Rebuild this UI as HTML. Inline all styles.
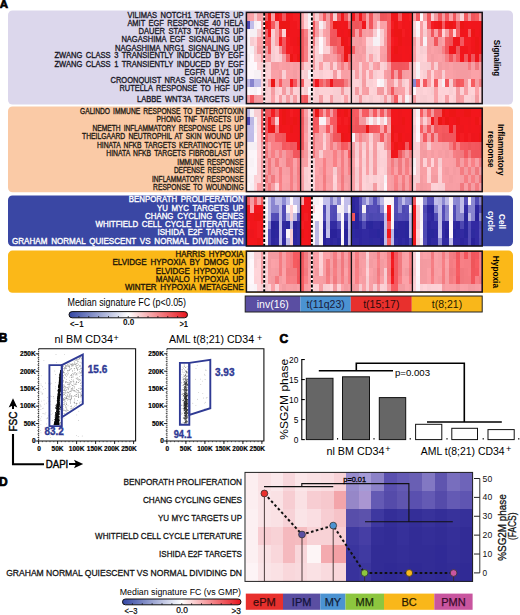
<!DOCTYPE html>
<html><head><meta charset="utf-8"><style>
html,body{margin:0;padding:0;background:#fff;width:520px;height:615px;overflow:hidden}
svg{display:block;font-family:"Liberation Sans", sans-serif}
</style></head><body>
<svg width="520" height="615" viewBox="0 0 520 615">
<text x="-0.3" y="7.6" font-size="11.5" font-weight="bold" fill="#000" text-anchor="start" stroke="#000" stroke-width="0.7">A</text>
<rect x="8" y="10.5" width="505" height="94.00" rx="4.5" fill="#dcd7ec"/>
<rect x="8" y="106.5" width="505" height="85.80" rx="4.5" fill="#facaa6"/>
<rect x="8" y="195.5" width="505" height="50.80" rx="4.5" fill="#3a47a4"/>
<rect x="8" y="250.6" width="505" height="42.10" rx="4.5" fill="#fbb818"/>
<text x="243.6" y="17.95" font-size="8.5" font-weight="normal" fill="#1b1a28" text-anchor="end" textLength="116.2" lengthAdjust="spacingAndGlyphs" stroke="#1b1a28" stroke-width="0.35" word-spacing="1.6">VILIMAS NOTCH1 TARGETS UP</text>
<text x="243.6" y="25.95" font-size="8.5" font-weight="normal" fill="#1b1a28" text-anchor="end" textLength="116.2" lengthAdjust="spacingAndGlyphs" stroke="#1b1a28" stroke-width="0.35" word-spacing="1.6">AMIT EGF RESPONSE 40 HELA</text>
<text x="243.6" y="33.95" font-size="8.5" font-weight="normal" fill="#1b1a28" text-anchor="end" textLength="105.1" lengthAdjust="spacingAndGlyphs" stroke="#1b1a28" stroke-width="0.35" word-spacing="1.6">DAUER STAT3 TARGETS UP</text>
<text x="243.6" y="42.2" font-size="8.5" font-weight="normal" fill="#1b1a28" text-anchor="end" textLength="122.2" lengthAdjust="spacingAndGlyphs" stroke="#1b1a28" stroke-width="0.35" word-spacing="1.6">NAGASHIMA EGF SIGNALING UP</text>
<text x="243.6" y="50.95" font-size="8.5" font-weight="normal" fill="#1b1a28" text-anchor="end" textLength="128.6" lengthAdjust="spacingAndGlyphs" stroke="#1b1a28" stroke-width="0.35" word-spacing="1.6">NAGASHIMA NRG1 SIGNALING UP</text>
<text x="243.6" y="58.45" font-size="8.5" font-weight="normal" fill="#1b1a28" text-anchor="end" textLength="189.1" lengthAdjust="spacingAndGlyphs" stroke="#1b1a28" stroke-width="0.35" word-spacing="1.6">ZWANG CLASS 3 TRANSIENTLY INDUCED BY EGF</text>
<text x="243.6" y="67.2" font-size="8.5" font-weight="normal" fill="#1b1a28" text-anchor="end" textLength="189.1" lengthAdjust="spacingAndGlyphs" stroke="#1b1a28" stroke-width="0.35" word-spacing="1.6">ZWANG CLASS 1 TRANSIENTLY INDUCED BY EGF</text>
<text x="243.6" y="75.15" font-size="8.5" font-weight="normal" fill="#1b1a28" text-anchor="end" textLength="59.0" lengthAdjust="spacingAndGlyphs" stroke="#1b1a28" stroke-width="0.35" word-spacing="1.6">EGFR UP.V1 UP</text>
<text x="243.6" y="83.45" font-size="8.5" font-weight="normal" fill="#1b1a28" text-anchor="end" textLength="133.1" lengthAdjust="spacingAndGlyphs" stroke="#1b1a28" stroke-width="0.35" word-spacing="1.6">CROONQUIST NRAS SIGNALING UP</text>
<text x="243.6" y="91.35" font-size="8.5" font-weight="normal" fill="#1b1a28" text-anchor="end" textLength="124.1" lengthAdjust="spacingAndGlyphs" stroke="#1b1a28" stroke-width="0.35" word-spacing="1.6">RUTELLA RESPONSE TO HGF UP</text>
<text x="243.6" y="101.55" font-size="8.5" font-weight="normal" fill="#1b1a28" text-anchor="end" textLength="106.6" lengthAdjust="spacingAndGlyphs" stroke="#1b1a28" stroke-width="0.35" word-spacing="1.6">LABBE WNT3A TARGETS UP</text>
<text x="243.6" y="113.85" font-size="8.5" font-weight="normal" fill="#231a14" text-anchor="end" textLength="163.6" lengthAdjust="spacingAndGlyphs" stroke="#231a14" stroke-width="0.35" word-spacing="1.6">GALINDO IMMUNE RESPONSE TO ENTEROTOXIN</text>
<text x="243.6" y="122.45" font-size="8.5" font-weight="normal" fill="#231a14" text-anchor="end" textLength="87.0" lengthAdjust="spacingAndGlyphs" stroke="#231a14" stroke-width="0.35" word-spacing="1.6">PHONG TNF TARGETS UP</text>
<text x="243.6" y="130.85" font-size="8.5" font-weight="normal" fill="#231a14" text-anchor="end" textLength="151.1" lengthAdjust="spacingAndGlyphs" stroke="#231a14" stroke-width="0.35" word-spacing="1.6">NEMETH INFLAMMATORY RESPONSE LPS UP</text>
<text x="243.6" y="139.25" font-size="8.5" font-weight="normal" fill="#231a14" text-anchor="end" textLength="161.6" lengthAdjust="spacingAndGlyphs" stroke="#231a14" stroke-width="0.35" word-spacing="1.6">THEILGAARD NEUTROPHIL AT SKIN WOUND UP</text>
<text x="243.6" y="147.55" font-size="8.5" font-weight="normal" fill="#231a14" text-anchor="end" textLength="146.6" lengthAdjust="spacingAndGlyphs" stroke="#231a14" stroke-width="0.35" word-spacing="1.6">HINATA NFKB TARGETS KERATINOCYTE UP</text>
<text x="243.6" y="156.05" font-size="8.5" font-weight="normal" fill="#231a14" text-anchor="end" textLength="137.3" lengthAdjust="spacingAndGlyphs" stroke="#231a14" stroke-width="0.35" word-spacing="1.6">HINATA NFKB TARGETS FIBROBLAST UP</text>
<text x="243.6" y="164.65" font-size="8.5" font-weight="normal" fill="#231a14" text-anchor="end" textLength="66.3" lengthAdjust="spacingAndGlyphs" stroke="#231a14" stroke-width="0.35" word-spacing="1.6">IMMUNE RESPONSE</text>
<text x="243.6" y="172.95" font-size="8.5" font-weight="normal" fill="#231a14" text-anchor="end" textLength="69.7" lengthAdjust="spacingAndGlyphs" stroke="#231a14" stroke-width="0.35" word-spacing="1.6">DEFENSE RESPONSE</text>
<text x="243.6" y="181.65" font-size="8.5" font-weight="normal" fill="#231a14" text-anchor="end" textLength="91.6" lengthAdjust="spacingAndGlyphs" stroke="#231a14" stroke-width="0.35" word-spacing="1.6">INFLAMMATORY RESPONSE</text>
<text x="243.6" y="190.25" font-size="8.5" font-weight="normal" fill="#231a14" text-anchor="end" textLength="90.5" lengthAdjust="spacingAndGlyphs" stroke="#231a14" stroke-width="0.35" word-spacing="1.6">RESPONSE TO WOUNDING</text>
<text x="243.6" y="202.45" font-size="8.5" font-weight="normal" fill="#ffffff" text-anchor="end" textLength="114.8" lengthAdjust="spacingAndGlyphs" stroke="#ffffff" stroke-width="0.35" word-spacing="1.6">BENPORATH PROLIFERATION</text>
<text x="243.6" y="210.55" font-size="8.5" font-weight="normal" fill="#ffffff" text-anchor="end" textLength="86.6" lengthAdjust="spacingAndGlyphs" stroke="#ffffff" stroke-width="0.35" word-spacing="1.6">YU MYC TARGETS UP</text>
<text x="243.6" y="218.55" font-size="8.5" font-weight="normal" fill="#ffffff" text-anchor="end" textLength="98.6" lengthAdjust="spacingAndGlyphs" stroke="#ffffff" stroke-width="0.35" word-spacing="1.6">CHANG CYCLING GENES</text>
<text x="243.6" y="226.75" font-size="8.5" font-weight="normal" fill="#ffffff" text-anchor="end" textLength="148.1" lengthAdjust="spacingAndGlyphs" stroke="#ffffff" stroke-width="0.35" word-spacing="1.6">WHITFIELD CELL CYCLE LITERATURE</text>
<text x="243.6" y="235.35" font-size="8.5" font-weight="normal" fill="#ffffff" text-anchor="end" textLength="86.1" lengthAdjust="spacingAndGlyphs" stroke="#ffffff" stroke-width="0.35" word-spacing="1.6">ISHIDA E2F TARGETS</text>
<text x="243.6" y="244.05" font-size="8.5" font-weight="normal" fill="#ffffff" text-anchor="end" textLength="231.6" lengthAdjust="spacingAndGlyphs" stroke="#ffffff" stroke-width="0.35" word-spacing="1.6">GRAHAM NORMAL QUIESCENT VS NORMAL DIVIDING DN</text>
<text x="243.6" y="257.05" font-size="8.5" font-weight="normal" fill="#1e1608" text-anchor="end" textLength="68.1" lengthAdjust="spacingAndGlyphs" stroke="#1e1608" stroke-width="0.35" word-spacing="1.6">HARRIS HYPOXIA</text>
<text x="243.6" y="265.45" font-size="8.5" font-weight="normal" fill="#1e1608" text-anchor="end" textLength="131.1" lengthAdjust="spacingAndGlyphs" stroke="#1e1608" stroke-width="0.35" word-spacing="1.6">ELVIDGE HYPOXIA BY DMOG UP</text>
<text x="243.6" y="273.75" font-size="8.5" font-weight="normal" fill="#1e1608" text-anchor="end" textLength="87.8" lengthAdjust="spacingAndGlyphs" stroke="#1e1608" stroke-width="0.35" word-spacing="1.6">ELVIDGE HYPOXIA UP</text>
<text x="243.6" y="281.85" font-size="8.5" font-weight="normal" fill="#1e1608" text-anchor="end" textLength="87.8" lengthAdjust="spacingAndGlyphs" stroke="#1e1608" stroke-width="0.35" word-spacing="1.6">MANALO HYPOXIA UP</text>
<text x="243.6" y="290.15" font-size="8.5" font-weight="normal" fill="#1e1608" text-anchor="end" textLength="118.6" lengthAdjust="spacingAndGlyphs" stroke="#1e1608" stroke-width="0.35" word-spacing="1.6">WINTER HYPOXIA METAGENE</text>
<text transform="translate(494.3,57.9) rotate(90)" x="0" y="0" font-size="9.6" font-weight="bold" fill="#000" text-anchor="middle" textLength="36.3" lengthAdjust="spacingAndGlyphs">Signaling</text>
<text transform="translate(498.2,149.8) rotate(90)" x="0" y="0" font-size="9.6" font-weight="bold" fill="#000" text-anchor="middle" textLength="51.6" lengthAdjust="spacingAndGlyphs">Inflammatory</text>
<text transform="translate(488.4,149.3) rotate(90)" x="0" y="0" font-size="9.6" font-weight="bold" fill="#000" text-anchor="middle" textLength="36.5" lengthAdjust="spacingAndGlyphs">response</text>
<text transform="translate(499.4,221.5) rotate(90)" x="0" y="0" font-size="9.6" font-weight="bold" fill="#fff" text-anchor="middle" textLength="15.2" lengthAdjust="spacingAndGlyphs">Cell</text>
<text transform="translate(487.6,221.3) rotate(90)" x="0" y="0" font-size="9.6" font-weight="bold" fill="#fff" text-anchor="middle" textLength="20.5" lengthAdjust="spacingAndGlyphs">cycle</text>
<text transform="translate(493.4,271.9) rotate(90)" x="0" y="0" font-size="9.6" font-weight="bold" fill="#000" text-anchor="middle" textLength="32.2" lengthAdjust="spacingAndGlyphs">Hypoxia</text>
<defs><filter id="soft" x="-2%" y="-2%" width="104%" height="104%"><feGaussianBlur stdDeviation="0.6"/></filter></defs>
<g shape-rendering="crispEdges" filter="url(#soft)"><rect x="246.40" y="12.40" width="3.86" height="8.59" fill="#f69da3"/>
<rect x="249.96" y="12.40" width="3.86" height="8.59" fill="#fba2a8"/>
<rect x="253.52" y="12.40" width="3.86" height="8.59" fill="#f9ced3"/>
<rect x="257.08" y="12.40" width="3.86" height="8.59" fill="#f89fa5"/>
<rect x="260.64" y="12.40" width="3.86" height="8.59" fill="#faa1a7"/>
<rect x="264.20" y="12.40" width="3.94" height="8.59" fill="#f0555b"/>
<rect x="267.84" y="12.40" width="3.94" height="8.59" fill="#ec1218"/>
<rect x="271.48" y="12.40" width="3.94" height="8.59" fill="#faa1a7"/>
<rect x="275.12" y="12.40" width="3.94" height="8.59" fill="#f0161c"/>
<rect x="278.76" y="12.40" width="3.94" height="8.59" fill="#f41a20"/>
<rect x="282.40" y="12.40" width="3.94" height="8.59" fill="#f2575d"/>
<rect x="286.04" y="12.40" width="3.94" height="8.59" fill="#ef151b"/>
<rect x="289.68" y="12.40" width="3.94" height="8.59" fill="#f3191f"/>
<rect x="293.32" y="12.40" width="3.94" height="8.59" fill="#f41a20"/>
<rect x="296.96" y="12.40" width="3.94" height="8.59" fill="#f41a20"/>
<rect x="300.60" y="12.40" width="4.07" height="8.59" fill="#faa1a7"/>
<rect x="304.37" y="12.40" width="4.07" height="8.59" fill="#fdd2d7"/>
<rect x="308.13" y="12.40" width="4.07" height="8.59" fill="#f8f2f6"/>
<rect x="311.90" y="12.40" width="3.89" height="8.59" fill="#f69da3"/>
<rect x="315.49" y="12.40" width="3.89" height="8.59" fill="#f9ced3"/>
<rect x="319.08" y="12.40" width="3.89" height="8.59" fill="#fba2a8"/>
<rect x="322.67" y="12.40" width="3.89" height="8.59" fill="#f55a60"/>
<rect x="326.26" y="12.40" width="3.89" height="8.59" fill="#f39aa0"/>
<rect x="329.85" y="12.40" width="3.89" height="8.59" fill="#f0555b"/>
<rect x="333.45" y="12.40" width="3.89" height="8.59" fill="#f9ced3"/>
<rect x="337.04" y="12.40" width="3.89" height="8.59" fill="#ef545a"/>
<rect x="340.63" y="12.40" width="3.89" height="8.59" fill="#f0161c"/>
<rect x="344.22" y="12.40" width="3.89" height="8.59" fill="#ef545a"/>
<rect x="347.81" y="12.40" width="3.89" height="8.59" fill="#f79ea4"/>
<rect x="351.40" y="12.40" width="3.89" height="8.59" fill="#f3191f"/>
<rect x="354.99" y="12.40" width="3.89" height="8.59" fill="#f55a60"/>
<rect x="358.58" y="12.40" width="3.89" height="8.59" fill="#f2181e"/>
<rect x="362.16" y="12.40" width="3.89" height="8.59" fill="#f55a60"/>
<rect x="365.75" y="12.40" width="3.89" height="8.59" fill="#faa1a7"/>
<rect x="369.34" y="12.40" width="3.89" height="8.59" fill="#f1565c"/>
<rect x="372.93" y="12.40" width="3.89" height="8.59" fill="#f89fa5"/>
<rect x="376.52" y="12.40" width="3.89" height="8.59" fill="#f49ba1"/>
<rect x="380.11" y="12.40" width="3.89" height="8.59" fill="#ef545a"/>
<rect x="383.69" y="12.40" width="3.89" height="8.59" fill="#f1565c"/>
<rect x="387.28" y="12.40" width="3.89" height="8.59" fill="#f65b61"/>
<rect x="390.87" y="12.40" width="3.89" height="8.59" fill="#ef151b"/>
<rect x="394.46" y="12.40" width="3.89" height="8.59" fill="#f0161c"/>
<rect x="398.05" y="12.40" width="3.89" height="8.59" fill="#f55a60"/>
<rect x="401.64" y="12.40" width="3.89" height="8.59" fill="#f0161c"/>
<rect x="405.22" y="12.40" width="3.89" height="8.59" fill="#f2181e"/>
<rect x="408.81" y="12.40" width="3.89" height="8.59" fill="#f41a20"/>
<rect x="412.40" y="12.40" width="3.97" height="8.59" fill="#f9a0a6"/>
<rect x="416.07" y="12.40" width="3.97" height="8.59" fill="#f4595f"/>
<rect x="419.75" y="12.40" width="3.97" height="8.59" fill="#fef8fc"/>
<rect x="423.42" y="12.40" width="3.97" height="8.59" fill="#f9a0a6"/>
<rect x="427.09" y="12.40" width="3.97" height="8.59" fill="#f2575d"/>
<rect x="430.77" y="12.40" width="3.97" height="8.59" fill="#fcd1d6"/>
<rect x="434.44" y="12.40" width="3.97" height="8.59" fill="#f39aa0"/>
<rect x="438.12" y="12.40" width="3.97" height="8.59" fill="#f3585e"/>
<rect x="441.79" y="12.40" width="3.97" height="8.59" fill="#f59ca2"/>
<rect x="445.46" y="12.40" width="3.97" height="8.59" fill="#f4595f"/>
<rect x="449.14" y="12.40" width="3.97" height="8.59" fill="#fba2a8"/>
<rect x="452.81" y="12.40" width="3.97" height="8.59" fill="#f0555b"/>
<rect x="456.48" y="12.40" width="3.97" height="8.59" fill="#f69da3"/>
<rect x="460.16" y="12.40" width="3.97" height="8.59" fill="#fbd0d5"/>
<rect x="463.83" y="12.40" width="3.97" height="8.59" fill="#f3585e"/>
<rect x="467.51" y="12.40" width="3.97" height="8.59" fill="#f49ba1"/>
<rect x="471.18" y="12.40" width="3.97" height="8.59" fill="#f0555b"/>
<rect x="474.85" y="12.40" width="3.97" height="8.59" fill="#f65b61"/>
<rect x="478.53" y="12.40" width="3.97" height="8.59" fill="#faa1a7"/>
<rect x="246.40" y="20.69" width="3.86" height="8.59" fill="#4d47b1"/>
<rect x="249.96" y="20.69" width="3.86" height="8.59" fill="#c1bde9"/>
<rect x="253.52" y="20.69" width="3.86" height="8.59" fill="#f7f1f5"/>
<rect x="257.08" y="20.69" width="3.86" height="8.59" fill="#fcf6fa"/>
<rect x="260.64" y="20.69" width="3.86" height="8.59" fill="#f59ca2"/>
<rect x="264.20" y="20.69" width="3.94" height="8.59" fill="#ec1218"/>
<rect x="267.84" y="20.69" width="3.94" height="8.59" fill="#f0161c"/>
<rect x="271.48" y="20.69" width="3.94" height="8.59" fill="#f55a60"/>
<rect x="275.12" y="20.69" width="3.94" height="8.59" fill="#f9a0a6"/>
<rect x="278.76" y="20.69" width="3.94" height="8.59" fill="#ed1319"/>
<rect x="282.40" y="20.69" width="3.94" height="8.59" fill="#ec1218"/>
<rect x="286.04" y="20.69" width="3.94" height="8.59" fill="#ec1218"/>
<rect x="289.68" y="20.69" width="3.94" height="8.59" fill="#f2181e"/>
<rect x="293.32" y="20.69" width="3.94" height="8.59" fill="#f1171d"/>
<rect x="296.96" y="20.69" width="3.94" height="8.59" fill="#f41a20"/>
<rect x="300.60" y="20.69" width="4.07" height="8.59" fill="#f79ea4"/>
<rect x="304.37" y="20.69" width="4.07" height="8.59" fill="#ffd4d9"/>
<rect x="308.13" y="20.69" width="4.07" height="8.59" fill="#f9f3f7"/>
<rect x="311.90" y="20.69" width="3.89" height="8.59" fill="#ef545a"/>
<rect x="315.49" y="20.69" width="3.89" height="8.59" fill="#f79ea4"/>
<rect x="319.08" y="20.69" width="3.89" height="8.59" fill="#f6f0f4"/>
<rect x="322.67" y="20.69" width="3.89" height="8.59" fill="#f8cdd2"/>
<rect x="326.26" y="20.69" width="3.89" height="8.59" fill="#f49ba1"/>
<rect x="329.85" y="20.69" width="3.89" height="8.59" fill="#f75c62"/>
<rect x="333.45" y="20.69" width="3.89" height="8.59" fill="#ec1218"/>
<rect x="337.04" y="20.69" width="3.89" height="8.59" fill="#ef151b"/>
<rect x="340.63" y="20.69" width="3.89" height="8.59" fill="#f2181e"/>
<rect x="344.22" y="20.69" width="3.89" height="8.59" fill="#f0161c"/>
<rect x="347.81" y="20.69" width="3.89" height="8.59" fill="#f3585e"/>
<rect x="351.40" y="20.69" width="3.89" height="8.59" fill="#f1565c"/>
<rect x="354.99" y="20.69" width="3.89" height="8.59" fill="#ef545a"/>
<rect x="358.58" y="20.69" width="3.89" height="8.59" fill="#f4595f"/>
<rect x="362.16" y="20.69" width="3.89" height="8.59" fill="#f1171d"/>
<rect x="365.75" y="20.69" width="3.89" height="8.59" fill="#f89fa5"/>
<rect x="369.34" y="20.69" width="3.89" height="8.59" fill="#f1565c"/>
<rect x="372.93" y="20.69" width="3.89" height="8.59" fill="#f9a0a6"/>
<rect x="376.52" y="20.69" width="3.89" height="8.59" fill="#fdd2d7"/>
<rect x="380.11" y="20.69" width="3.89" height="8.59" fill="#faa1a7"/>
<rect x="383.69" y="20.69" width="3.89" height="8.59" fill="#fba2a8"/>
<rect x="387.28" y="20.69" width="3.89" height="8.59" fill="#f55a60"/>
<rect x="390.87" y="20.69" width="3.89" height="8.59" fill="#f41a20"/>
<rect x="394.46" y="20.69" width="3.89" height="8.59" fill="#ed1319"/>
<rect x="398.05" y="20.69" width="3.89" height="8.59" fill="#f41a20"/>
<rect x="401.64" y="20.69" width="3.89" height="8.59" fill="#f0161c"/>
<rect x="405.22" y="20.69" width="3.89" height="8.59" fill="#f2181e"/>
<rect x="408.81" y="20.69" width="3.89" height="8.59" fill="#ef151b"/>
<rect x="412.40" y="20.69" width="3.97" height="8.59" fill="#fbd0d5"/>
<rect x="416.07" y="20.69" width="3.97" height="8.59" fill="#fcf6fa"/>
<rect x="419.75" y="20.69" width="3.97" height="8.59" fill="#f79ea4"/>
<rect x="423.42" y="20.69" width="3.97" height="8.59" fill="#ffd4d9"/>
<rect x="427.09" y="20.69" width="3.97" height="8.59" fill="#f3585e"/>
<rect x="430.77" y="20.69" width="3.97" height="8.59" fill="#f41a20"/>
<rect x="434.44" y="20.69" width="3.97" height="8.59" fill="#f1171d"/>
<rect x="438.12" y="20.69" width="3.97" height="8.59" fill="#ec1218"/>
<rect x="441.79" y="20.69" width="3.97" height="8.59" fill="#f55a60"/>
<rect x="445.46" y="20.69" width="3.97" height="8.59" fill="#f1171d"/>
<rect x="449.14" y="20.69" width="3.97" height="8.59" fill="#ec1218"/>
<rect x="452.81" y="20.69" width="3.97" height="8.59" fill="#f2181e"/>
<rect x="456.48" y="20.69" width="3.97" height="8.59" fill="#f1565c"/>
<rect x="460.16" y="20.69" width="3.97" height="8.59" fill="#ec1218"/>
<rect x="463.83" y="20.69" width="3.97" height="8.59" fill="#f1171d"/>
<rect x="467.51" y="20.69" width="3.97" height="8.59" fill="#f3191f"/>
<rect x="471.18" y="20.69" width="3.97" height="8.59" fill="#f1171d"/>
<rect x="474.85" y="20.69" width="3.97" height="8.59" fill="#f1171d"/>
<rect x="478.53" y="20.69" width="3.97" height="8.59" fill="#f0161c"/>
<rect x="246.40" y="28.98" width="3.86" height="8.59" fill="#fdf7fb"/>
<rect x="249.96" y="28.98" width="3.86" height="8.59" fill="#f6f0f4"/>
<rect x="253.52" y="28.98" width="3.86" height="8.59" fill="#f6f0f4"/>
<rect x="257.08" y="28.98" width="3.86" height="8.59" fill="#f7ccd1"/>
<rect x="260.64" y="28.98" width="3.86" height="8.59" fill="#f89fa5"/>
<rect x="264.20" y="28.98" width="3.94" height="8.59" fill="#f3585e"/>
<rect x="267.84" y="28.98" width="3.94" height="8.59" fill="#f3191f"/>
<rect x="271.48" y="28.98" width="3.94" height="8.59" fill="#fbd0d5"/>
<rect x="275.12" y="28.98" width="3.94" height="8.59" fill="#f89fa5"/>
<rect x="278.76" y="28.98" width="3.94" height="8.59" fill="#f1565c"/>
<rect x="282.40" y="28.98" width="3.94" height="8.59" fill="#fcd1d6"/>
<rect x="286.04" y="28.98" width="3.94" height="8.59" fill="#ee141a"/>
<rect x="289.68" y="28.98" width="3.94" height="8.59" fill="#f1171d"/>
<rect x="293.32" y="28.98" width="3.94" height="8.59" fill="#f1171d"/>
<rect x="296.96" y="28.98" width="3.94" height="8.59" fill="#f0161c"/>
<rect x="300.60" y="28.98" width="4.07" height="8.59" fill="#f3585e"/>
<rect x="304.37" y="28.98" width="4.07" height="8.59" fill="#f77f85"/>
<rect x="308.13" y="28.98" width="4.07" height="8.59" fill="#f8cdd2"/>
<rect x="311.90" y="28.98" width="3.89" height="8.59" fill="#ef545a"/>
<rect x="315.49" y="28.98" width="3.89" height="8.59" fill="#f59ca2"/>
<rect x="319.08" y="28.98" width="3.89" height="8.59" fill="#fbd0d5"/>
<rect x="322.67" y="28.98" width="3.89" height="8.59" fill="#fba2a8"/>
<rect x="326.26" y="28.98" width="3.89" height="8.59" fill="#f69da3"/>
<rect x="329.85" y="28.98" width="3.89" height="8.59" fill="#f3585e"/>
<rect x="333.45" y="28.98" width="3.89" height="8.59" fill="#f2575d"/>
<rect x="337.04" y="28.98" width="3.89" height="8.59" fill="#f1171d"/>
<rect x="340.63" y="28.98" width="3.89" height="8.59" fill="#ee141a"/>
<rect x="344.22" y="28.98" width="3.89" height="8.59" fill="#f2181e"/>
<rect x="347.81" y="28.98" width="3.89" height="8.59" fill="#ed1319"/>
<rect x="351.40" y="28.98" width="3.89" height="8.59" fill="#f0555b"/>
<rect x="354.99" y="28.98" width="3.89" height="8.59" fill="#f89fa5"/>
<rect x="358.58" y="28.98" width="3.89" height="8.59" fill="#f4595f"/>
<rect x="362.16" y="28.98" width="3.89" height="8.59" fill="#f69da3"/>
<rect x="365.75" y="28.98" width="3.89" height="8.59" fill="#faa1a7"/>
<rect x="369.34" y="28.98" width="3.89" height="8.59" fill="#f59ca2"/>
<rect x="372.93" y="28.98" width="3.89" height="8.59" fill="#f8cdd2"/>
<rect x="376.52" y="28.98" width="3.89" height="8.59" fill="#fbf5f9"/>
<rect x="380.11" y="28.98" width="3.89" height="8.59" fill="#facfd4"/>
<rect x="383.69" y="28.98" width="3.89" height="8.59" fill="#faa1a7"/>
<rect x="387.28" y="28.98" width="3.89" height="8.59" fill="#f3585e"/>
<rect x="390.87" y="28.98" width="3.89" height="8.59" fill="#ef151b"/>
<rect x="394.46" y="28.98" width="3.89" height="8.59" fill="#ed1319"/>
<rect x="398.05" y="28.98" width="3.89" height="8.59" fill="#ec1218"/>
<rect x="401.64" y="28.98" width="3.89" height="8.59" fill="#f41a20"/>
<rect x="405.22" y="28.98" width="3.89" height="8.59" fill="#ef151b"/>
<rect x="408.81" y="28.98" width="3.89" height="8.59" fill="#f1171d"/>
<rect x="412.40" y="28.98" width="3.97" height="8.59" fill="#f9ced3"/>
<rect x="416.07" y="28.98" width="3.97" height="8.59" fill="#faf4f8"/>
<rect x="419.75" y="28.98" width="3.97" height="8.59" fill="#f89fa5"/>
<rect x="423.42" y="28.98" width="3.97" height="8.59" fill="#f8cdd2"/>
<rect x="427.09" y="28.98" width="3.97" height="8.59" fill="#f89fa5"/>
<rect x="430.77" y="28.98" width="3.97" height="8.59" fill="#f1565c"/>
<rect x="434.44" y="28.98" width="3.97" height="8.59" fill="#f9a0a6"/>
<rect x="438.12" y="28.98" width="3.97" height="8.59" fill="#f3585e"/>
<rect x="441.79" y="28.98" width="3.97" height="8.59" fill="#ffd4d9"/>
<rect x="445.46" y="28.98" width="3.97" height="8.59" fill="#f79ea4"/>
<rect x="449.14" y="28.98" width="3.97" height="8.59" fill="#f65b61"/>
<rect x="452.81" y="28.98" width="3.97" height="8.59" fill="#fcd1d6"/>
<rect x="456.48" y="28.98" width="3.97" height="8.59" fill="#f55a60"/>
<rect x="460.16" y="28.98" width="3.97" height="8.59" fill="#f0161c"/>
<rect x="463.83" y="28.98" width="3.97" height="8.59" fill="#f2181e"/>
<rect x="467.51" y="28.98" width="3.97" height="8.59" fill="#f55a60"/>
<rect x="471.18" y="28.98" width="3.97" height="8.59" fill="#ec1218"/>
<rect x="474.85" y="28.98" width="3.97" height="8.59" fill="#f2181e"/>
<rect x="478.53" y="28.98" width="3.97" height="8.59" fill="#ee141a"/>
<rect x="246.40" y="37.27" width="3.86" height="8.59" fill="#f9f3f7"/>
<rect x="249.96" y="37.27" width="3.86" height="8.59" fill="#f7ccd1"/>
<rect x="253.52" y="37.27" width="3.86" height="8.59" fill="#fed3d8"/>
<rect x="257.08" y="37.27" width="3.86" height="8.59" fill="#fba2a8"/>
<rect x="260.64" y="37.27" width="3.86" height="8.59" fill="#f9a0a6"/>
<rect x="264.20" y="37.27" width="3.94" height="8.59" fill="#f75c62"/>
<rect x="267.84" y="37.27" width="3.94" height="8.59" fill="#f2575d"/>
<rect x="271.48" y="37.27" width="3.94" height="8.59" fill="#f7ccd1"/>
<rect x="275.12" y="37.27" width="3.94" height="8.59" fill="#faa1a7"/>
<rect x="278.76" y="37.27" width="3.94" height="8.59" fill="#f41a20"/>
<rect x="282.40" y="37.27" width="3.94" height="8.59" fill="#f3585e"/>
<rect x="286.04" y="37.27" width="3.94" height="8.59" fill="#f41a20"/>
<rect x="289.68" y="37.27" width="3.94" height="8.59" fill="#f1171d"/>
<rect x="293.32" y="37.27" width="3.94" height="8.59" fill="#ef151b"/>
<rect x="296.96" y="37.27" width="3.94" height="8.59" fill="#ed1319"/>
<rect x="300.60" y="37.27" width="4.07" height="8.59" fill="#f3585e"/>
<rect x="304.37" y="37.27" width="4.07" height="8.59" fill="#f27a80"/>
<rect x="308.13" y="37.27" width="4.07" height="8.59" fill="#facfd4"/>
<rect x="311.90" y="37.27" width="3.89" height="8.59" fill="#f1797f"/>
<rect x="315.49" y="37.27" width="3.89" height="8.59" fill="#f7ccd1"/>
<rect x="319.08" y="37.27" width="3.89" height="8.59" fill="#fef8fc"/>
<rect x="322.67" y="37.27" width="3.89" height="8.59" fill="#facfd4"/>
<rect x="326.26" y="37.27" width="3.89" height="8.59" fill="#f9a0a6"/>
<rect x="329.85" y="37.27" width="3.89" height="8.59" fill="#ef545a"/>
<rect x="333.45" y="37.27" width="3.89" height="8.59" fill="#ef545a"/>
<rect x="337.04" y="37.27" width="3.89" height="8.59" fill="#f65b61"/>
<rect x="340.63" y="37.27" width="3.89" height="8.59" fill="#ed1319"/>
<rect x="344.22" y="37.27" width="3.89" height="8.59" fill="#ee141a"/>
<rect x="347.81" y="37.27" width="3.89" height="8.59" fill="#f41a20"/>
<rect x="351.40" y="37.27" width="3.89" height="8.59" fill="#f79ea4"/>
<rect x="354.99" y="37.27" width="3.89" height="8.59" fill="#f69da3"/>
<rect x="358.58" y="37.27" width="3.89" height="8.59" fill="#f39aa0"/>
<rect x="362.16" y="37.27" width="3.89" height="8.59" fill="#fba2a8"/>
<rect x="365.75" y="37.27" width="3.89" height="8.59" fill="#ffd4d9"/>
<rect x="369.34" y="37.27" width="3.89" height="8.59" fill="#fdd2d7"/>
<rect x="372.93" y="37.27" width="3.89" height="8.59" fill="#f6f0f4"/>
<rect x="376.52" y="37.27" width="3.89" height="8.59" fill="#f7f1f5"/>
<rect x="380.11" y="37.27" width="3.89" height="8.59" fill="#fcd1d6"/>
<rect x="383.69" y="37.27" width="3.89" height="8.59" fill="#f59ca2"/>
<rect x="387.28" y="37.27" width="3.89" height="8.59" fill="#f3585e"/>
<rect x="390.87" y="37.27" width="3.89" height="8.59" fill="#f41a20"/>
<rect x="394.46" y="37.27" width="3.89" height="8.59" fill="#f3191f"/>
<rect x="398.05" y="37.27" width="3.89" height="8.59" fill="#ec1218"/>
<rect x="401.64" y="37.27" width="3.89" height="8.59" fill="#f1171d"/>
<rect x="405.22" y="37.27" width="3.89" height="8.59" fill="#ef151b"/>
<rect x="408.81" y="37.27" width="3.89" height="8.59" fill="#ef151b"/>
<rect x="412.40" y="37.27" width="3.97" height="8.59" fill="#f49ba1"/>
<rect x="416.07" y="37.27" width="3.97" height="8.59" fill="#ffd4d9"/>
<rect x="419.75" y="37.27" width="3.97" height="8.59" fill="#f49ba1"/>
<rect x="423.42" y="37.27" width="3.97" height="8.59" fill="#f8f2f6"/>
<rect x="427.09" y="37.27" width="3.97" height="8.59" fill="#f69da3"/>
<rect x="430.77" y="37.27" width="3.97" height="8.59" fill="#f79ea4"/>
<rect x="434.44" y="37.27" width="3.97" height="8.59" fill="#f1565c"/>
<rect x="438.12" y="37.27" width="3.97" height="8.59" fill="#f39aa0"/>
<rect x="441.79" y="37.27" width="3.97" height="8.59" fill="#faa1a7"/>
<rect x="445.46" y="37.27" width="3.97" height="8.59" fill="#f55a60"/>
<rect x="449.14" y="37.27" width="3.97" height="8.59" fill="#ef545a"/>
<rect x="452.81" y="37.27" width="3.97" height="8.59" fill="#f0161c"/>
<rect x="456.48" y="37.27" width="3.97" height="8.59" fill="#ef151b"/>
<rect x="460.16" y="37.27" width="3.97" height="8.59" fill="#f3585e"/>
<rect x="463.83" y="37.27" width="3.97" height="8.59" fill="#f41a20"/>
<rect x="467.51" y="37.27" width="3.97" height="8.59" fill="#f41a20"/>
<rect x="471.18" y="37.27" width="3.97" height="8.59" fill="#f2181e"/>
<rect x="474.85" y="37.27" width="3.97" height="8.59" fill="#ec1218"/>
<rect x="478.53" y="37.27" width="3.97" height="8.59" fill="#f3191f"/>
<rect x="246.40" y="45.56" width="3.86" height="8.59" fill="#fbf5f9"/>
<rect x="249.96" y="45.56" width="3.86" height="8.59" fill="#f6f0f4"/>
<rect x="253.52" y="45.56" width="3.86" height="8.59" fill="#f7ccd1"/>
<rect x="257.08" y="45.56" width="3.86" height="8.59" fill="#f59ca2"/>
<rect x="260.64" y="45.56" width="3.86" height="8.59" fill="#f39aa0"/>
<rect x="264.20" y="45.56" width="3.94" height="8.59" fill="#f49ba1"/>
<rect x="267.84" y="45.56" width="3.94" height="8.59" fill="#ef545a"/>
<rect x="271.48" y="45.56" width="3.94" height="8.59" fill="#f8cdd2"/>
<rect x="275.12" y="45.56" width="3.94" height="8.59" fill="#fed3d8"/>
<rect x="278.76" y="45.56" width="3.94" height="8.59" fill="#f39aa0"/>
<rect x="282.40" y="45.56" width="3.94" height="8.59" fill="#f0555b"/>
<rect x="286.04" y="45.56" width="3.94" height="8.59" fill="#f41a20"/>
<rect x="289.68" y="45.56" width="3.94" height="8.59" fill="#f41a20"/>
<rect x="293.32" y="45.56" width="3.94" height="8.59" fill="#f3191f"/>
<rect x="296.96" y="45.56" width="3.94" height="8.59" fill="#f1171d"/>
<rect x="300.60" y="45.56" width="4.07" height="8.59" fill="#f1565c"/>
<rect x="304.37" y="45.56" width="4.07" height="8.59" fill="#f67e84"/>
<rect x="308.13" y="45.56" width="4.07" height="8.59" fill="#f8cdd2"/>
<rect x="311.90" y="45.56" width="3.89" height="8.59" fill="#f89fa5"/>
<rect x="315.49" y="45.56" width="3.89" height="8.59" fill="#fdd2d7"/>
<rect x="319.08" y="45.56" width="3.89" height="8.59" fill="#fcf6fa"/>
<rect x="322.67" y="45.56" width="3.89" height="8.59" fill="#fbd0d5"/>
<rect x="326.26" y="45.56" width="3.89" height="8.59" fill="#fcd1d6"/>
<rect x="329.85" y="45.56" width="3.89" height="8.59" fill="#f79ea4"/>
<rect x="333.45" y="45.56" width="3.89" height="8.59" fill="#f47c82"/>
<rect x="337.04" y="45.56" width="3.89" height="8.59" fill="#f4595f"/>
<rect x="340.63" y="45.56" width="3.89" height="8.59" fill="#f55a60"/>
<rect x="344.22" y="45.56" width="3.89" height="8.59" fill="#ed1319"/>
<rect x="347.81" y="45.56" width="3.89" height="8.59" fill="#ee141a"/>
<rect x="351.40" y="45.56" width="3.89" height="8.59" fill="#f75c62"/>
<rect x="354.99" y="45.56" width="3.89" height="8.59" fill="#f39aa0"/>
<rect x="358.58" y="45.56" width="3.89" height="8.59" fill="#f9a0a6"/>
<rect x="362.16" y="45.56" width="3.89" height="8.59" fill="#f49ba1"/>
<rect x="365.75" y="45.56" width="3.89" height="8.59" fill="#f9ced3"/>
<rect x="369.34" y="45.56" width="3.89" height="8.59" fill="#f7ccd1"/>
<rect x="372.93" y="45.56" width="3.89" height="8.59" fill="#fcd1d6"/>
<rect x="376.52" y="45.56" width="3.89" height="8.59" fill="#fed3d8"/>
<rect x="380.11" y="45.56" width="3.89" height="8.59" fill="#fba2a8"/>
<rect x="383.69" y="45.56" width="3.89" height="8.59" fill="#f9a0a6"/>
<rect x="387.28" y="45.56" width="3.89" height="8.59" fill="#ef545a"/>
<rect x="390.87" y="45.56" width="3.89" height="8.59" fill="#f2181e"/>
<rect x="394.46" y="45.56" width="3.89" height="8.59" fill="#ec1218"/>
<rect x="398.05" y="45.56" width="3.89" height="8.59" fill="#f1171d"/>
<rect x="401.64" y="45.56" width="3.89" height="8.59" fill="#f3191f"/>
<rect x="405.22" y="45.56" width="3.89" height="8.59" fill="#f1171d"/>
<rect x="408.81" y="45.56" width="3.89" height="8.59" fill="#f2181e"/>
<rect x="412.40" y="45.56" width="3.97" height="8.59" fill="#f9a0a6"/>
<rect x="416.07" y="45.56" width="3.97" height="8.59" fill="#fed3d8"/>
<rect x="419.75" y="45.56" width="3.97" height="8.59" fill="#f7ccd1"/>
<rect x="423.42" y="45.56" width="3.97" height="8.59" fill="#facfd4"/>
<rect x="427.09" y="45.56" width="3.97" height="8.59" fill="#f69da3"/>
<rect x="430.77" y="45.56" width="3.97" height="8.59" fill="#fba2a8"/>
<rect x="434.44" y="45.56" width="3.97" height="8.59" fill="#f79ea4"/>
<rect x="438.12" y="45.56" width="3.97" height="8.59" fill="#f49ba1"/>
<rect x="441.79" y="45.56" width="3.97" height="8.59" fill="#f77f85"/>
<rect x="445.46" y="45.56" width="3.97" height="8.59" fill="#f2575d"/>
<rect x="449.14" y="45.56" width="3.97" height="8.59" fill="#f2181e"/>
<rect x="452.81" y="45.56" width="3.97" height="8.59" fill="#ee141a"/>
<rect x="456.48" y="45.56" width="3.97" height="8.59" fill="#ef545a"/>
<rect x="460.16" y="45.56" width="3.97" height="8.59" fill="#f1171d"/>
<rect x="463.83" y="45.56" width="3.97" height="8.59" fill="#f1171d"/>
<rect x="467.51" y="45.56" width="3.97" height="8.59" fill="#f41a20"/>
<rect x="471.18" y="45.56" width="3.97" height="8.59" fill="#f0161c"/>
<rect x="474.85" y="45.56" width="3.97" height="8.59" fill="#ed1319"/>
<rect x="478.53" y="45.56" width="3.97" height="8.59" fill="#f3191f"/>
<rect x="246.40" y="53.85" width="3.86" height="8.59" fill="#f7f1f5"/>
<rect x="249.96" y="53.85" width="3.86" height="8.59" fill="#fef8fc"/>
<rect x="253.52" y="53.85" width="3.86" height="8.59" fill="#fdd2d7"/>
<rect x="257.08" y="53.85" width="3.86" height="8.59" fill="#f8cdd2"/>
<rect x="260.64" y="53.85" width="3.86" height="8.59" fill="#f89fa5"/>
<rect x="264.20" y="53.85" width="3.94" height="8.59" fill="#fba2a8"/>
<rect x="267.84" y="53.85" width="3.94" height="8.59" fill="#f49ba1"/>
<rect x="271.48" y="53.85" width="3.94" height="8.59" fill="#f7ccd1"/>
<rect x="275.12" y="53.85" width="3.94" height="8.59" fill="#fed3d8"/>
<rect x="278.76" y="53.85" width="3.94" height="8.59" fill="#f9ced3"/>
<rect x="282.40" y="53.85" width="3.94" height="8.59" fill="#f69da3"/>
<rect x="286.04" y="53.85" width="3.94" height="8.59" fill="#f55a60"/>
<rect x="289.68" y="53.85" width="3.94" height="8.59" fill="#ec1218"/>
<rect x="293.32" y="53.85" width="3.94" height="8.59" fill="#f41a20"/>
<rect x="296.96" y="53.85" width="3.94" height="8.59" fill="#ed1319"/>
<rect x="300.60" y="53.85" width="4.07" height="8.59" fill="#f0555b"/>
<rect x="304.37" y="53.85" width="4.07" height="8.59" fill="#f77f85"/>
<rect x="308.13" y="53.85" width="4.07" height="8.59" fill="#f9ced3"/>
<rect x="311.90" y="53.85" width="3.89" height="8.59" fill="#f39aa0"/>
<rect x="315.49" y="53.85" width="3.89" height="8.59" fill="#fcd1d6"/>
<rect x="319.08" y="53.85" width="3.89" height="8.59" fill="#f8cdd2"/>
<rect x="322.67" y="53.85" width="3.89" height="8.59" fill="#f39aa0"/>
<rect x="326.26" y="53.85" width="3.89" height="8.59" fill="#f49ba1"/>
<rect x="329.85" y="53.85" width="3.89" height="8.59" fill="#faa1a7"/>
<rect x="333.45" y="53.85" width="3.89" height="8.59" fill="#f79ea4"/>
<rect x="337.04" y="53.85" width="3.89" height="8.59" fill="#f57d83"/>
<rect x="340.63" y="53.85" width="3.89" height="8.59" fill="#f0555b"/>
<rect x="344.22" y="53.85" width="3.89" height="8.59" fill="#ec1218"/>
<rect x="347.81" y="53.85" width="3.89" height="8.59" fill="#f75c62"/>
<rect x="351.40" y="53.85" width="3.89" height="8.59" fill="#fba2a8"/>
<rect x="354.99" y="53.85" width="3.89" height="8.59" fill="#f69da3"/>
<rect x="358.58" y="53.85" width="3.89" height="8.59" fill="#f49ba1"/>
<rect x="362.16" y="53.85" width="3.89" height="8.59" fill="#fba2a8"/>
<rect x="365.75" y="53.85" width="3.89" height="8.59" fill="#f8cdd2"/>
<rect x="369.34" y="53.85" width="3.89" height="8.59" fill="#fba2a8"/>
<rect x="372.93" y="53.85" width="3.89" height="8.59" fill="#f7ccd1"/>
<rect x="376.52" y="53.85" width="3.89" height="8.59" fill="#ffd4d9"/>
<rect x="380.11" y="53.85" width="3.89" height="8.59" fill="#f89fa5"/>
<rect x="383.69" y="53.85" width="3.89" height="8.59" fill="#f59ca2"/>
<rect x="387.28" y="53.85" width="3.89" height="8.59" fill="#f0555b"/>
<rect x="390.87" y="53.85" width="3.89" height="8.59" fill="#ef151b"/>
<rect x="394.46" y="53.85" width="3.89" height="8.59" fill="#ee141a"/>
<rect x="398.05" y="53.85" width="3.89" height="8.59" fill="#ef151b"/>
<rect x="401.64" y="53.85" width="3.89" height="8.59" fill="#f3191f"/>
<rect x="405.22" y="53.85" width="3.89" height="8.59" fill="#f2181e"/>
<rect x="408.81" y="53.85" width="3.89" height="8.59" fill="#f0161c"/>
<rect x="412.40" y="53.85" width="3.97" height="8.59" fill="#f89fa5"/>
<rect x="416.07" y="53.85" width="3.97" height="8.59" fill="#fdd2d7"/>
<rect x="419.75" y="53.85" width="3.97" height="8.59" fill="#fcd1d6"/>
<rect x="423.42" y="53.85" width="3.97" height="8.59" fill="#ffd4d9"/>
<rect x="427.09" y="53.85" width="3.97" height="8.59" fill="#f9a0a6"/>
<rect x="430.77" y="53.85" width="3.97" height="8.59" fill="#f49ba1"/>
<rect x="434.44" y="53.85" width="3.97" height="8.59" fill="#f9a0a6"/>
<rect x="438.12" y="53.85" width="3.97" height="8.59" fill="#fba2a8"/>
<rect x="441.79" y="53.85" width="3.97" height="8.59" fill="#f69da3"/>
<rect x="445.46" y="53.85" width="3.97" height="8.59" fill="#f77f85"/>
<rect x="449.14" y="53.85" width="3.97" height="8.59" fill="#f1565c"/>
<rect x="452.81" y="53.85" width="3.97" height="8.59" fill="#f77f85"/>
<rect x="456.48" y="53.85" width="3.97" height="8.59" fill="#f75c62"/>
<rect x="460.16" y="53.85" width="3.97" height="8.59" fill="#f3191f"/>
<rect x="463.83" y="53.85" width="3.97" height="8.59" fill="#f1565c"/>
<rect x="467.51" y="53.85" width="3.97" height="8.59" fill="#f2181e"/>
<rect x="471.18" y="53.85" width="3.97" height="8.59" fill="#f1565c"/>
<rect x="474.85" y="53.85" width="3.97" height="8.59" fill="#ee141a"/>
<rect x="478.53" y="53.85" width="3.97" height="8.59" fill="#f0555b"/>
<rect x="246.40" y="62.15" width="3.86" height="8.59" fill="#fdf7fb"/>
<rect x="249.96" y="62.15" width="3.86" height="8.59" fill="#fdf7fb"/>
<rect x="253.52" y="62.15" width="3.86" height="8.59" fill="#fef8fc"/>
<rect x="257.08" y="62.15" width="3.86" height="8.59" fill="#fed3d8"/>
<rect x="260.64" y="62.15" width="3.86" height="8.59" fill="#f9ced3"/>
<rect x="264.20" y="62.15" width="3.94" height="8.59" fill="#f9ced3"/>
<rect x="267.84" y="62.15" width="3.94" height="8.59" fill="#fbd0d5"/>
<rect x="271.48" y="62.15" width="3.94" height="8.59" fill="#f69da3"/>
<rect x="275.12" y="62.15" width="3.94" height="8.59" fill="#f59ca2"/>
<rect x="278.76" y="62.15" width="3.94" height="8.59" fill="#fba2a8"/>
<rect x="282.40" y="62.15" width="3.94" height="8.59" fill="#f89fa5"/>
<rect x="286.04" y="62.15" width="3.94" height="8.59" fill="#f69da3"/>
<rect x="289.68" y="62.15" width="3.94" height="8.59" fill="#fba2a8"/>
<rect x="293.32" y="62.15" width="3.94" height="8.59" fill="#f79ea4"/>
<rect x="296.96" y="62.15" width="3.94" height="8.59" fill="#f9a0a6"/>
<rect x="300.60" y="62.15" width="4.07" height="8.59" fill="#f79ea4"/>
<rect x="304.37" y="62.15" width="4.07" height="8.59" fill="#facfd4"/>
<rect x="308.13" y="62.15" width="4.07" height="8.59" fill="#fbd0d5"/>
<rect x="311.90" y="62.15" width="3.89" height="8.59" fill="#f39aa0"/>
<rect x="315.49" y="62.15" width="3.89" height="8.59" fill="#fbd0d5"/>
<rect x="319.08" y="62.15" width="3.89" height="8.59" fill="#faa1a7"/>
<rect x="322.67" y="62.15" width="3.89" height="8.59" fill="#fdd2d7"/>
<rect x="326.26" y="62.15" width="3.89" height="8.59" fill="#facfd4"/>
<rect x="329.85" y="62.15" width="3.89" height="8.59" fill="#f59ca2"/>
<rect x="333.45" y="62.15" width="3.89" height="8.59" fill="#fcd1d6"/>
<rect x="337.04" y="62.15" width="3.89" height="8.59" fill="#f69da3"/>
<rect x="340.63" y="62.15" width="3.89" height="8.59" fill="#f67e84"/>
<rect x="344.22" y="62.15" width="3.89" height="8.59" fill="#faa1a7"/>
<rect x="347.81" y="62.15" width="3.89" height="8.59" fill="#f37b81"/>
<rect x="351.40" y="62.15" width="3.89" height="8.59" fill="#f9a0a6"/>
<rect x="354.99" y="62.15" width="3.89" height="8.59" fill="#faa1a7"/>
<rect x="358.58" y="62.15" width="3.89" height="8.59" fill="#facfd4"/>
<rect x="362.16" y="62.15" width="3.89" height="8.59" fill="#faa1a7"/>
<rect x="365.75" y="62.15" width="3.89" height="8.59" fill="#fba2a8"/>
<rect x="369.34" y="62.15" width="3.89" height="8.59" fill="#f7ccd1"/>
<rect x="372.93" y="62.15" width="3.89" height="8.59" fill="#faa1a7"/>
<rect x="376.52" y="62.15" width="3.89" height="8.59" fill="#f49ba1"/>
<rect x="380.11" y="62.15" width="3.89" height="8.59" fill="#fdd2d7"/>
<rect x="383.69" y="62.15" width="3.89" height="8.59" fill="#f7ccd1"/>
<rect x="387.28" y="62.15" width="3.89" height="8.59" fill="#faa1a7"/>
<rect x="390.87" y="62.15" width="3.89" height="8.59" fill="#f2575d"/>
<rect x="394.46" y="62.15" width="3.89" height="8.59" fill="#f2575d"/>
<rect x="398.05" y="62.15" width="3.89" height="8.59" fill="#f0555b"/>
<rect x="401.64" y="62.15" width="3.89" height="8.59" fill="#f2575d"/>
<rect x="405.22" y="62.15" width="3.89" height="8.59" fill="#f3585e"/>
<rect x="408.81" y="62.15" width="3.89" height="8.59" fill="#f69da3"/>
<rect x="412.40" y="62.15" width="3.97" height="8.59" fill="#facfd4"/>
<rect x="416.07" y="62.15" width="3.97" height="8.59" fill="#faf4f8"/>
<rect x="419.75" y="62.15" width="3.97" height="8.59" fill="#f9ced3"/>
<rect x="423.42" y="62.15" width="3.97" height="8.59" fill="#f9ced3"/>
<rect x="427.09" y="62.15" width="3.97" height="8.59" fill="#f7ccd1"/>
<rect x="430.77" y="62.15" width="3.97" height="8.59" fill="#f79ea4"/>
<rect x="434.44" y="62.15" width="3.97" height="8.59" fill="#f9ced3"/>
<rect x="438.12" y="62.15" width="3.97" height="8.59" fill="#f39aa0"/>
<rect x="441.79" y="62.15" width="3.97" height="8.59" fill="#f89fa5"/>
<rect x="445.46" y="62.15" width="3.97" height="8.59" fill="#f59ca2"/>
<rect x="449.14" y="62.15" width="3.97" height="8.59" fill="#f9a0a6"/>
<rect x="452.81" y="62.15" width="3.97" height="8.59" fill="#f49ba1"/>
<rect x="456.48" y="62.15" width="3.97" height="8.59" fill="#f49ba1"/>
<rect x="460.16" y="62.15" width="3.97" height="8.59" fill="#f49ba1"/>
<rect x="463.83" y="62.15" width="3.97" height="8.59" fill="#f49ba1"/>
<rect x="467.51" y="62.15" width="3.97" height="8.59" fill="#f57d83"/>
<rect x="471.18" y="62.15" width="3.97" height="8.59" fill="#f79ea4"/>
<rect x="474.85" y="62.15" width="3.97" height="8.59" fill="#f1797f"/>
<rect x="478.53" y="62.15" width="3.97" height="8.59" fill="#f89fa5"/>
<rect x="246.40" y="70.44" width="3.86" height="8.59" fill="#fdf7fb"/>
<rect x="249.96" y="70.44" width="3.86" height="8.59" fill="#fbf5f9"/>
<rect x="253.52" y="70.44" width="3.86" height="8.59" fill="#f6f0f4"/>
<rect x="257.08" y="70.44" width="3.86" height="8.59" fill="#f6f0f4"/>
<rect x="260.64" y="70.44" width="3.86" height="8.59" fill="#fcd1d6"/>
<rect x="264.20" y="70.44" width="3.94" height="8.59" fill="#fcd1d6"/>
<rect x="267.84" y="70.44" width="3.94" height="8.59" fill="#fdd2d7"/>
<rect x="271.48" y="70.44" width="3.94" height="8.59" fill="#f9a0a6"/>
<rect x="275.12" y="70.44" width="3.94" height="8.59" fill="#faa1a7"/>
<rect x="278.76" y="70.44" width="3.94" height="8.59" fill="#f49ba1"/>
<rect x="282.40" y="70.44" width="3.94" height="8.59" fill="#facfd4"/>
<rect x="286.04" y="70.44" width="3.94" height="8.59" fill="#faa1a7"/>
<rect x="289.68" y="70.44" width="3.94" height="8.59" fill="#f9a0a6"/>
<rect x="293.32" y="70.44" width="3.94" height="8.59" fill="#f59ca2"/>
<rect x="296.96" y="70.44" width="3.94" height="8.59" fill="#fba2a8"/>
<rect x="300.60" y="70.44" width="4.07" height="8.59" fill="#fcd1d6"/>
<rect x="304.37" y="70.44" width="4.07" height="8.59" fill="#f8cdd2"/>
<rect x="308.13" y="70.44" width="4.07" height="8.59" fill="#faf4f8"/>
<rect x="311.90" y="70.44" width="3.89" height="8.59" fill="#f8cdd2"/>
<rect x="315.49" y="70.44" width="3.89" height="8.59" fill="#fdd2d7"/>
<rect x="319.08" y="70.44" width="3.89" height="8.59" fill="#f8cdd2"/>
<rect x="322.67" y="70.44" width="3.89" height="8.59" fill="#fed3d8"/>
<rect x="326.26" y="70.44" width="3.89" height="8.59" fill="#ffd4d9"/>
<rect x="329.85" y="70.44" width="3.89" height="8.59" fill="#fbd0d5"/>
<rect x="333.45" y="70.44" width="3.89" height="8.59" fill="#f49ba1"/>
<rect x="337.04" y="70.44" width="3.89" height="8.59" fill="#ffd4d9"/>
<rect x="340.63" y="70.44" width="3.89" height="8.59" fill="#f89fa5"/>
<rect x="344.22" y="70.44" width="3.89" height="8.59" fill="#f89fa5"/>
<rect x="347.81" y="70.44" width="3.89" height="8.59" fill="#faa1a7"/>
<rect x="351.40" y="70.44" width="3.89" height="8.59" fill="#fbd0d5"/>
<rect x="354.99" y="70.44" width="3.89" height="8.59" fill="#f79ea4"/>
<rect x="358.58" y="70.44" width="3.89" height="8.59" fill="#f8cdd2"/>
<rect x="362.16" y="70.44" width="3.89" height="8.59" fill="#f89fa5"/>
<rect x="365.75" y="70.44" width="3.89" height="8.59" fill="#ffd4d9"/>
<rect x="369.34" y="70.44" width="3.89" height="8.59" fill="#fba2a8"/>
<rect x="372.93" y="70.44" width="3.89" height="8.59" fill="#f8cdd2"/>
<rect x="376.52" y="70.44" width="3.89" height="8.59" fill="#fed3d8"/>
<rect x="380.11" y="70.44" width="3.89" height="8.59" fill="#ffd4d9"/>
<rect x="383.69" y="70.44" width="3.89" height="8.59" fill="#f89fa5"/>
<rect x="387.28" y="70.44" width="3.89" height="8.59" fill="#f39aa0"/>
<rect x="390.87" y="70.44" width="3.89" height="8.59" fill="#f3585e"/>
<rect x="394.46" y="70.44" width="3.89" height="8.59" fill="#f59ca2"/>
<rect x="398.05" y="70.44" width="3.89" height="8.59" fill="#f1565c"/>
<rect x="401.64" y="70.44" width="3.89" height="8.59" fill="#f59ca2"/>
<rect x="405.22" y="70.44" width="3.89" height="8.59" fill="#f89fa5"/>
<rect x="408.81" y="70.44" width="3.89" height="8.59" fill="#faa1a7"/>
<rect x="412.40" y="70.44" width="3.97" height="8.59" fill="#f8cdd2"/>
<rect x="416.07" y="70.44" width="3.97" height="8.59" fill="#f7f1f5"/>
<rect x="419.75" y="70.44" width="3.97" height="8.59" fill="#ffd4d9"/>
<rect x="423.42" y="70.44" width="3.97" height="8.59" fill="#f9ced3"/>
<rect x="427.09" y="70.44" width="3.97" height="8.59" fill="#f89fa5"/>
<rect x="430.77" y="70.44" width="3.97" height="8.59" fill="#fdd2d7"/>
<rect x="434.44" y="70.44" width="3.97" height="8.59" fill="#fba2a8"/>
<rect x="438.12" y="70.44" width="3.97" height="8.59" fill="#f79ea4"/>
<rect x="441.79" y="70.44" width="3.97" height="8.59" fill="#f9ced3"/>
<rect x="445.46" y="70.44" width="3.97" height="8.59" fill="#faa1a7"/>
<rect x="449.14" y="70.44" width="3.97" height="8.59" fill="#faa1a7"/>
<rect x="452.81" y="70.44" width="3.97" height="8.59" fill="#f79ea4"/>
<rect x="456.48" y="70.44" width="3.97" height="8.59" fill="#f59ca2"/>
<rect x="460.16" y="70.44" width="3.97" height="8.59" fill="#f49ba1"/>
<rect x="463.83" y="70.44" width="3.97" height="8.59" fill="#f49ba1"/>
<rect x="467.51" y="70.44" width="3.97" height="8.59" fill="#f59ca2"/>
<rect x="471.18" y="70.44" width="3.97" height="8.59" fill="#fba2a8"/>
<rect x="474.85" y="70.44" width="3.97" height="8.59" fill="#fba2a8"/>
<rect x="478.53" y="70.44" width="3.97" height="8.59" fill="#f9a0a6"/>
<rect x="246.40" y="78.73" width="3.86" height="8.59" fill="#c1bde9"/>
<rect x="249.96" y="78.73" width="3.86" height="8.59" fill="#8783cd"/>
<rect x="253.52" y="78.73" width="3.86" height="8.59" fill="#c0bce8"/>
<rect x="257.08" y="78.73" width="3.86" height="8.59" fill="#c0bce8"/>
<rect x="260.64" y="78.73" width="3.86" height="8.59" fill="#fdd2d7"/>
<rect x="264.20" y="78.73" width="3.94" height="8.59" fill="#f7ccd1"/>
<rect x="267.84" y="78.73" width="3.94" height="8.59" fill="#f59ca2"/>
<rect x="271.48" y="78.73" width="3.94" height="8.59" fill="#ec1218"/>
<rect x="275.12" y="78.73" width="3.94" height="8.59" fill="#faa1a7"/>
<rect x="278.76" y="78.73" width="3.94" height="8.59" fill="#f75c62"/>
<rect x="282.40" y="78.73" width="3.94" height="8.59" fill="#f79ea4"/>
<rect x="286.04" y="78.73" width="3.94" height="8.59" fill="#f69da3"/>
<rect x="289.68" y="78.73" width="3.94" height="8.59" fill="#f41a20"/>
<rect x="293.32" y="78.73" width="3.94" height="8.59" fill="#f4595f"/>
<rect x="296.96" y="78.73" width="3.94" height="8.59" fill="#f89fa5"/>
<rect x="300.60" y="78.73" width="4.07" height="8.59" fill="#f55a60"/>
<rect x="304.37" y="78.73" width="4.07" height="8.59" fill="#fed3d8"/>
<rect x="308.13" y="78.73" width="4.07" height="8.59" fill="#ffd4d9"/>
<rect x="311.90" y="78.73" width="3.89" height="8.59" fill="#f0555b"/>
<rect x="315.49" y="78.73" width="3.89" height="8.59" fill="#f1171d"/>
<rect x="319.08" y="78.73" width="3.89" height="8.59" fill="#f65b61"/>
<rect x="322.67" y="78.73" width="3.89" height="8.59" fill="#f27a80"/>
<rect x="326.26" y="78.73" width="3.89" height="8.59" fill="#f1565c"/>
<rect x="329.85" y="78.73" width="3.89" height="8.59" fill="#f0161c"/>
<rect x="333.45" y="78.73" width="3.89" height="8.59" fill="#f0555b"/>
<rect x="337.04" y="78.73" width="3.89" height="8.59" fill="#f0555b"/>
<rect x="340.63" y="78.73" width="3.89" height="8.59" fill="#f0555b"/>
<rect x="344.22" y="78.73" width="3.89" height="8.59" fill="#f37b81"/>
<rect x="347.81" y="78.73" width="3.89" height="8.59" fill="#f69da3"/>
<rect x="351.40" y="78.73" width="3.89" height="8.59" fill="#fdd2d7"/>
<rect x="354.99" y="78.73" width="3.89" height="8.59" fill="#fdd2d7"/>
<rect x="358.58" y="78.73" width="3.89" height="8.59" fill="#f9ced3"/>
<rect x="362.16" y="78.73" width="3.89" height="8.59" fill="#f59ca2"/>
<rect x="365.75" y="78.73" width="3.89" height="8.59" fill="#fdd2d7"/>
<rect x="369.34" y="78.73" width="3.89" height="8.59" fill="#facfd4"/>
<rect x="372.93" y="78.73" width="3.89" height="8.59" fill="#ffd4d9"/>
<rect x="376.52" y="78.73" width="3.89" height="8.59" fill="#fef8fc"/>
<rect x="380.11" y="78.73" width="3.89" height="8.59" fill="#f8f2f6"/>
<rect x="383.69" y="78.73" width="3.89" height="8.59" fill="#f9ced3"/>
<rect x="387.28" y="78.73" width="3.89" height="8.59" fill="#f69da3"/>
<rect x="390.87" y="78.73" width="3.89" height="8.59" fill="#f79ea4"/>
<rect x="394.46" y="78.73" width="3.89" height="8.59" fill="#fcd1d6"/>
<rect x="398.05" y="78.73" width="3.89" height="8.59" fill="#f79ea4"/>
<rect x="401.64" y="78.73" width="3.89" height="8.59" fill="#f7ccd1"/>
<rect x="405.22" y="78.73" width="3.89" height="8.59" fill="#fed3d8"/>
<rect x="408.81" y="78.73" width="3.89" height="8.59" fill="#f9a0a6"/>
<rect x="412.40" y="78.73" width="3.97" height="8.59" fill="#8c88d2"/>
<rect x="416.07" y="78.73" width="3.97" height="8.59" fill="#f4595f"/>
<rect x="419.75" y="78.73" width="3.97" height="8.59" fill="#ffd4d9"/>
<rect x="423.42" y="78.73" width="3.97" height="8.59" fill="#f3585e"/>
<rect x="427.09" y="78.73" width="3.97" height="8.59" fill="#faa1a7"/>
<rect x="430.77" y="78.73" width="3.97" height="8.59" fill="#ffd4d9"/>
<rect x="434.44" y="78.73" width="3.97" height="8.59" fill="#f3585e"/>
<rect x="438.12" y="78.73" width="3.97" height="8.59" fill="#fed3d8"/>
<rect x="441.79" y="78.73" width="3.97" height="8.59" fill="#f6f0f4"/>
<rect x="445.46" y="78.73" width="3.97" height="8.59" fill="#f2575d"/>
<rect x="449.14" y="78.73" width="3.97" height="8.59" fill="#f7ccd1"/>
<rect x="452.81" y="78.73" width="3.97" height="8.59" fill="#f27a80"/>
<rect x="456.48" y="78.73" width="3.97" height="8.59" fill="#f2575d"/>
<rect x="460.16" y="78.73" width="3.97" height="8.59" fill="#f65b61"/>
<rect x="463.83" y="78.73" width="3.97" height="8.59" fill="#f59ca2"/>
<rect x="467.51" y="78.73" width="3.97" height="8.59" fill="#ffd4d9"/>
<rect x="471.18" y="78.73" width="3.97" height="8.59" fill="#f65b61"/>
<rect x="474.85" y="78.73" width="3.97" height="8.59" fill="#f69da3"/>
<rect x="478.53" y="78.73" width="3.97" height="8.59" fill="#f47c82"/>
<rect x="246.40" y="87.02" width="3.86" height="8.59" fill="#fef8fc"/>
<rect x="249.96" y="87.02" width="3.86" height="8.59" fill="#f9f3f7"/>
<rect x="253.52" y="87.02" width="3.86" height="8.59" fill="#f6f0f4"/>
<rect x="257.08" y="87.02" width="3.86" height="8.59" fill="#fef8fc"/>
<rect x="260.64" y="87.02" width="3.86" height="8.59" fill="#fed3d8"/>
<rect x="264.20" y="87.02" width="3.94" height="8.59" fill="#f8cdd2"/>
<rect x="267.84" y="87.02" width="3.94" height="8.59" fill="#fbd0d5"/>
<rect x="271.48" y="87.02" width="3.94" height="8.59" fill="#f59ca2"/>
<rect x="275.12" y="87.02" width="3.94" height="8.59" fill="#f9ced3"/>
<rect x="278.76" y="87.02" width="3.94" height="8.59" fill="#fed3d8"/>
<rect x="282.40" y="87.02" width="3.94" height="8.59" fill="#f49ba1"/>
<rect x="286.04" y="87.02" width="3.94" height="8.59" fill="#f7ccd1"/>
<rect x="289.68" y="87.02" width="3.94" height="8.59" fill="#f39aa0"/>
<rect x="293.32" y="87.02" width="3.94" height="8.59" fill="#fcd1d6"/>
<rect x="296.96" y="87.02" width="3.94" height="8.59" fill="#facfd4"/>
<rect x="300.60" y="87.02" width="4.07" height="8.59" fill="#ffd4d9"/>
<rect x="304.37" y="87.02" width="4.07" height="8.59" fill="#f8cdd2"/>
<rect x="308.13" y="87.02" width="4.07" height="8.59" fill="#fdf7fb"/>
<rect x="311.90" y="87.02" width="3.89" height="8.59" fill="#ffd4d9"/>
<rect x="315.49" y="87.02" width="3.89" height="8.59" fill="#f7ccd1"/>
<rect x="319.08" y="87.02" width="3.89" height="8.59" fill="#fcd1d6"/>
<rect x="322.67" y="87.02" width="3.89" height="8.59" fill="#fcd1d6"/>
<rect x="326.26" y="87.02" width="3.89" height="8.59" fill="#fcd1d6"/>
<rect x="329.85" y="87.02" width="3.89" height="8.59" fill="#fcd1d6"/>
<rect x="333.45" y="87.02" width="3.89" height="8.59" fill="#f9ced3"/>
<rect x="337.04" y="87.02" width="3.89" height="8.59" fill="#f8cdd2"/>
<rect x="340.63" y="87.02" width="3.89" height="8.59" fill="#f39aa0"/>
<rect x="344.22" y="87.02" width="3.89" height="8.59" fill="#f8cdd2"/>
<rect x="347.81" y="87.02" width="3.89" height="8.59" fill="#fcd1d6"/>
<rect x="351.40" y="87.02" width="3.89" height="8.59" fill="#facfd4"/>
<rect x="354.99" y="87.02" width="3.89" height="8.59" fill="#f49ba1"/>
<rect x="358.58" y="87.02" width="3.89" height="8.59" fill="#facfd4"/>
<rect x="362.16" y="87.02" width="3.89" height="8.59" fill="#f9a0a6"/>
<rect x="365.75" y="87.02" width="3.89" height="8.59" fill="#f69da3"/>
<rect x="369.34" y="87.02" width="3.89" height="8.59" fill="#fed3d8"/>
<rect x="372.93" y="87.02" width="3.89" height="8.59" fill="#fcd1d6"/>
<rect x="376.52" y="87.02" width="3.89" height="8.59" fill="#f49ba1"/>
<rect x="380.11" y="87.02" width="3.89" height="8.59" fill="#f39aa0"/>
<rect x="383.69" y="87.02" width="3.89" height="8.59" fill="#fdd2d7"/>
<rect x="387.28" y="87.02" width="3.89" height="8.59" fill="#f49ba1"/>
<rect x="390.87" y="87.02" width="3.89" height="8.59" fill="#f2575d"/>
<rect x="394.46" y="87.02" width="3.89" height="8.59" fill="#f59ca2"/>
<rect x="398.05" y="87.02" width="3.89" height="8.59" fill="#f9a0a6"/>
<rect x="401.64" y="87.02" width="3.89" height="8.59" fill="#faa1a7"/>
<rect x="405.22" y="87.02" width="3.89" height="8.59" fill="#fed3d8"/>
<rect x="408.81" y="87.02" width="3.89" height="8.59" fill="#f49ba1"/>
<rect x="412.40" y="87.02" width="3.97" height="8.59" fill="#fef8fc"/>
<rect x="416.07" y="87.02" width="3.97" height="8.59" fill="#fdd2d7"/>
<rect x="419.75" y="87.02" width="3.97" height="8.59" fill="#facfd4"/>
<rect x="423.42" y="87.02" width="3.97" height="8.59" fill="#fed3d8"/>
<rect x="427.09" y="87.02" width="3.97" height="8.59" fill="#fbd0d5"/>
<rect x="430.77" y="87.02" width="3.97" height="8.59" fill="#f7ccd1"/>
<rect x="434.44" y="87.02" width="3.97" height="8.59" fill="#faa1a7"/>
<rect x="438.12" y="87.02" width="3.97" height="8.59" fill="#fed3d8"/>
<rect x="441.79" y="87.02" width="3.97" height="8.59" fill="#fdd2d7"/>
<rect x="445.46" y="87.02" width="3.97" height="8.59" fill="#fed3d8"/>
<rect x="449.14" y="87.02" width="3.97" height="8.59" fill="#f9ced3"/>
<rect x="452.81" y="87.02" width="3.97" height="8.59" fill="#fed3d8"/>
<rect x="456.48" y="87.02" width="3.97" height="8.59" fill="#f39aa0"/>
<rect x="460.16" y="87.02" width="3.97" height="8.59" fill="#fbd0d5"/>
<rect x="463.83" y="87.02" width="3.97" height="8.59" fill="#f89fa5"/>
<rect x="467.51" y="87.02" width="3.97" height="8.59" fill="#fcd1d6"/>
<rect x="471.18" y="87.02" width="3.97" height="8.59" fill="#fed3d8"/>
<rect x="474.85" y="87.02" width="3.97" height="8.59" fill="#fba2a8"/>
<rect x="478.53" y="87.02" width="3.97" height="8.59" fill="#fcd1d6"/>
<rect x="246.40" y="95.31" width="3.86" height="8.59" fill="#f9a0a6"/>
<rect x="249.96" y="95.31" width="3.86" height="8.59" fill="#f2575d"/>
<rect x="253.52" y="95.31" width="3.86" height="8.59" fill="#f39aa0"/>
<rect x="257.08" y="95.31" width="3.86" height="8.59" fill="#f69da3"/>
<rect x="260.64" y="95.31" width="3.86" height="8.59" fill="#f79ea4"/>
<rect x="264.20" y="95.31" width="3.94" height="8.59" fill="#fcd1d6"/>
<rect x="267.84" y="95.31" width="3.94" height="8.59" fill="#f9ced3"/>
<rect x="271.48" y="95.31" width="3.94" height="8.59" fill="#faa1a7"/>
<rect x="275.12" y="95.31" width="3.94" height="8.59" fill="#ffd4d9"/>
<rect x="278.76" y="95.31" width="3.94" height="8.59" fill="#f69da3"/>
<rect x="282.40" y="95.31" width="3.94" height="8.59" fill="#f9ced3"/>
<rect x="286.04" y="95.31" width="3.94" height="8.59" fill="#f69da3"/>
<rect x="289.68" y="95.31" width="3.94" height="8.59" fill="#f7ccd1"/>
<rect x="293.32" y="95.31" width="3.94" height="8.59" fill="#f59ca2"/>
<rect x="296.96" y="95.31" width="3.94" height="8.59" fill="#fdd2d7"/>
<rect x="300.60" y="95.31" width="4.07" height="8.59" fill="#f75c62"/>
<rect x="304.37" y="95.31" width="4.07" height="8.59" fill="#f1565c"/>
<rect x="308.13" y="95.31" width="4.07" height="8.59" fill="#f7ccd1"/>
<rect x="311.90" y="95.31" width="3.89" height="8.59" fill="#f9ced3"/>
<rect x="315.49" y="95.31" width="3.89" height="8.59" fill="#f8cdd2"/>
<rect x="319.08" y="95.31" width="3.89" height="8.59" fill="#f59ca2"/>
<rect x="322.67" y="95.31" width="3.89" height="8.59" fill="#fed3d8"/>
<rect x="326.26" y="95.31" width="3.89" height="8.59" fill="#fed3d8"/>
<rect x="329.85" y="95.31" width="3.89" height="8.59" fill="#f59ca2"/>
<rect x="333.45" y="95.31" width="3.89" height="8.59" fill="#f7ccd1"/>
<rect x="337.04" y="95.31" width="3.89" height="8.59" fill="#f7ccd1"/>
<rect x="340.63" y="95.31" width="3.89" height="8.59" fill="#fdd2d7"/>
<rect x="344.22" y="95.31" width="3.89" height="8.59" fill="#faa1a7"/>
<rect x="347.81" y="95.31" width="3.89" height="8.59" fill="#fcd1d6"/>
<rect x="351.40" y="95.31" width="3.89" height="8.59" fill="#fdd2d7"/>
<rect x="354.99" y="95.31" width="3.89" height="8.59" fill="#f7ccd1"/>
<rect x="358.58" y="95.31" width="3.89" height="8.59" fill="#f39aa0"/>
<rect x="362.16" y="95.31" width="3.89" height="8.59" fill="#facfd4"/>
<rect x="365.75" y="95.31" width="3.89" height="8.59" fill="#fdd2d7"/>
<rect x="369.34" y="95.31" width="3.89" height="8.59" fill="#f7ccd1"/>
<rect x="372.93" y="95.31" width="3.89" height="8.59" fill="#fdd2d7"/>
<rect x="376.52" y="95.31" width="3.89" height="8.59" fill="#fed3d8"/>
<rect x="380.11" y="95.31" width="3.89" height="8.59" fill="#f7ccd1"/>
<rect x="383.69" y="95.31" width="3.89" height="8.59" fill="#f69da3"/>
<rect x="387.28" y="95.31" width="3.89" height="8.59" fill="#facfd4"/>
<rect x="390.87" y="95.31" width="3.89" height="8.59" fill="#f49ba1"/>
<rect x="394.46" y="95.31" width="3.89" height="8.59" fill="#f55a60"/>
<rect x="398.05" y="95.31" width="3.89" height="8.59" fill="#fed3d8"/>
<rect x="401.64" y="95.31" width="3.89" height="8.59" fill="#f69da3"/>
<rect x="405.22" y="95.31" width="3.89" height="8.59" fill="#f8f2f6"/>
<rect x="408.81" y="95.31" width="3.89" height="8.59" fill="#fcd1d6"/>
<rect x="412.40" y="95.31" width="3.97" height="8.59" fill="#f49ba1"/>
<rect x="416.07" y="95.31" width="3.97" height="8.59" fill="#fcd1d6"/>
<rect x="419.75" y="95.31" width="3.97" height="8.59" fill="#f8cdd2"/>
<rect x="423.42" y="95.31" width="3.97" height="8.59" fill="#f7ccd1"/>
<rect x="427.09" y="95.31" width="3.97" height="8.59" fill="#fbd0d5"/>
<rect x="430.77" y="95.31" width="3.97" height="8.59" fill="#fbd0d5"/>
<rect x="434.44" y="95.31" width="3.97" height="8.59" fill="#faa1a7"/>
<rect x="438.12" y="95.31" width="3.97" height="8.59" fill="#fbd0d5"/>
<rect x="441.79" y="95.31" width="3.97" height="8.59" fill="#fed3d8"/>
<rect x="445.46" y="95.31" width="3.97" height="8.59" fill="#f69da3"/>
<rect x="449.14" y="95.31" width="3.97" height="8.59" fill="#ffd4d9"/>
<rect x="452.81" y="95.31" width="3.97" height="8.59" fill="#fbd0d5"/>
<rect x="456.48" y="95.31" width="3.97" height="8.59" fill="#f39aa0"/>
<rect x="460.16" y="95.31" width="3.97" height="8.59" fill="#f89fa5"/>
<rect x="463.83" y="95.31" width="3.97" height="8.59" fill="#fcd1d6"/>
<rect x="467.51" y="95.31" width="3.97" height="8.59" fill="#fcd1d6"/>
<rect x="471.18" y="95.31" width="3.97" height="8.59" fill="#f8cdd2"/>
<rect x="474.85" y="95.31" width="3.97" height="8.59" fill="#f39aa0"/>
<rect x="478.53" y="95.31" width="3.97" height="8.59" fill="#fdd2d7"/>
<rect x="246.40" y="108.20" width="3.86" height="8.64" fill="#bdb9e5"/>
<rect x="249.96" y="108.20" width="3.86" height="8.64" fill="#f6f0f4"/>
<rect x="253.52" y="108.20" width="3.86" height="8.64" fill="#f8cdd2"/>
<rect x="257.08" y="108.20" width="3.86" height="8.64" fill="#f7ccd1"/>
<rect x="260.64" y="108.20" width="3.86" height="8.64" fill="#f0555b"/>
<rect x="264.20" y="108.20" width="3.94" height="8.64" fill="#ef545a"/>
<rect x="267.84" y="108.20" width="3.94" height="8.64" fill="#f1565c"/>
<rect x="271.48" y="108.20" width="3.94" height="8.64" fill="#f41a20"/>
<rect x="275.12" y="108.20" width="3.94" height="8.64" fill="#ef545a"/>
<rect x="278.76" y="108.20" width="3.94" height="8.64" fill="#f3191f"/>
<rect x="282.40" y="108.20" width="3.94" height="8.64" fill="#ec1218"/>
<rect x="286.04" y="108.20" width="3.94" height="8.64" fill="#ef151b"/>
<rect x="289.68" y="108.20" width="3.94" height="8.64" fill="#f41a20"/>
<rect x="293.32" y="108.20" width="3.94" height="8.64" fill="#f1171d"/>
<rect x="296.96" y="108.20" width="3.94" height="8.64" fill="#ef151b"/>
<rect x="300.60" y="108.20" width="4.07" height="8.64" fill="#f65b61"/>
<rect x="304.37" y="108.20" width="4.07" height="8.64" fill="#f89fa5"/>
<rect x="308.13" y="108.20" width="4.07" height="8.64" fill="#fed3d8"/>
<rect x="311.90" y="108.20" width="3.89" height="8.64" fill="#f4595f"/>
<rect x="315.49" y="108.20" width="3.89" height="8.64" fill="#ec1218"/>
<rect x="319.08" y="108.20" width="3.89" height="8.64" fill="#f55a60"/>
<rect x="322.67" y="108.20" width="3.89" height="8.64" fill="#f79ea4"/>
<rect x="326.26" y="108.20" width="3.89" height="8.64" fill="#f55a60"/>
<rect x="329.85" y="108.20" width="3.89" height="8.64" fill="#f49ba1"/>
<rect x="333.45" y="108.20" width="3.89" height="8.64" fill="#f3585e"/>
<rect x="337.04" y="108.20" width="3.89" height="8.64" fill="#ee141a"/>
<rect x="340.63" y="108.20" width="3.89" height="8.64" fill="#f2181e"/>
<rect x="344.22" y="108.20" width="3.89" height="8.64" fill="#ed1319"/>
<rect x="347.81" y="108.20" width="3.89" height="8.64" fill="#f41a20"/>
<rect x="351.40" y="108.20" width="3.89" height="8.64" fill="#f55a60"/>
<rect x="354.99" y="108.20" width="3.89" height="8.64" fill="#f75c62"/>
<rect x="358.58" y="108.20" width="3.89" height="8.64" fill="#f89fa5"/>
<rect x="362.16" y="108.20" width="3.89" height="8.64" fill="#f75c62"/>
<rect x="365.75" y="108.20" width="3.89" height="8.64" fill="#f55a60"/>
<rect x="369.34" y="108.20" width="3.89" height="8.64" fill="#f59ca2"/>
<rect x="372.93" y="108.20" width="3.89" height="8.64" fill="#f55a60"/>
<rect x="376.52" y="108.20" width="3.89" height="8.64" fill="#fba2a8"/>
<rect x="380.11" y="108.20" width="3.89" height="8.64" fill="#f4595f"/>
<rect x="383.69" y="108.20" width="3.89" height="8.64" fill="#f59ca2"/>
<rect x="387.28" y="108.20" width="3.89" height="8.64" fill="#f4595f"/>
<rect x="390.87" y="108.20" width="3.89" height="8.64" fill="#f2181e"/>
<rect x="394.46" y="108.20" width="3.89" height="8.64" fill="#f3191f"/>
<rect x="398.05" y="108.20" width="3.89" height="8.64" fill="#ef151b"/>
<rect x="401.64" y="108.20" width="3.89" height="8.64" fill="#f3191f"/>
<rect x="405.22" y="108.20" width="3.89" height="8.64" fill="#f3191f"/>
<rect x="408.81" y="108.20" width="3.89" height="8.64" fill="#f1171d"/>
<rect x="412.40" y="108.20" width="3.97" height="8.64" fill="#fbd0d5"/>
<rect x="416.07" y="108.20" width="3.97" height="8.64" fill="#f8f2f6"/>
<rect x="419.75" y="108.20" width="3.97" height="8.64" fill="#f75c62"/>
<rect x="423.42" y="108.20" width="3.97" height="8.64" fill="#f9a0a6"/>
<rect x="427.09" y="108.20" width="3.97" height="8.64" fill="#f65b61"/>
<rect x="430.77" y="108.20" width="3.97" height="8.64" fill="#f39aa0"/>
<rect x="434.44" y="108.20" width="3.97" height="8.64" fill="#f1565c"/>
<rect x="438.12" y="108.20" width="3.97" height="8.64" fill="#f1565c"/>
<rect x="441.79" y="108.20" width="3.97" height="8.64" fill="#ec1218"/>
<rect x="445.46" y="108.20" width="3.97" height="8.64" fill="#f3191f"/>
<rect x="449.14" y="108.20" width="3.97" height="8.64" fill="#ed1319"/>
<rect x="452.81" y="108.20" width="3.97" height="8.64" fill="#ed1319"/>
<rect x="456.48" y="108.20" width="3.97" height="8.64" fill="#f1171d"/>
<rect x="460.16" y="108.20" width="3.97" height="8.64" fill="#ef151b"/>
<rect x="463.83" y="108.20" width="3.97" height="8.64" fill="#ec1218"/>
<rect x="467.51" y="108.20" width="3.97" height="8.64" fill="#ec1218"/>
<rect x="471.18" y="108.20" width="3.97" height="8.64" fill="#f3191f"/>
<rect x="474.85" y="108.20" width="3.97" height="8.64" fill="#f3191f"/>
<rect x="478.53" y="108.20" width="3.97" height="8.64" fill="#f1171d"/>
<rect x="246.40" y="116.54" width="3.86" height="8.64" fill="#514bb5"/>
<rect x="249.96" y="116.54" width="3.86" height="8.64" fill="#bcb8e4"/>
<rect x="253.52" y="116.54" width="3.86" height="8.64" fill="#f7f1f5"/>
<rect x="257.08" y="116.54" width="3.86" height="8.64" fill="#facfd4"/>
<rect x="260.64" y="116.54" width="3.86" height="8.64" fill="#f55a60"/>
<rect x="264.20" y="116.54" width="3.94" height="8.64" fill="#f0555b"/>
<rect x="267.84" y="116.54" width="3.94" height="8.64" fill="#f1171d"/>
<rect x="271.48" y="116.54" width="3.94" height="8.64" fill="#f3585e"/>
<rect x="275.12" y="116.54" width="3.94" height="8.64" fill="#f8cdd2"/>
<rect x="278.76" y="116.54" width="3.94" height="8.64" fill="#f3191f"/>
<rect x="282.40" y="116.54" width="3.94" height="8.64" fill="#ed1319"/>
<rect x="286.04" y="116.54" width="3.94" height="8.64" fill="#ef151b"/>
<rect x="289.68" y="116.54" width="3.94" height="8.64" fill="#ef151b"/>
<rect x="293.32" y="116.54" width="3.94" height="8.64" fill="#ec1218"/>
<rect x="296.96" y="116.54" width="3.94" height="8.64" fill="#ee141a"/>
<rect x="300.60" y="116.54" width="4.07" height="8.64" fill="#f1565c"/>
<rect x="304.37" y="116.54" width="4.07" height="8.64" fill="#f39aa0"/>
<rect x="308.13" y="116.54" width="4.07" height="8.64" fill="#f8cdd2"/>
<rect x="311.90" y="116.54" width="3.89" height="8.64" fill="#f2575d"/>
<rect x="315.49" y="116.54" width="3.89" height="8.64" fill="#f3585e"/>
<rect x="319.08" y="116.54" width="3.89" height="8.64" fill="#f9f3f7"/>
<rect x="322.67" y="116.54" width="3.89" height="8.64" fill="#f9f3f7"/>
<rect x="326.26" y="116.54" width="3.89" height="8.64" fill="#fba2a8"/>
<rect x="329.85" y="116.54" width="3.89" height="8.64" fill="#f75c62"/>
<rect x="333.45" y="116.54" width="3.89" height="8.64" fill="#f55a60"/>
<rect x="337.04" y="116.54" width="3.89" height="8.64" fill="#f41a20"/>
<rect x="340.63" y="116.54" width="3.89" height="8.64" fill="#f1171d"/>
<rect x="344.22" y="116.54" width="3.89" height="8.64" fill="#f41a20"/>
<rect x="347.81" y="116.54" width="3.89" height="8.64" fill="#ef151b"/>
<rect x="351.40" y="116.54" width="3.89" height="8.64" fill="#f65b61"/>
<rect x="354.99" y="116.54" width="3.89" height="8.64" fill="#f1565c"/>
<rect x="358.58" y="116.54" width="3.89" height="8.64" fill="#f49ba1"/>
<rect x="362.16" y="116.54" width="3.89" height="8.64" fill="#f39aa0"/>
<rect x="365.75" y="116.54" width="3.89" height="8.64" fill="#f8cdd2"/>
<rect x="369.34" y="116.54" width="3.89" height="8.64" fill="#f6f0f4"/>
<rect x="372.93" y="116.54" width="3.89" height="8.64" fill="#f8cdd2"/>
<rect x="376.52" y="116.54" width="3.89" height="8.64" fill="#f9f3f7"/>
<rect x="380.11" y="116.54" width="3.89" height="8.64" fill="#fbd0d5"/>
<rect x="383.69" y="116.54" width="3.89" height="8.64" fill="#f7f1f5"/>
<rect x="387.28" y="116.54" width="3.89" height="8.64" fill="#f49ba1"/>
<rect x="390.87" y="116.54" width="3.89" height="8.64" fill="#f3191f"/>
<rect x="394.46" y="116.54" width="3.89" height="8.64" fill="#f2181e"/>
<rect x="398.05" y="116.54" width="3.89" height="8.64" fill="#ef151b"/>
<rect x="401.64" y="116.54" width="3.89" height="8.64" fill="#ed1319"/>
<rect x="405.22" y="116.54" width="3.89" height="8.64" fill="#f3191f"/>
<rect x="408.81" y="116.54" width="3.89" height="8.64" fill="#f1171d"/>
<rect x="412.40" y="116.54" width="3.97" height="8.64" fill="#fdd2d7"/>
<rect x="416.07" y="116.54" width="3.97" height="8.64" fill="#fdf7fb"/>
<rect x="419.75" y="116.54" width="3.97" height="8.64" fill="#f49ba1"/>
<rect x="423.42" y="116.54" width="3.97" height="8.64" fill="#fbd0d5"/>
<rect x="427.09" y="116.54" width="3.97" height="8.64" fill="#faa1a7"/>
<rect x="430.77" y="116.54" width="3.97" height="8.64" fill="#f2181e"/>
<rect x="434.44" y="116.54" width="3.97" height="8.64" fill="#f2575d"/>
<rect x="438.12" y="116.54" width="3.97" height="8.64" fill="#ed1319"/>
<rect x="441.79" y="116.54" width="3.97" height="8.64" fill="#f41a20"/>
<rect x="445.46" y="116.54" width="3.97" height="8.64" fill="#ec1218"/>
<rect x="449.14" y="116.54" width="3.97" height="8.64" fill="#f3191f"/>
<rect x="452.81" y="116.54" width="3.97" height="8.64" fill="#f0161c"/>
<rect x="456.48" y="116.54" width="3.97" height="8.64" fill="#ed1319"/>
<rect x="460.16" y="116.54" width="3.97" height="8.64" fill="#f1171d"/>
<rect x="463.83" y="116.54" width="3.97" height="8.64" fill="#f1171d"/>
<rect x="467.51" y="116.54" width="3.97" height="8.64" fill="#ef151b"/>
<rect x="471.18" y="116.54" width="3.97" height="8.64" fill="#f3191f"/>
<rect x="474.85" y="116.54" width="3.97" height="8.64" fill="#ed1319"/>
<rect x="478.53" y="116.54" width="3.97" height="8.64" fill="#f41a20"/>
<rect x="246.40" y="124.88" width="3.86" height="8.64" fill="#c1bde9"/>
<rect x="249.96" y="124.88" width="3.86" height="8.64" fill="#c2beea"/>
<rect x="253.52" y="124.88" width="3.86" height="8.64" fill="#f7f1f5"/>
<rect x="257.08" y="124.88" width="3.86" height="8.64" fill="#ffd4d9"/>
<rect x="260.64" y="124.88" width="3.86" height="8.64" fill="#f2575d"/>
<rect x="264.20" y="124.88" width="3.94" height="8.64" fill="#f2575d"/>
<rect x="267.84" y="124.88" width="3.94" height="8.64" fill="#f1171d"/>
<rect x="271.48" y="124.88" width="3.94" height="8.64" fill="#ec1218"/>
<rect x="275.12" y="124.88" width="3.94" height="8.64" fill="#f67e84"/>
<rect x="278.76" y="124.88" width="3.94" height="8.64" fill="#ef151b"/>
<rect x="282.40" y="124.88" width="3.94" height="8.64" fill="#f2181e"/>
<rect x="286.04" y="124.88" width="3.94" height="8.64" fill="#f3191f"/>
<rect x="289.68" y="124.88" width="3.94" height="8.64" fill="#ed1319"/>
<rect x="293.32" y="124.88" width="3.94" height="8.64" fill="#f0161c"/>
<rect x="296.96" y="124.88" width="3.94" height="8.64" fill="#ef151b"/>
<rect x="300.60" y="124.88" width="4.07" height="8.64" fill="#f4595f"/>
<rect x="304.37" y="124.88" width="4.07" height="8.64" fill="#f59ca2"/>
<rect x="308.13" y="124.88" width="4.07" height="8.64" fill="#facfd4"/>
<rect x="311.90" y="124.88" width="3.89" height="8.64" fill="#f2575d"/>
<rect x="315.49" y="124.88" width="3.89" height="8.64" fill="#f65b61"/>
<rect x="319.08" y="124.88" width="3.89" height="8.64" fill="#fba2a8"/>
<rect x="322.67" y="124.88" width="3.89" height="8.64" fill="#f9a0a6"/>
<rect x="326.26" y="124.88" width="3.89" height="8.64" fill="#f4595f"/>
<rect x="329.85" y="124.88" width="3.89" height="8.64" fill="#f69da3"/>
<rect x="333.45" y="124.88" width="3.89" height="8.64" fill="#f55a60"/>
<rect x="337.04" y="124.88" width="3.89" height="8.64" fill="#f3191f"/>
<rect x="340.63" y="124.88" width="3.89" height="8.64" fill="#f2181e"/>
<rect x="344.22" y="124.88" width="3.89" height="8.64" fill="#f3191f"/>
<rect x="347.81" y="124.88" width="3.89" height="8.64" fill="#ec1218"/>
<rect x="351.40" y="124.88" width="3.89" height="8.64" fill="#f3585e"/>
<rect x="354.99" y="124.88" width="3.89" height="8.64" fill="#ef545a"/>
<rect x="358.58" y="124.88" width="3.89" height="8.64" fill="#f1565c"/>
<rect x="362.16" y="124.88" width="3.89" height="8.64" fill="#f0555b"/>
<rect x="365.75" y="124.88" width="3.89" height="8.64" fill="#ec1218"/>
<rect x="369.34" y="124.88" width="3.89" height="8.64" fill="#f1565c"/>
<rect x="372.93" y="124.88" width="3.89" height="8.64" fill="#f3585e"/>
<rect x="376.52" y="124.88" width="3.89" height="8.64" fill="#f75c62"/>
<rect x="380.11" y="124.88" width="3.89" height="8.64" fill="#fba2a8"/>
<rect x="383.69" y="124.88" width="3.89" height="8.64" fill="#ef545a"/>
<rect x="387.28" y="124.88" width="3.89" height="8.64" fill="#faa1a7"/>
<rect x="390.87" y="124.88" width="3.89" height="8.64" fill="#ec1218"/>
<rect x="394.46" y="124.88" width="3.89" height="8.64" fill="#ef151b"/>
<rect x="398.05" y="124.88" width="3.89" height="8.64" fill="#ef151b"/>
<rect x="401.64" y="124.88" width="3.89" height="8.64" fill="#f0161c"/>
<rect x="405.22" y="124.88" width="3.89" height="8.64" fill="#f3191f"/>
<rect x="408.81" y="124.88" width="3.89" height="8.64" fill="#f2181e"/>
<rect x="412.40" y="124.88" width="3.97" height="8.64" fill="#f7ccd1"/>
<rect x="416.07" y="124.88" width="3.97" height="8.64" fill="#fbf5f9"/>
<rect x="419.75" y="124.88" width="3.97" height="8.64" fill="#f65b61"/>
<rect x="423.42" y="124.88" width="3.97" height="8.64" fill="#f69da3"/>
<rect x="427.09" y="124.88" width="3.97" height="8.64" fill="#f3585e"/>
<rect x="430.77" y="124.88" width="3.97" height="8.64" fill="#f59ca2"/>
<rect x="434.44" y="124.88" width="3.97" height="8.64" fill="#f0555b"/>
<rect x="438.12" y="124.88" width="3.97" height="8.64" fill="#f65b61"/>
<rect x="441.79" y="124.88" width="3.97" height="8.64" fill="#f3585e"/>
<rect x="445.46" y="124.88" width="3.97" height="8.64" fill="#f55a60"/>
<rect x="449.14" y="124.88" width="3.97" height="8.64" fill="#f3191f"/>
<rect x="452.81" y="124.88" width="3.97" height="8.64" fill="#f0555b"/>
<rect x="456.48" y="124.88" width="3.97" height="8.64" fill="#ef151b"/>
<rect x="460.16" y="124.88" width="3.97" height="8.64" fill="#ee141a"/>
<rect x="463.83" y="124.88" width="3.97" height="8.64" fill="#f3191f"/>
<rect x="467.51" y="124.88" width="3.97" height="8.64" fill="#f0161c"/>
<rect x="471.18" y="124.88" width="3.97" height="8.64" fill="#f2181e"/>
<rect x="474.85" y="124.88" width="3.97" height="8.64" fill="#f1171d"/>
<rect x="478.53" y="124.88" width="3.97" height="8.64" fill="#ee141a"/>
<rect x="246.40" y="133.22" width="3.86" height="8.64" fill="#c2beea"/>
<rect x="249.96" y="133.22" width="3.86" height="8.64" fill="#c0bce8"/>
<rect x="253.52" y="133.22" width="3.86" height="8.64" fill="#fdf7fb"/>
<rect x="257.08" y="133.22" width="3.86" height="8.64" fill="#fed3d8"/>
<rect x="260.64" y="133.22" width="3.86" height="8.64" fill="#f98187"/>
<rect x="264.20" y="133.22" width="3.94" height="8.64" fill="#f75c62"/>
<rect x="267.84" y="133.22" width="3.94" height="8.64" fill="#f47c82"/>
<rect x="271.48" y="133.22" width="3.94" height="8.64" fill="#f67e84"/>
<rect x="275.12" y="133.22" width="3.94" height="8.64" fill="#f3585e"/>
<rect x="278.76" y="133.22" width="3.94" height="8.64" fill="#f3585e"/>
<rect x="282.40" y="133.22" width="3.94" height="8.64" fill="#ef545a"/>
<rect x="286.04" y="133.22" width="3.94" height="8.64" fill="#f3191f"/>
<rect x="289.68" y="133.22" width="3.94" height="8.64" fill="#f1171d"/>
<rect x="293.32" y="133.22" width="3.94" height="8.64" fill="#f1171d"/>
<rect x="296.96" y="133.22" width="3.94" height="8.64" fill="#f0161c"/>
<rect x="300.60" y="133.22" width="4.07" height="8.64" fill="#f2575d"/>
<rect x="304.37" y="133.22" width="4.07" height="8.64" fill="#fba2a8"/>
<rect x="308.13" y="133.22" width="4.07" height="8.64" fill="#f7ccd1"/>
<rect x="311.90" y="133.22" width="3.89" height="8.64" fill="#f1797f"/>
<rect x="315.49" y="133.22" width="3.89" height="8.64" fill="#f59ca2"/>
<rect x="319.08" y="133.22" width="3.89" height="8.64" fill="#fba2a8"/>
<rect x="322.67" y="133.22" width="3.89" height="8.64" fill="#f9ced3"/>
<rect x="326.26" y="133.22" width="3.89" height="8.64" fill="#fba2a8"/>
<rect x="329.85" y="133.22" width="3.89" height="8.64" fill="#f1797f"/>
<rect x="333.45" y="133.22" width="3.89" height="8.64" fill="#f1565c"/>
<rect x="337.04" y="133.22" width="3.89" height="8.64" fill="#ef545a"/>
<rect x="340.63" y="133.22" width="3.89" height="8.64" fill="#ec1218"/>
<rect x="344.22" y="133.22" width="3.89" height="8.64" fill="#ef151b"/>
<rect x="347.81" y="133.22" width="3.89" height="8.64" fill="#f3191f"/>
<rect x="351.40" y="133.22" width="3.89" height="8.64" fill="#fbf5f9"/>
<rect x="354.99" y="133.22" width="3.89" height="8.64" fill="#f89fa5"/>
<rect x="358.58" y="133.22" width="3.89" height="8.64" fill="#f98187"/>
<rect x="362.16" y="133.22" width="3.89" height="8.64" fill="#f39aa0"/>
<rect x="365.75" y="133.22" width="3.89" height="8.64" fill="#faa1a7"/>
<rect x="369.34" y="133.22" width="3.89" height="8.64" fill="#f9ced3"/>
<rect x="372.93" y="133.22" width="3.89" height="8.64" fill="#f69da3"/>
<rect x="376.52" y="133.22" width="3.89" height="8.64" fill="#f39aa0"/>
<rect x="380.11" y="133.22" width="3.89" height="8.64" fill="#f3585e"/>
<rect x="383.69" y="133.22" width="3.89" height="8.64" fill="#f9a0a6"/>
<rect x="387.28" y="133.22" width="3.89" height="8.64" fill="#f67e84"/>
<rect x="390.87" y="133.22" width="3.89" height="8.64" fill="#ec1218"/>
<rect x="394.46" y="133.22" width="3.89" height="8.64" fill="#f41a20"/>
<rect x="398.05" y="133.22" width="3.89" height="8.64" fill="#ed1319"/>
<rect x="401.64" y="133.22" width="3.89" height="8.64" fill="#f3191f"/>
<rect x="405.22" y="133.22" width="3.89" height="8.64" fill="#f0161c"/>
<rect x="408.81" y="133.22" width="3.89" height="8.64" fill="#f0161c"/>
<rect x="412.40" y="133.22" width="3.97" height="8.64" fill="#facfd4"/>
<rect x="416.07" y="133.22" width="3.97" height="8.64" fill="#fdf7fb"/>
<rect x="419.75" y="133.22" width="3.97" height="8.64" fill="#f9a0a6"/>
<rect x="423.42" y="133.22" width="3.97" height="8.64" fill="#f3585e"/>
<rect x="427.09" y="133.22" width="3.97" height="8.64" fill="#f89fa5"/>
<rect x="430.77" y="133.22" width="3.97" height="8.64" fill="#ef545a"/>
<rect x="434.44" y="133.22" width="3.97" height="8.64" fill="#f39aa0"/>
<rect x="438.12" y="133.22" width="3.97" height="8.64" fill="#f55a60"/>
<rect x="441.79" y="133.22" width="3.97" height="8.64" fill="#ef545a"/>
<rect x="445.46" y="133.22" width="3.97" height="8.64" fill="#f1565c"/>
<rect x="449.14" y="133.22" width="3.97" height="8.64" fill="#f2575d"/>
<rect x="452.81" y="133.22" width="3.97" height="8.64" fill="#f1565c"/>
<rect x="456.48" y="133.22" width="3.97" height="8.64" fill="#f2181e"/>
<rect x="460.16" y="133.22" width="3.97" height="8.64" fill="#f41a20"/>
<rect x="463.83" y="133.22" width="3.97" height="8.64" fill="#f1171d"/>
<rect x="467.51" y="133.22" width="3.97" height="8.64" fill="#f41a20"/>
<rect x="471.18" y="133.22" width="3.97" height="8.64" fill="#ee141a"/>
<rect x="474.85" y="133.22" width="3.97" height="8.64" fill="#f0161c"/>
<rect x="478.53" y="133.22" width="3.97" height="8.64" fill="#ec1218"/>
<rect x="246.40" y="141.56" width="3.86" height="8.64" fill="#f8f2f6"/>
<rect x="249.96" y="141.56" width="3.86" height="8.64" fill="#f6f0f4"/>
<rect x="253.52" y="141.56" width="3.86" height="8.64" fill="#f6f0f4"/>
<rect x="257.08" y="141.56" width="3.86" height="8.64" fill="#fed3d8"/>
<rect x="260.64" y="141.56" width="3.86" height="8.64" fill="#f39aa0"/>
<rect x="264.20" y="141.56" width="3.94" height="8.64" fill="#f88086"/>
<rect x="267.84" y="141.56" width="3.94" height="8.64" fill="#faa1a7"/>
<rect x="271.48" y="141.56" width="3.94" height="8.64" fill="#f98187"/>
<rect x="275.12" y="141.56" width="3.94" height="8.64" fill="#f98187"/>
<rect x="278.76" y="141.56" width="3.94" height="8.64" fill="#f77f85"/>
<rect x="282.40" y="141.56" width="3.94" height="8.64" fill="#f4595f"/>
<rect x="286.04" y="141.56" width="3.94" height="8.64" fill="#f75c62"/>
<rect x="289.68" y="141.56" width="3.94" height="8.64" fill="#f1565c"/>
<rect x="293.32" y="141.56" width="3.94" height="8.64" fill="#f3585e"/>
<rect x="296.96" y="141.56" width="3.94" height="8.64" fill="#ee141a"/>
<rect x="300.60" y="141.56" width="4.07" height="8.64" fill="#f0555b"/>
<rect x="304.37" y="141.56" width="4.07" height="8.64" fill="#f59ca2"/>
<rect x="308.13" y="141.56" width="4.07" height="8.64" fill="#ffd4d9"/>
<rect x="311.90" y="141.56" width="3.89" height="8.64" fill="#f27a80"/>
<rect x="315.49" y="141.56" width="3.89" height="8.64" fill="#f9a0a6"/>
<rect x="319.08" y="141.56" width="3.89" height="8.64" fill="#f89fa5"/>
<rect x="322.67" y="141.56" width="3.89" height="8.64" fill="#fed3d8"/>
<rect x="326.26" y="141.56" width="3.89" height="8.64" fill="#faa1a7"/>
<rect x="329.85" y="141.56" width="3.89" height="8.64" fill="#f57d83"/>
<rect x="333.45" y="141.56" width="3.89" height="8.64" fill="#f79ea4"/>
<rect x="337.04" y="141.56" width="3.89" height="8.64" fill="#f88086"/>
<rect x="340.63" y="141.56" width="3.89" height="8.64" fill="#f3585e"/>
<rect x="344.22" y="141.56" width="3.89" height="8.64" fill="#f75c62"/>
<rect x="347.81" y="141.56" width="3.89" height="8.64" fill="#f37b81"/>
<rect x="351.40" y="141.56" width="3.89" height="8.64" fill="#f89fa5"/>
<rect x="354.99" y="141.56" width="3.89" height="8.64" fill="#f9ced3"/>
<rect x="358.58" y="141.56" width="3.89" height="8.64" fill="#fba2a8"/>
<rect x="362.16" y="141.56" width="3.89" height="8.64" fill="#f7ccd1"/>
<rect x="365.75" y="141.56" width="3.89" height="8.64" fill="#f9a0a6"/>
<rect x="369.34" y="141.56" width="3.89" height="8.64" fill="#fed3d8"/>
<rect x="372.93" y="141.56" width="3.89" height="8.64" fill="#f69da3"/>
<rect x="376.52" y="141.56" width="3.89" height="8.64" fill="#fed3d8"/>
<rect x="380.11" y="141.56" width="3.89" height="8.64" fill="#fbd0d5"/>
<rect x="383.69" y="141.56" width="3.89" height="8.64" fill="#f39aa0"/>
<rect x="387.28" y="141.56" width="3.89" height="8.64" fill="#f67e84"/>
<rect x="390.87" y="141.56" width="3.89" height="8.64" fill="#f41a20"/>
<rect x="394.46" y="141.56" width="3.89" height="8.64" fill="#ed1319"/>
<rect x="398.05" y="141.56" width="3.89" height="8.64" fill="#f3191f"/>
<rect x="401.64" y="141.56" width="3.89" height="8.64" fill="#ee141a"/>
<rect x="405.22" y="141.56" width="3.89" height="8.64" fill="#f3585e"/>
<rect x="408.81" y="141.56" width="3.89" height="8.64" fill="#f0161c"/>
<rect x="412.40" y="141.56" width="3.97" height="8.64" fill="#f8cdd2"/>
<rect x="416.07" y="141.56" width="3.97" height="8.64" fill="#fdd2d7"/>
<rect x="419.75" y="141.56" width="3.97" height="8.64" fill="#f49ba1"/>
<rect x="423.42" y="141.56" width="3.97" height="8.64" fill="#f89fa5"/>
<rect x="427.09" y="141.56" width="3.97" height="8.64" fill="#f7ccd1"/>
<rect x="430.77" y="141.56" width="3.97" height="8.64" fill="#fba2a8"/>
<rect x="434.44" y="141.56" width="3.97" height="8.64" fill="#faa1a7"/>
<rect x="438.12" y="141.56" width="3.97" height="8.64" fill="#faa1a7"/>
<rect x="441.79" y="141.56" width="3.97" height="8.64" fill="#f69da3"/>
<rect x="445.46" y="141.56" width="3.97" height="8.64" fill="#f79ea4"/>
<rect x="449.14" y="141.56" width="3.97" height="8.64" fill="#f67e84"/>
<rect x="452.81" y="141.56" width="3.97" height="8.64" fill="#f1565c"/>
<rect x="456.48" y="141.56" width="3.97" height="8.64" fill="#f77f85"/>
<rect x="460.16" y="141.56" width="3.97" height="8.64" fill="#f55a60"/>
<rect x="463.83" y="141.56" width="3.97" height="8.64" fill="#f4595f"/>
<rect x="467.51" y="141.56" width="3.97" height="8.64" fill="#ef545a"/>
<rect x="471.18" y="141.56" width="3.97" height="8.64" fill="#f3585e"/>
<rect x="474.85" y="141.56" width="3.97" height="8.64" fill="#f2575d"/>
<rect x="478.53" y="141.56" width="3.97" height="8.64" fill="#ef545a"/>
<rect x="246.40" y="149.90" width="3.86" height="8.64" fill="#fbf5f9"/>
<rect x="249.96" y="149.90" width="3.86" height="8.64" fill="#fbf5f9"/>
<rect x="253.52" y="149.90" width="3.86" height="8.64" fill="#fcf6fa"/>
<rect x="257.08" y="149.90" width="3.86" height="8.64" fill="#ffd4d9"/>
<rect x="260.64" y="149.90" width="3.86" height="8.64" fill="#f79ea4"/>
<rect x="264.20" y="149.90" width="3.94" height="8.64" fill="#f1797f"/>
<rect x="267.84" y="149.90" width="3.94" height="8.64" fill="#f59ca2"/>
<rect x="271.48" y="149.90" width="3.94" height="8.64" fill="#f77f85"/>
<rect x="275.12" y="149.90" width="3.94" height="8.64" fill="#f79ea4"/>
<rect x="278.76" y="149.90" width="3.94" height="8.64" fill="#f77f85"/>
<rect x="282.40" y="149.90" width="3.94" height="8.64" fill="#f49ba1"/>
<rect x="286.04" y="149.90" width="3.94" height="8.64" fill="#f88086"/>
<rect x="289.68" y="149.90" width="3.94" height="8.64" fill="#f47c82"/>
<rect x="293.32" y="149.90" width="3.94" height="8.64" fill="#f2575d"/>
<rect x="296.96" y="149.90" width="3.94" height="8.64" fill="#f0555b"/>
<rect x="300.60" y="149.90" width="4.07" height="8.64" fill="#f98187"/>
<rect x="304.37" y="149.90" width="4.07" height="8.64" fill="#f49ba1"/>
<rect x="308.13" y="149.90" width="4.07" height="8.64" fill="#f8cdd2"/>
<rect x="311.90" y="149.90" width="3.89" height="8.64" fill="#f1797f"/>
<rect x="315.49" y="149.90" width="3.89" height="8.64" fill="#f79ea4"/>
<rect x="319.08" y="149.90" width="3.89" height="8.64" fill="#f8cdd2"/>
<rect x="322.67" y="149.90" width="3.89" height="8.64" fill="#f9a0a6"/>
<rect x="326.26" y="149.90" width="3.89" height="8.64" fill="#f79ea4"/>
<rect x="329.85" y="149.90" width="3.89" height="8.64" fill="#faa1a7"/>
<rect x="333.45" y="149.90" width="3.89" height="8.64" fill="#f88086"/>
<rect x="337.04" y="149.90" width="3.89" height="8.64" fill="#f79ea4"/>
<rect x="340.63" y="149.90" width="3.89" height="8.64" fill="#f57d83"/>
<rect x="344.22" y="149.90" width="3.89" height="8.64" fill="#fba2a8"/>
<rect x="347.81" y="149.90" width="3.89" height="8.64" fill="#f75c62"/>
<rect x="351.40" y="149.90" width="3.89" height="8.64" fill="#f39aa0"/>
<rect x="354.99" y="149.90" width="3.89" height="8.64" fill="#f9ced3"/>
<rect x="358.58" y="149.90" width="3.89" height="8.64" fill="#f69da3"/>
<rect x="362.16" y="149.90" width="3.89" height="8.64" fill="#fed3d8"/>
<rect x="365.75" y="149.90" width="3.89" height="8.64" fill="#f59ca2"/>
<rect x="369.34" y="149.90" width="3.89" height="8.64" fill="#f9ced3"/>
<rect x="372.93" y="149.90" width="3.89" height="8.64" fill="#f59ca2"/>
<rect x="376.52" y="149.90" width="3.89" height="8.64" fill="#f9ced3"/>
<rect x="380.11" y="149.90" width="3.89" height="8.64" fill="#fed3d8"/>
<rect x="383.69" y="149.90" width="3.89" height="8.64" fill="#fdd2d7"/>
<rect x="387.28" y="149.90" width="3.89" height="8.64" fill="#f39aa0"/>
<rect x="390.87" y="149.90" width="3.89" height="8.64" fill="#ee141a"/>
<rect x="394.46" y="149.90" width="3.89" height="8.64" fill="#f2181e"/>
<rect x="398.05" y="149.90" width="3.89" height="8.64" fill="#ef545a"/>
<rect x="401.64" y="149.90" width="3.89" height="8.64" fill="#f37b81"/>
<rect x="405.22" y="149.90" width="3.89" height="8.64" fill="#f59ca2"/>
<rect x="408.81" y="149.90" width="3.89" height="8.64" fill="#f57d83"/>
<rect x="412.40" y="149.90" width="3.97" height="8.64" fill="#facfd4"/>
<rect x="416.07" y="149.90" width="3.97" height="8.64" fill="#f9ced3"/>
<rect x="419.75" y="149.90" width="3.97" height="8.64" fill="#f59ca2"/>
<rect x="423.42" y="149.90" width="3.97" height="8.64" fill="#f39aa0"/>
<rect x="427.09" y="149.90" width="3.97" height="8.64" fill="#fba2a8"/>
<rect x="430.77" y="149.90" width="3.97" height="8.64" fill="#f59ca2"/>
<rect x="434.44" y="149.90" width="3.97" height="8.64" fill="#fba2a8"/>
<rect x="438.12" y="149.90" width="3.97" height="8.64" fill="#f69da3"/>
<rect x="441.79" y="149.90" width="3.97" height="8.64" fill="#f9a0a6"/>
<rect x="445.46" y="149.90" width="3.97" height="8.64" fill="#f49ba1"/>
<rect x="449.14" y="149.90" width="3.97" height="8.64" fill="#f9a0a6"/>
<rect x="452.81" y="149.90" width="3.97" height="8.64" fill="#f77f85"/>
<rect x="456.48" y="149.90" width="3.97" height="8.64" fill="#f37b81"/>
<rect x="460.16" y="149.90" width="3.97" height="8.64" fill="#f1797f"/>
<rect x="463.83" y="149.90" width="3.97" height="8.64" fill="#f3585e"/>
<rect x="467.51" y="149.90" width="3.97" height="8.64" fill="#f27a80"/>
<rect x="471.18" y="149.90" width="3.97" height="8.64" fill="#f1565c"/>
<rect x="474.85" y="149.90" width="3.97" height="8.64" fill="#f0555b"/>
<rect x="478.53" y="149.90" width="3.97" height="8.64" fill="#f1565c"/>
<rect x="246.40" y="158.24" width="3.86" height="8.64" fill="#faf4f8"/>
<rect x="249.96" y="158.24" width="3.86" height="8.64" fill="#f8f2f6"/>
<rect x="253.52" y="158.24" width="3.86" height="8.64" fill="#fcf6fa"/>
<rect x="257.08" y="158.24" width="3.86" height="8.64" fill="#fcd1d6"/>
<rect x="260.64" y="158.24" width="3.86" height="8.64" fill="#f49ba1"/>
<rect x="264.20" y="158.24" width="3.94" height="8.64" fill="#f69da3"/>
<rect x="267.84" y="158.24" width="3.94" height="8.64" fill="#f1797f"/>
<rect x="271.48" y="158.24" width="3.94" height="8.64" fill="#f89fa5"/>
<rect x="275.12" y="158.24" width="3.94" height="8.64" fill="#f37b81"/>
<rect x="278.76" y="158.24" width="3.94" height="8.64" fill="#faa1a7"/>
<rect x="282.40" y="158.24" width="3.94" height="8.64" fill="#f69da3"/>
<rect x="286.04" y="158.24" width="3.94" height="8.64" fill="#f27a80"/>
<rect x="289.68" y="158.24" width="3.94" height="8.64" fill="#f67e84"/>
<rect x="293.32" y="158.24" width="3.94" height="8.64" fill="#fba2a8"/>
<rect x="296.96" y="158.24" width="3.94" height="8.64" fill="#f88086"/>
<rect x="300.60" y="158.24" width="4.07" height="8.64" fill="#f49ba1"/>
<rect x="304.37" y="158.24" width="4.07" height="8.64" fill="#f89fa5"/>
<rect x="308.13" y="158.24" width="4.07" height="8.64" fill="#fed3d8"/>
<rect x="311.90" y="158.24" width="3.89" height="8.64" fill="#f7ccd1"/>
<rect x="315.49" y="158.24" width="3.89" height="8.64" fill="#f89fa5"/>
<rect x="319.08" y="158.24" width="3.89" height="8.64" fill="#fba2a8"/>
<rect x="322.67" y="158.24" width="3.89" height="8.64" fill="#f88086"/>
<rect x="326.26" y="158.24" width="3.89" height="8.64" fill="#f9a0a6"/>
<rect x="329.85" y="158.24" width="3.89" height="8.64" fill="#faa1a7"/>
<rect x="333.45" y="158.24" width="3.89" height="8.64" fill="#f98187"/>
<rect x="337.04" y="158.24" width="3.89" height="8.64" fill="#fba2a8"/>
<rect x="340.63" y="158.24" width="3.89" height="8.64" fill="#f57d83"/>
<rect x="344.22" y="158.24" width="3.89" height="8.64" fill="#faa1a7"/>
<rect x="347.81" y="158.24" width="3.89" height="8.64" fill="#f37b81"/>
<rect x="351.40" y="158.24" width="3.89" height="8.64" fill="#fba2a8"/>
<rect x="354.99" y="158.24" width="3.89" height="8.64" fill="#fed3d8"/>
<rect x="358.58" y="158.24" width="3.89" height="8.64" fill="#f9a0a6"/>
<rect x="362.16" y="158.24" width="3.89" height="8.64" fill="#facfd4"/>
<rect x="365.75" y="158.24" width="3.89" height="8.64" fill="#f79ea4"/>
<rect x="369.34" y="158.24" width="3.89" height="8.64" fill="#f9ced3"/>
<rect x="372.93" y="158.24" width="3.89" height="8.64" fill="#f79ea4"/>
<rect x="376.52" y="158.24" width="3.89" height="8.64" fill="#f9ced3"/>
<rect x="380.11" y="158.24" width="3.89" height="8.64" fill="#fcd1d6"/>
<rect x="383.69" y="158.24" width="3.89" height="8.64" fill="#fbd0d5"/>
<rect x="387.28" y="158.24" width="3.89" height="8.64" fill="#f69da3"/>
<rect x="390.87" y="158.24" width="3.89" height="8.64" fill="#f37b81"/>
<rect x="394.46" y="158.24" width="3.89" height="8.64" fill="#f39aa0"/>
<rect x="398.05" y="158.24" width="3.89" height="8.64" fill="#f1797f"/>
<rect x="401.64" y="158.24" width="3.89" height="8.64" fill="#f9a0a6"/>
<rect x="405.22" y="158.24" width="3.89" height="8.64" fill="#f37b81"/>
<rect x="408.81" y="158.24" width="3.89" height="8.64" fill="#f49ba1"/>
<rect x="412.40" y="158.24" width="3.97" height="8.64" fill="#f6f0f4"/>
<rect x="416.07" y="158.24" width="3.97" height="8.64" fill="#f9ced3"/>
<rect x="419.75" y="158.24" width="3.97" height="8.64" fill="#f49ba1"/>
<rect x="423.42" y="158.24" width="3.97" height="8.64" fill="#fdd2d7"/>
<rect x="427.09" y="158.24" width="3.97" height="8.64" fill="#f89fa5"/>
<rect x="430.77" y="158.24" width="3.97" height="8.64" fill="#ffd4d9"/>
<rect x="434.44" y="158.24" width="3.97" height="8.64" fill="#f79ea4"/>
<rect x="438.12" y="158.24" width="3.97" height="8.64" fill="#f8cdd2"/>
<rect x="441.79" y="158.24" width="3.97" height="8.64" fill="#faa1a7"/>
<rect x="445.46" y="158.24" width="3.97" height="8.64" fill="#fba2a8"/>
<rect x="449.14" y="158.24" width="3.97" height="8.64" fill="#faa1a7"/>
<rect x="452.81" y="158.24" width="3.97" height="8.64" fill="#f89fa5"/>
<rect x="456.48" y="158.24" width="3.97" height="8.64" fill="#f37b81"/>
<rect x="460.16" y="158.24" width="3.97" height="8.64" fill="#f69da3"/>
<rect x="463.83" y="158.24" width="3.97" height="8.64" fill="#f67e84"/>
<rect x="467.51" y="158.24" width="3.97" height="8.64" fill="#faa1a7"/>
<rect x="471.18" y="158.24" width="3.97" height="8.64" fill="#f98187"/>
<rect x="474.85" y="158.24" width="3.97" height="8.64" fill="#f89fa5"/>
<rect x="478.53" y="158.24" width="3.97" height="8.64" fill="#f67e84"/>
<rect x="246.40" y="166.58" width="3.86" height="8.64" fill="#fbf5f9"/>
<rect x="249.96" y="166.58" width="3.86" height="8.64" fill="#fbf5f9"/>
<rect x="253.52" y="166.58" width="3.86" height="8.64" fill="#fbf5f9"/>
<rect x="257.08" y="166.58" width="3.86" height="8.64" fill="#fbd0d5"/>
<rect x="260.64" y="166.58" width="3.86" height="8.64" fill="#f79ea4"/>
<rect x="264.20" y="166.58" width="3.94" height="8.64" fill="#f79ea4"/>
<rect x="267.84" y="166.58" width="3.94" height="8.64" fill="#f37b81"/>
<rect x="271.48" y="166.58" width="3.94" height="8.64" fill="#f49ba1"/>
<rect x="275.12" y="166.58" width="3.94" height="8.64" fill="#fba2a8"/>
<rect x="278.76" y="166.58" width="3.94" height="8.64" fill="#f47c82"/>
<rect x="282.40" y="166.58" width="3.94" height="8.64" fill="#f89fa5"/>
<rect x="286.04" y="166.58" width="3.94" height="8.64" fill="#f69da3"/>
<rect x="289.68" y="166.58" width="3.94" height="8.64" fill="#f57d83"/>
<rect x="293.32" y="166.58" width="3.94" height="8.64" fill="#f9a0a6"/>
<rect x="296.96" y="166.58" width="3.94" height="8.64" fill="#f57d83"/>
<rect x="300.60" y="166.58" width="4.07" height="8.64" fill="#faa1a7"/>
<rect x="304.37" y="166.58" width="4.07" height="8.64" fill="#f9ced3"/>
<rect x="308.13" y="166.58" width="4.07" height="8.64" fill="#fed3d8"/>
<rect x="311.90" y="166.58" width="3.89" height="8.64" fill="#fcd1d6"/>
<rect x="315.49" y="166.58" width="3.89" height="8.64" fill="#fba2a8"/>
<rect x="319.08" y="166.58" width="3.89" height="8.64" fill="#f59ca2"/>
<rect x="322.67" y="166.58" width="3.89" height="8.64" fill="#f98187"/>
<rect x="326.26" y="166.58" width="3.89" height="8.64" fill="#fba2a8"/>
<rect x="329.85" y="166.58" width="3.89" height="8.64" fill="#faa1a7"/>
<rect x="333.45" y="166.58" width="3.89" height="8.64" fill="#f7ccd1"/>
<rect x="337.04" y="166.58" width="3.89" height="8.64" fill="#f49ba1"/>
<rect x="340.63" y="166.58" width="3.89" height="8.64" fill="#f77f85"/>
<rect x="344.22" y="166.58" width="3.89" height="8.64" fill="#f9a0a6"/>
<rect x="347.81" y="166.58" width="3.89" height="8.64" fill="#f98187"/>
<rect x="351.40" y="166.58" width="3.89" height="8.64" fill="#f79ea4"/>
<rect x="354.99" y="166.58" width="3.89" height="8.64" fill="#f7ccd1"/>
<rect x="358.58" y="166.58" width="3.89" height="8.64" fill="#f69da3"/>
<rect x="362.16" y="166.58" width="3.89" height="8.64" fill="#fdd2d7"/>
<rect x="365.75" y="166.58" width="3.89" height="8.64" fill="#f9a0a6"/>
<rect x="369.34" y="166.58" width="3.89" height="8.64" fill="#facfd4"/>
<rect x="372.93" y="166.58" width="3.89" height="8.64" fill="#f49ba1"/>
<rect x="376.52" y="166.58" width="3.89" height="8.64" fill="#fcd1d6"/>
<rect x="380.11" y="166.58" width="3.89" height="8.64" fill="#ffd4d9"/>
<rect x="383.69" y="166.58" width="3.89" height="8.64" fill="#facfd4"/>
<rect x="387.28" y="166.58" width="3.89" height="8.64" fill="#f39aa0"/>
<rect x="390.87" y="166.58" width="3.89" height="8.64" fill="#f98187"/>
<rect x="394.46" y="166.58" width="3.89" height="8.64" fill="#faa1a7"/>
<rect x="398.05" y="166.58" width="3.89" height="8.64" fill="#f27a80"/>
<rect x="401.64" y="166.58" width="3.89" height="8.64" fill="#f9a0a6"/>
<rect x="405.22" y="166.58" width="3.89" height="8.64" fill="#f77f85"/>
<rect x="408.81" y="166.58" width="3.89" height="8.64" fill="#fba2a8"/>
<rect x="412.40" y="166.58" width="3.97" height="8.64" fill="#fbf5f9"/>
<rect x="416.07" y="166.58" width="3.97" height="8.64" fill="#f7ccd1"/>
<rect x="419.75" y="166.58" width="3.97" height="8.64" fill="#f79ea4"/>
<rect x="423.42" y="166.58" width="3.97" height="8.64" fill="#f89fa5"/>
<rect x="427.09" y="166.58" width="3.97" height="8.64" fill="#ffd4d9"/>
<rect x="430.77" y="166.58" width="3.97" height="8.64" fill="#f89fa5"/>
<rect x="434.44" y="166.58" width="3.97" height="8.64" fill="#f9a0a6"/>
<rect x="438.12" y="166.58" width="3.97" height="8.64" fill="#fed3d8"/>
<rect x="441.79" y="166.58" width="3.97" height="8.64" fill="#f89fa5"/>
<rect x="445.46" y="166.58" width="3.97" height="8.64" fill="#f49ba1"/>
<rect x="449.14" y="166.58" width="3.97" height="8.64" fill="#faa1a7"/>
<rect x="452.81" y="166.58" width="3.97" height="8.64" fill="#f59ca2"/>
<rect x="456.48" y="166.58" width="3.97" height="8.64" fill="#f89fa5"/>
<rect x="460.16" y="166.58" width="3.97" height="8.64" fill="#f47c82"/>
<rect x="463.83" y="166.58" width="3.97" height="8.64" fill="#f39aa0"/>
<rect x="467.51" y="166.58" width="3.97" height="8.64" fill="#f67e84"/>
<rect x="471.18" y="166.58" width="3.97" height="8.64" fill="#f49ba1"/>
<rect x="474.85" y="166.58" width="3.97" height="8.64" fill="#f1797f"/>
<rect x="478.53" y="166.58" width="3.97" height="8.64" fill="#f59ca2"/>
<rect x="246.40" y="174.92" width="3.86" height="8.64" fill="#f7f1f5"/>
<rect x="249.96" y="174.92" width="3.86" height="8.64" fill="#f9f3f7"/>
<rect x="253.52" y="174.92" width="3.86" height="8.64" fill="#fcd1d6"/>
<rect x="257.08" y="174.92" width="3.86" height="8.64" fill="#fdd2d7"/>
<rect x="260.64" y="174.92" width="3.86" height="8.64" fill="#f79ea4"/>
<rect x="264.20" y="174.92" width="3.94" height="8.64" fill="#f47c82"/>
<rect x="267.84" y="174.92" width="3.94" height="8.64" fill="#f39aa0"/>
<rect x="271.48" y="174.92" width="3.94" height="8.64" fill="#f1797f"/>
<rect x="275.12" y="174.92" width="3.94" height="8.64" fill="#fba2a8"/>
<rect x="278.76" y="174.92" width="3.94" height="8.64" fill="#f67e84"/>
<rect x="282.40" y="174.92" width="3.94" height="8.64" fill="#fba2a8"/>
<rect x="286.04" y="174.92" width="3.94" height="8.64" fill="#faa1a7"/>
<rect x="289.68" y="174.92" width="3.94" height="8.64" fill="#f67e84"/>
<rect x="293.32" y="174.92" width="3.94" height="8.64" fill="#f69da3"/>
<rect x="296.96" y="174.92" width="3.94" height="8.64" fill="#f88086"/>
<rect x="300.60" y="174.92" width="4.07" height="8.64" fill="#f89fa5"/>
<rect x="304.37" y="174.92" width="4.07" height="8.64" fill="#f8cdd2"/>
<rect x="308.13" y="174.92" width="4.07" height="8.64" fill="#ffd4d9"/>
<rect x="311.90" y="174.92" width="3.89" height="8.64" fill="#fdd2d7"/>
<rect x="315.49" y="174.92" width="3.89" height="8.64" fill="#f69da3"/>
<rect x="319.08" y="174.92" width="3.89" height="8.64" fill="#faa1a7"/>
<rect x="322.67" y="174.92" width="3.89" height="8.64" fill="#f37b81"/>
<rect x="326.26" y="174.92" width="3.89" height="8.64" fill="#f79ea4"/>
<rect x="329.85" y="174.92" width="3.89" height="8.64" fill="#f79ea4"/>
<rect x="333.45" y="174.92" width="3.89" height="8.64" fill="#ffd4d9"/>
<rect x="337.04" y="174.92" width="3.89" height="8.64" fill="#f69da3"/>
<rect x="340.63" y="174.92" width="3.89" height="8.64" fill="#f27a80"/>
<rect x="344.22" y="174.92" width="3.89" height="8.64" fill="#f59ca2"/>
<rect x="347.81" y="174.92" width="3.89" height="8.64" fill="#f49ba1"/>
<rect x="351.40" y="174.92" width="3.89" height="8.64" fill="#f9a0a6"/>
<rect x="354.99" y="174.92" width="3.89" height="8.64" fill="#f7ccd1"/>
<rect x="358.58" y="174.92" width="3.89" height="8.64" fill="#f89fa5"/>
<rect x="362.16" y="174.92" width="3.89" height="8.64" fill="#fdd2d7"/>
<rect x="365.75" y="174.92" width="3.89" height="8.64" fill="#f7ccd1"/>
<rect x="369.34" y="174.92" width="3.89" height="8.64" fill="#fed3d8"/>
<rect x="372.93" y="174.92" width="3.89" height="8.64" fill="#f9ced3"/>
<rect x="376.52" y="174.92" width="3.89" height="8.64" fill="#fed3d8"/>
<rect x="380.11" y="174.92" width="3.89" height="8.64" fill="#fbd0d5"/>
<rect x="383.69" y="174.92" width="3.89" height="8.64" fill="#f8f2f6"/>
<rect x="387.28" y="174.92" width="3.89" height="8.64" fill="#f9a0a6"/>
<rect x="390.87" y="174.92" width="3.89" height="8.64" fill="#f69da3"/>
<rect x="394.46" y="174.92" width="3.89" height="8.64" fill="#f98187"/>
<rect x="398.05" y="174.92" width="3.89" height="8.64" fill="#f9a0a6"/>
<rect x="401.64" y="174.92" width="3.89" height="8.64" fill="#f57d83"/>
<rect x="405.22" y="174.92" width="3.89" height="8.64" fill="#f9a0a6"/>
<rect x="408.81" y="174.92" width="3.89" height="8.64" fill="#f57d83"/>
<rect x="412.40" y="174.92" width="3.97" height="8.64" fill="#f8cdd2"/>
<rect x="416.07" y="174.92" width="3.97" height="8.64" fill="#f8cdd2"/>
<rect x="419.75" y="174.92" width="3.97" height="8.64" fill="#f49ba1"/>
<rect x="423.42" y="174.92" width="3.97" height="8.64" fill="#faa1a7"/>
<rect x="427.09" y="174.92" width="3.97" height="8.64" fill="#fcd1d6"/>
<rect x="430.77" y="174.92" width="3.97" height="8.64" fill="#f49ba1"/>
<rect x="434.44" y="174.92" width="3.97" height="8.64" fill="#f39aa0"/>
<rect x="438.12" y="174.92" width="3.97" height="8.64" fill="#fcd1d6"/>
<rect x="441.79" y="174.92" width="3.97" height="8.64" fill="#faa1a7"/>
<rect x="445.46" y="174.92" width="3.97" height="8.64" fill="#f9a0a6"/>
<rect x="449.14" y="174.92" width="3.97" height="8.64" fill="#f49ba1"/>
<rect x="452.81" y="174.92" width="3.97" height="8.64" fill="#f89fa5"/>
<rect x="456.48" y="174.92" width="3.97" height="8.64" fill="#f9a0a6"/>
<rect x="460.16" y="174.92" width="3.97" height="8.64" fill="#f69da3"/>
<rect x="463.83" y="174.92" width="3.97" height="8.64" fill="#f67e84"/>
<rect x="467.51" y="174.92" width="3.97" height="8.64" fill="#f69da3"/>
<rect x="471.18" y="174.92" width="3.97" height="8.64" fill="#f77f85"/>
<rect x="474.85" y="174.92" width="3.97" height="8.64" fill="#f49ba1"/>
<rect x="478.53" y="174.92" width="3.97" height="8.64" fill="#f1797f"/>
<rect x="246.40" y="183.26" width="3.86" height="8.64" fill="#fef8fc"/>
<rect x="249.96" y="183.26" width="3.86" height="8.64" fill="#f6f0f4"/>
<rect x="253.52" y="183.26" width="3.86" height="8.64" fill="#ffd4d9"/>
<rect x="257.08" y="183.26" width="3.86" height="8.64" fill="#fba2a8"/>
<rect x="260.64" y="183.26" width="3.86" height="8.64" fill="#f69da3"/>
<rect x="264.20" y="183.26" width="3.94" height="8.64" fill="#f49ba1"/>
<rect x="267.84" y="183.26" width="3.94" height="8.64" fill="#f37b81"/>
<rect x="271.48" y="183.26" width="3.94" height="8.64" fill="#f69da3"/>
<rect x="275.12" y="183.26" width="3.94" height="8.64" fill="#fed3d8"/>
<rect x="278.76" y="183.26" width="3.94" height="8.64" fill="#f98187"/>
<rect x="282.40" y="183.26" width="3.94" height="8.64" fill="#f9a0a6"/>
<rect x="286.04" y="183.26" width="3.94" height="8.64" fill="#f79ea4"/>
<rect x="289.68" y="183.26" width="3.94" height="8.64" fill="#f67e84"/>
<rect x="293.32" y="183.26" width="3.94" height="8.64" fill="#faa1a7"/>
<rect x="296.96" y="183.26" width="3.94" height="8.64" fill="#f98187"/>
<rect x="300.60" y="183.26" width="4.07" height="8.64" fill="#f69da3"/>
<rect x="304.37" y="183.26" width="4.07" height="8.64" fill="#facfd4"/>
<rect x="308.13" y="183.26" width="4.07" height="8.64" fill="#fbd0d5"/>
<rect x="311.90" y="183.26" width="3.89" height="8.64" fill="#fcd1d6"/>
<rect x="315.49" y="183.26" width="3.89" height="8.64" fill="#f59ca2"/>
<rect x="319.08" y="183.26" width="3.89" height="8.64" fill="#fba2a8"/>
<rect x="322.67" y="183.26" width="3.89" height="8.64" fill="#f67e84"/>
<rect x="326.26" y="183.26" width="3.89" height="8.64" fill="#fba2a8"/>
<rect x="329.85" y="183.26" width="3.89" height="8.64" fill="#f89fa5"/>
<rect x="333.45" y="183.26" width="3.89" height="8.64" fill="#fcd1d6"/>
<rect x="337.04" y="183.26" width="3.89" height="8.64" fill="#fba2a8"/>
<rect x="340.63" y="183.26" width="3.89" height="8.64" fill="#f47c82"/>
<rect x="344.22" y="183.26" width="3.89" height="8.64" fill="#faa1a7"/>
<rect x="347.81" y="183.26" width="3.89" height="8.64" fill="#f39aa0"/>
<rect x="351.40" y="183.26" width="3.89" height="8.64" fill="#f9a0a6"/>
<rect x="354.99" y="183.26" width="3.89" height="8.64" fill="#fbd0d5"/>
<rect x="358.58" y="183.26" width="3.89" height="8.64" fill="#f69da3"/>
<rect x="362.16" y="183.26" width="3.89" height="8.64" fill="#fed3d8"/>
<rect x="365.75" y="183.26" width="3.89" height="8.64" fill="#facfd4"/>
<rect x="369.34" y="183.26" width="3.89" height="8.64" fill="#f9ced3"/>
<rect x="372.93" y="183.26" width="3.89" height="8.64" fill="#f49ba1"/>
<rect x="376.52" y="183.26" width="3.89" height="8.64" fill="#fed3d8"/>
<rect x="380.11" y="183.26" width="3.89" height="8.64" fill="#f8cdd2"/>
<rect x="383.69" y="183.26" width="3.89" height="8.64" fill="#fef8fc"/>
<rect x="387.28" y="183.26" width="3.89" height="8.64" fill="#f9a0a6"/>
<rect x="390.87" y="183.26" width="3.89" height="8.64" fill="#f69da3"/>
<rect x="394.46" y="183.26" width="3.89" height="8.64" fill="#f67e84"/>
<rect x="398.05" y="183.26" width="3.89" height="8.64" fill="#f59ca2"/>
<rect x="401.64" y="183.26" width="3.89" height="8.64" fill="#f1797f"/>
<rect x="405.22" y="183.26" width="3.89" height="8.64" fill="#f89fa5"/>
<rect x="408.81" y="183.26" width="3.89" height="8.64" fill="#f88086"/>
<rect x="412.40" y="183.26" width="3.97" height="8.64" fill="#facfd4"/>
<rect x="416.07" y="183.26" width="3.97" height="8.64" fill="#f9a0a6"/>
<rect x="419.75" y="183.26" width="3.97" height="8.64" fill="#f39aa0"/>
<rect x="423.42" y="183.26" width="3.97" height="8.64" fill="#f69da3"/>
<rect x="427.09" y="183.26" width="3.97" height="8.64" fill="#f9a0a6"/>
<rect x="430.77" y="183.26" width="3.97" height="8.64" fill="#fcd1d6"/>
<rect x="434.44" y="183.26" width="3.97" height="8.64" fill="#fdd2d7"/>
<rect x="438.12" y="183.26" width="3.97" height="8.64" fill="#facfd4"/>
<rect x="441.79" y="183.26" width="3.97" height="8.64" fill="#f9ced3"/>
<rect x="445.46" y="183.26" width="3.97" height="8.64" fill="#f79ea4"/>
<rect x="449.14" y="183.26" width="3.97" height="8.64" fill="#f79ea4"/>
<rect x="452.81" y="183.26" width="3.97" height="8.64" fill="#f89fa5"/>
<rect x="456.48" y="183.26" width="3.97" height="8.64" fill="#f79ea4"/>
<rect x="460.16" y="183.26" width="3.97" height="8.64" fill="#f1797f"/>
<rect x="463.83" y="183.26" width="3.97" height="8.64" fill="#f89fa5"/>
<rect x="467.51" y="183.26" width="3.97" height="8.64" fill="#f27a80"/>
<rect x="471.18" y="183.26" width="3.97" height="8.64" fill="#f69da3"/>
<rect x="474.85" y="183.26" width="3.97" height="8.64" fill="#f47c82"/>
<rect x="478.53" y="183.26" width="3.97" height="8.64" fill="#f79ea4"/>
<rect x="246.40" y="196.30" width="3.86" height="8.58" fill="#f65b61"/>
<rect x="249.96" y="196.30" width="3.86" height="8.58" fill="#f59ca2"/>
<rect x="253.52" y="196.30" width="3.86" height="8.58" fill="#f1565c"/>
<rect x="257.08" y="196.30" width="3.86" height="8.58" fill="#f69da3"/>
<rect x="260.64" y="196.30" width="3.86" height="8.58" fill="#f65b61"/>
<rect x="264.20" y="196.30" width="3.94" height="8.58" fill="#f9f3f7"/>
<rect x="267.84" y="196.30" width="3.94" height="8.58" fill="#bfbbe7"/>
<rect x="271.48" y="196.30" width="3.94" height="8.58" fill="#8b87d1"/>
<rect x="275.12" y="196.30" width="3.94" height="8.58" fill="#bfbbe7"/>
<rect x="278.76" y="196.30" width="3.94" height="8.58" fill="#bebae6"/>
<rect x="282.40" y="196.30" width="3.94" height="8.58" fill="#8e8ad4"/>
<rect x="286.04" y="196.30" width="3.94" height="8.58" fill="#c2beea"/>
<rect x="289.68" y="196.30" width="3.94" height="8.58" fill="#fef8fc"/>
<rect x="293.32" y="196.30" width="3.94" height="8.58" fill="#c2beea"/>
<rect x="296.96" y="196.30" width="3.94" height="8.58" fill="#bebae6"/>
<rect x="300.60" y="196.30" width="4.07" height="8.58" fill="#f79ea4"/>
<rect x="304.37" y="196.30" width="4.07" height="8.58" fill="#f3191f"/>
<rect x="308.13" y="196.30" width="4.07" height="8.58" fill="#f1171d"/>
<rect x="311.90" y="196.30" width="3.89" height="8.58" fill="#f6f0f4"/>
<rect x="315.49" y="196.30" width="3.89" height="8.58" fill="#f7f1f5"/>
<rect x="319.08" y="196.30" width="3.89" height="8.58" fill="#fef8fc"/>
<rect x="322.67" y="196.30" width="3.89" height="8.58" fill="#c3bfeb"/>
<rect x="326.26" y="196.30" width="3.89" height="8.58" fill="#c3bfeb"/>
<rect x="329.85" y="196.30" width="3.89" height="8.58" fill="#8682cc"/>
<rect x="333.45" y="196.30" width="3.89" height="8.58" fill="#bebae6"/>
<rect x="337.04" y="196.30" width="3.89" height="8.58" fill="#8a86d0"/>
<rect x="340.63" y="196.30" width="3.89" height="8.58" fill="#fef8fc"/>
<rect x="344.22" y="196.30" width="3.89" height="8.58" fill="#c2beea"/>
<rect x="347.81" y="196.30" width="3.89" height="8.58" fill="#c3bfeb"/>
<rect x="351.40" y="196.30" width="3.89" height="8.58" fill="#2d279d"/>
<rect x="354.99" y="196.30" width="3.89" height="8.58" fill="#302aa0"/>
<rect x="358.58" y="196.30" width="3.89" height="8.58" fill="#544eb8"/>
<rect x="362.16" y="196.30" width="3.89" height="8.58" fill="#8d89d3"/>
<rect x="365.75" y="196.30" width="3.89" height="8.58" fill="#c1bde9"/>
<rect x="369.34" y="196.30" width="3.89" height="8.58" fill="#8c88d2"/>
<rect x="372.93" y="196.30" width="3.89" height="8.58" fill="#534db7"/>
<rect x="376.52" y="196.30" width="3.89" height="8.58" fill="#8884ce"/>
<rect x="380.11" y="196.30" width="3.89" height="8.58" fill="#bdb9e5"/>
<rect x="383.69" y="196.30" width="3.89" height="8.58" fill="#fcf6fa"/>
<rect x="387.28" y="196.30" width="3.89" height="8.58" fill="#fbf5f9"/>
<rect x="390.87" y="196.30" width="3.89" height="8.58" fill="#f8f2f6"/>
<rect x="394.46" y="196.30" width="3.89" height="8.58" fill="#514bb5"/>
<rect x="398.05" y="196.30" width="3.89" height="8.58" fill="#8783cd"/>
<rect x="401.64" y="196.30" width="3.89" height="8.58" fill="#c1bde9"/>
<rect x="405.22" y="196.30" width="3.89" height="8.58" fill="#8e8ad4"/>
<rect x="408.81" y="196.30" width="3.89" height="8.58" fill="#8884ce"/>
<rect x="412.40" y="196.30" width="3.97" height="8.58" fill="#f3585e"/>
<rect x="416.07" y="196.30" width="3.97" height="8.58" fill="#fdf7fb"/>
<rect x="419.75" y="196.30" width="3.97" height="8.58" fill="#fef8fc"/>
<rect x="423.42" y="196.30" width="3.97" height="8.58" fill="#8884ce"/>
<rect x="427.09" y="196.30" width="3.97" height="8.58" fill="#534db7"/>
<rect x="430.77" y="196.30" width="3.97" height="8.58" fill="#514bb5"/>
<rect x="434.44" y="196.30" width="3.97" height="8.58" fill="#c3bfeb"/>
<rect x="438.12" y="196.30" width="3.97" height="8.58" fill="#bcb8e4"/>
<rect x="441.79" y="196.30" width="3.97" height="8.58" fill="#8b87d1"/>
<rect x="445.46" y="196.30" width="3.97" height="8.58" fill="#bfbbe7"/>
<rect x="449.14" y="196.30" width="3.97" height="8.58" fill="#f7f1f5"/>
<rect x="452.81" y="196.30" width="3.97" height="8.58" fill="#8e8ad4"/>
<rect x="456.48" y="196.30" width="3.97" height="8.58" fill="#8a86d0"/>
<rect x="460.16" y="196.30" width="3.97" height="8.58" fill="#c0bce8"/>
<rect x="463.83" y="196.30" width="3.97" height="8.58" fill="#544eb8"/>
<rect x="467.51" y="196.30" width="3.97" height="8.58" fill="#fbf5f9"/>
<rect x="471.18" y="196.30" width="3.97" height="8.58" fill="#8c88d2"/>
<rect x="474.85" y="196.30" width="3.97" height="8.58" fill="#504ab4"/>
<rect x="478.53" y="196.30" width="3.97" height="8.58" fill="#8682cc"/>
<rect x="246.40" y="204.58" width="3.86" height="8.58" fill="#f2181e"/>
<rect x="249.96" y="204.58" width="3.86" height="8.58" fill="#fba2a8"/>
<rect x="253.52" y="204.58" width="3.86" height="8.58" fill="#f1171d"/>
<rect x="257.08" y="204.58" width="3.86" height="8.58" fill="#f2181e"/>
<rect x="260.64" y="204.58" width="3.86" height="8.58" fill="#f3191f"/>
<rect x="264.20" y="204.58" width="3.94" height="8.58" fill="#fbf5f9"/>
<rect x="267.84" y="204.58" width="3.94" height="8.58" fill="#bebae6"/>
<rect x="271.48" y="204.58" width="3.94" height="8.58" fill="#8985cf"/>
<rect x="275.12" y="204.58" width="3.94" height="8.58" fill="#8a86d0"/>
<rect x="278.76" y="204.58" width="3.94" height="8.58" fill="#bfbbe7"/>
<rect x="282.40" y="204.58" width="3.94" height="8.58" fill="#524cb6"/>
<rect x="286.04" y="204.58" width="3.94" height="8.58" fill="#f7f1f5"/>
<rect x="289.68" y="204.58" width="3.94" height="8.58" fill="#fcd1d6"/>
<rect x="293.32" y="204.58" width="3.94" height="8.58" fill="#fef8fc"/>
<rect x="296.96" y="204.58" width="3.94" height="8.58" fill="#bebae6"/>
<rect x="300.60" y="204.58" width="4.07" height="8.58" fill="#f1171d"/>
<rect x="304.37" y="204.58" width="4.07" height="8.58" fill="#f3191f"/>
<rect x="308.13" y="204.58" width="4.07" height="8.58" fill="#ee141a"/>
<rect x="311.90" y="204.58" width="3.89" height="8.58" fill="#ffd4d9"/>
<rect x="315.49" y="204.58" width="3.89" height="8.58" fill="#fcf6fa"/>
<rect x="319.08" y="204.58" width="3.89" height="8.58" fill="#fdf7fb"/>
<rect x="322.67" y="204.58" width="3.89" height="8.58" fill="#4f49b3"/>
<rect x="326.26" y="204.58" width="3.89" height="8.58" fill="#c2beea"/>
<rect x="329.85" y="204.58" width="3.89" height="8.58" fill="#544eb8"/>
<rect x="333.45" y="204.58" width="3.89" height="8.58" fill="#514bb5"/>
<rect x="337.04" y="204.58" width="3.89" height="8.58" fill="#f7f1f5"/>
<rect x="340.63" y="204.58" width="3.89" height="8.58" fill="#f6f0f4"/>
<rect x="344.22" y="204.58" width="3.89" height="8.58" fill="#c3bfeb"/>
<rect x="347.81" y="204.58" width="3.89" height="8.58" fill="#f9f3f7"/>
<rect x="351.40" y="204.58" width="3.89" height="8.58" fill="#2c269c"/>
<rect x="354.99" y="204.58" width="3.89" height="8.58" fill="#322ca2"/>
<rect x="358.58" y="204.58" width="3.89" height="8.58" fill="#4e48b2"/>
<rect x="362.16" y="204.58" width="3.89" height="8.58" fill="#f7f1f5"/>
<rect x="365.75" y="204.58" width="3.89" height="8.58" fill="#4d47b1"/>
<rect x="369.34" y="204.58" width="3.89" height="8.58" fill="#544eb8"/>
<rect x="372.93" y="204.58" width="3.89" height="8.58" fill="#544eb8"/>
<rect x="376.52" y="204.58" width="3.89" height="8.58" fill="#4d47b1"/>
<rect x="380.11" y="204.58" width="3.89" height="8.58" fill="#8c88d2"/>
<rect x="383.69" y="204.58" width="3.89" height="8.58" fill="#fef8fc"/>
<rect x="387.28" y="204.58" width="3.89" height="8.58" fill="#f41a20"/>
<rect x="390.87" y="204.58" width="3.89" height="8.58" fill="#fbf5f9"/>
<rect x="394.46" y="204.58" width="3.89" height="8.58" fill="#524cb6"/>
<rect x="398.05" y="204.58" width="3.89" height="8.58" fill="#8a86d0"/>
<rect x="401.64" y="204.58" width="3.89" height="8.58" fill="#4d47b1"/>
<rect x="405.22" y="204.58" width="3.89" height="8.58" fill="#534db7"/>
<rect x="408.81" y="204.58" width="3.89" height="8.58" fill="#faf4f8"/>
<rect x="412.40" y="204.58" width="3.97" height="8.58" fill="#f1171d"/>
<rect x="416.07" y="204.58" width="3.97" height="8.58" fill="#facfd4"/>
<rect x="419.75" y="204.58" width="3.97" height="8.58" fill="#faf4f8"/>
<rect x="423.42" y="204.58" width="3.97" height="8.58" fill="#4d47b1"/>
<rect x="427.09" y="204.58" width="3.97" height="8.58" fill="#2d279d"/>
<rect x="430.77" y="204.58" width="3.97" height="8.58" fill="#2b259b"/>
<rect x="434.44" y="204.58" width="3.97" height="8.58" fill="#8d89d3"/>
<rect x="438.12" y="204.58" width="3.97" height="8.58" fill="#c1bde9"/>
<rect x="441.79" y="204.58" width="3.97" height="8.58" fill="#524cb6"/>
<rect x="445.46" y="204.58" width="3.97" height="8.58" fill="#8884ce"/>
<rect x="449.14" y="204.58" width="3.97" height="8.58" fill="#faf4f8"/>
<rect x="452.81" y="204.58" width="3.97" height="8.58" fill="#514bb5"/>
<rect x="456.48" y="204.58" width="3.97" height="8.58" fill="#8884ce"/>
<rect x="460.16" y="204.58" width="3.97" height="8.58" fill="#c0bce8"/>
<rect x="463.83" y="204.58" width="3.97" height="8.58" fill="#322ca2"/>
<rect x="467.51" y="204.58" width="3.97" height="8.58" fill="#8985cf"/>
<rect x="471.18" y="204.58" width="3.97" height="8.58" fill="#8985cf"/>
<rect x="474.85" y="204.58" width="3.97" height="8.58" fill="#2d279d"/>
<rect x="478.53" y="204.58" width="3.97" height="8.58" fill="#504ab4"/>
<rect x="246.40" y="212.87" width="3.86" height="8.58" fill="#f1171d"/>
<rect x="249.96" y="212.87" width="3.86" height="8.58" fill="#f1171d"/>
<rect x="253.52" y="212.87" width="3.86" height="8.58" fill="#ed1319"/>
<rect x="257.08" y="212.87" width="3.86" height="8.58" fill="#ed1319"/>
<rect x="260.64" y="212.87" width="3.86" height="8.58" fill="#ee141a"/>
<rect x="264.20" y="212.87" width="3.94" height="8.58" fill="#f7f1f5"/>
<rect x="267.84" y="212.87" width="3.94" height="8.58" fill="#bfbbe7"/>
<rect x="271.48" y="212.87" width="3.94" height="8.58" fill="#534db7"/>
<rect x="275.12" y="212.87" width="3.94" height="8.58" fill="#514bb5"/>
<rect x="278.76" y="212.87" width="3.94" height="8.58" fill="#bdb9e5"/>
<rect x="282.40" y="212.87" width="3.94" height="8.58" fill="#514bb5"/>
<rect x="286.04" y="212.87" width="3.94" height="8.58" fill="#bebae6"/>
<rect x="289.68" y="212.87" width="3.94" height="8.58" fill="#f9ced3"/>
<rect x="293.32" y="212.87" width="3.94" height="8.58" fill="#bcb8e4"/>
<rect x="296.96" y="212.87" width="3.94" height="8.58" fill="#534db7"/>
<rect x="300.60" y="212.87" width="4.07" height="8.58" fill="#f0161c"/>
<rect x="304.37" y="212.87" width="4.07" height="8.58" fill="#f41a20"/>
<rect x="308.13" y="212.87" width="4.07" height="8.58" fill="#ee141a"/>
<rect x="311.90" y="212.87" width="3.89" height="8.58" fill="#fbf5f9"/>
<rect x="315.49" y="212.87" width="3.89" height="8.58" fill="#fdf7fb"/>
<rect x="319.08" y="212.87" width="3.89" height="8.58" fill="#fcf6fa"/>
<rect x="322.67" y="212.87" width="3.89" height="8.58" fill="#544eb8"/>
<rect x="326.26" y="212.87" width="3.89" height="8.58" fill="#c2beea"/>
<rect x="329.85" y="212.87" width="3.89" height="8.58" fill="#524cb6"/>
<rect x="333.45" y="212.87" width="3.89" height="8.58" fill="#504ab4"/>
<rect x="337.04" y="212.87" width="3.89" height="8.58" fill="#c0bce8"/>
<rect x="340.63" y="212.87" width="3.89" height="8.58" fill="#fef8fc"/>
<rect x="344.22" y="212.87" width="3.89" height="8.58" fill="#504ab4"/>
<rect x="347.81" y="212.87" width="3.89" height="8.58" fill="#c2beea"/>
<rect x="351.40" y="212.87" width="3.89" height="8.58" fill="#f1565c"/>
<rect x="354.99" y="212.87" width="3.89" height="8.58" fill="#2a249a"/>
<rect x="358.58" y="212.87" width="3.89" height="8.58" fill="#4c46b0"/>
<rect x="362.16" y="212.87" width="3.89" height="8.58" fill="#8884ce"/>
<rect x="365.75" y="212.87" width="3.89" height="8.58" fill="#524cb6"/>
<rect x="369.34" y="212.87" width="3.89" height="8.58" fill="#4c46b0"/>
<rect x="372.93" y="212.87" width="3.89" height="8.58" fill="#4f49b3"/>
<rect x="376.52" y="212.87" width="3.89" height="8.58" fill="#4e48b2"/>
<rect x="380.11" y="212.87" width="3.89" height="8.58" fill="#544eb8"/>
<rect x="383.69" y="212.87" width="3.89" height="8.58" fill="#bfbbe7"/>
<rect x="387.28" y="212.87" width="3.89" height="8.58" fill="#f1171d"/>
<rect x="390.87" y="212.87" width="3.89" height="8.58" fill="#faf4f8"/>
<rect x="394.46" y="212.87" width="3.89" height="8.58" fill="#4c46b0"/>
<rect x="398.05" y="212.87" width="3.89" height="8.58" fill="#544eb8"/>
<rect x="401.64" y="212.87" width="3.89" height="8.58" fill="#514bb5"/>
<rect x="405.22" y="212.87" width="3.89" height="8.58" fill="#4f49b3"/>
<rect x="408.81" y="212.87" width="3.89" height="8.58" fill="#bdb9e5"/>
<rect x="412.40" y="212.87" width="3.97" height="8.58" fill="#ee141a"/>
<rect x="416.07" y="212.87" width="3.97" height="8.58" fill="#facfd4"/>
<rect x="419.75" y="212.87" width="3.97" height="8.58" fill="#f7f1f5"/>
<rect x="423.42" y="212.87" width="3.97" height="8.58" fill="#534db7"/>
<rect x="427.09" y="212.87" width="3.97" height="8.58" fill="#302aa0"/>
<rect x="430.77" y="212.87" width="3.97" height="8.58" fill="#2e289e"/>
<rect x="434.44" y="212.87" width="3.97" height="8.58" fill="#4e48b2"/>
<rect x="438.12" y="212.87" width="3.97" height="8.58" fill="#bdb9e5"/>
<rect x="441.79" y="212.87" width="3.97" height="8.58" fill="#544eb8"/>
<rect x="445.46" y="212.87" width="3.97" height="8.58" fill="#8b87d1"/>
<rect x="449.14" y="212.87" width="3.97" height="8.58" fill="#f8f2f6"/>
<rect x="452.81" y="212.87" width="3.97" height="8.58" fill="#504ab4"/>
<rect x="456.48" y="212.87" width="3.97" height="8.58" fill="#8884ce"/>
<rect x="460.16" y="212.87" width="3.97" height="8.58" fill="#8783cd"/>
<rect x="463.83" y="212.87" width="3.97" height="8.58" fill="#2b259b"/>
<rect x="467.51" y="212.87" width="3.97" height="8.58" fill="#bebae6"/>
<rect x="471.18" y="212.87" width="3.97" height="8.58" fill="#8783cd"/>
<rect x="474.85" y="212.87" width="3.97" height="8.58" fill="#2a249a"/>
<rect x="478.53" y="212.87" width="3.97" height="8.58" fill="#8783cd"/>
<rect x="246.40" y="221.15" width="3.86" height="8.58" fill="#f41a20"/>
<rect x="249.96" y="221.15" width="3.86" height="8.58" fill="#f2181e"/>
<rect x="253.52" y="221.15" width="3.86" height="8.58" fill="#f3191f"/>
<rect x="257.08" y="221.15" width="3.86" height="8.58" fill="#f41a20"/>
<rect x="260.64" y="221.15" width="3.86" height="8.58" fill="#f3191f"/>
<rect x="264.20" y="221.15" width="3.94" height="8.58" fill="#faf4f8"/>
<rect x="267.84" y="221.15" width="3.94" height="8.58" fill="#8884ce"/>
<rect x="271.48" y="221.15" width="3.94" height="8.58" fill="#2a249a"/>
<rect x="275.12" y="221.15" width="3.94" height="8.58" fill="#2b259b"/>
<rect x="278.76" y="221.15" width="3.94" height="8.58" fill="#c0bce8"/>
<rect x="282.40" y="221.15" width="3.94" height="8.58" fill="#302aa0"/>
<rect x="286.04" y="221.15" width="3.94" height="8.58" fill="#2c269c"/>
<rect x="289.68" y="221.15" width="3.94" height="8.58" fill="#bcb8e4"/>
<rect x="293.32" y="221.15" width="3.94" height="8.58" fill="#2a249a"/>
<rect x="296.96" y="221.15" width="3.94" height="8.58" fill="#2f299f"/>
<rect x="300.60" y="221.15" width="4.07" height="8.58" fill="#f41a20"/>
<rect x="304.37" y="221.15" width="4.07" height="8.58" fill="#f1171d"/>
<rect x="308.13" y="221.15" width="4.07" height="8.58" fill="#f1171d"/>
<rect x="311.90" y="221.15" width="3.89" height="8.58" fill="#f7f1f5"/>
<rect x="315.49" y="221.15" width="3.89" height="8.58" fill="#bcb8e4"/>
<rect x="319.08" y="221.15" width="3.89" height="8.58" fill="#f9f3f7"/>
<rect x="322.67" y="221.15" width="3.89" height="8.58" fill="#302aa0"/>
<rect x="326.26" y="221.15" width="3.89" height="8.58" fill="#bcb8e4"/>
<rect x="329.85" y="221.15" width="3.89" height="8.58" fill="#322ca2"/>
<rect x="333.45" y="221.15" width="3.89" height="8.58" fill="#312ba1"/>
<rect x="337.04" y="221.15" width="3.89" height="8.58" fill="#514bb5"/>
<rect x="340.63" y="221.15" width="3.89" height="8.58" fill="#f9f3f7"/>
<rect x="344.22" y="221.15" width="3.89" height="8.58" fill="#312ba1"/>
<rect x="347.81" y="221.15" width="3.89" height="8.58" fill="#c3bfeb"/>
<rect x="351.40" y="221.15" width="3.89" height="8.58" fill="#2d279d"/>
<rect x="354.99" y="221.15" width="3.89" height="8.58" fill="#2a249a"/>
<rect x="358.58" y="221.15" width="3.89" height="8.58" fill="#2f299f"/>
<rect x="362.16" y="221.15" width="3.89" height="8.58" fill="#4f49b3"/>
<rect x="365.75" y="221.15" width="3.89" height="8.58" fill="#2d279d"/>
<rect x="369.34" y="221.15" width="3.89" height="8.58" fill="#2c269c"/>
<rect x="372.93" y="221.15" width="3.89" height="8.58" fill="#302aa0"/>
<rect x="376.52" y="221.15" width="3.89" height="8.58" fill="#302aa0"/>
<rect x="380.11" y="221.15" width="3.89" height="8.58" fill="#2b259b"/>
<rect x="383.69" y="221.15" width="3.89" height="8.58" fill="#c2beea"/>
<rect x="387.28" y="221.15" width="3.89" height="8.58" fill="#f4595f"/>
<rect x="390.87" y="221.15" width="3.89" height="8.58" fill="#f7f1f5"/>
<rect x="394.46" y="221.15" width="3.89" height="8.58" fill="#322ca2"/>
<rect x="398.05" y="221.15" width="3.89" height="8.58" fill="#2d279d"/>
<rect x="401.64" y="221.15" width="3.89" height="8.58" fill="#2e289e"/>
<rect x="405.22" y="221.15" width="3.89" height="8.58" fill="#2b259b"/>
<rect x="408.81" y="221.15" width="3.89" height="8.58" fill="#bcb8e4"/>
<rect x="412.40" y="221.15" width="3.97" height="8.58" fill="#f2181e"/>
<rect x="416.07" y="221.15" width="3.97" height="8.58" fill="#f7ccd1"/>
<rect x="419.75" y="221.15" width="3.97" height="8.58" fill="#fbf5f9"/>
<rect x="423.42" y="221.15" width="3.97" height="8.58" fill="#4f49b3"/>
<rect x="427.09" y="221.15" width="3.97" height="8.58" fill="#2d279d"/>
<rect x="430.77" y="221.15" width="3.97" height="8.58" fill="#312ba1"/>
<rect x="434.44" y="221.15" width="3.97" height="8.58" fill="#322ca2"/>
<rect x="438.12" y="221.15" width="3.97" height="8.58" fill="#c0bce8"/>
<rect x="441.79" y="221.15" width="3.97" height="8.58" fill="#302aa0"/>
<rect x="445.46" y="221.15" width="3.97" height="8.58" fill="#2d279d"/>
<rect x="449.14" y="221.15" width="3.97" height="8.58" fill="#fef8fc"/>
<rect x="452.81" y="221.15" width="3.97" height="8.58" fill="#302aa0"/>
<rect x="456.48" y="221.15" width="3.97" height="8.58" fill="#2e289e"/>
<rect x="460.16" y="221.15" width="3.97" height="8.58" fill="#4d47b1"/>
<rect x="463.83" y="221.15" width="3.97" height="8.58" fill="#2c269c"/>
<rect x="467.51" y="221.15" width="3.97" height="8.58" fill="#534db7"/>
<rect x="471.18" y="221.15" width="3.97" height="8.58" fill="#322ca2"/>
<rect x="474.85" y="221.15" width="3.97" height="8.58" fill="#322ca2"/>
<rect x="478.53" y="221.15" width="3.97" height="8.58" fill="#4d47b1"/>
<rect x="246.40" y="229.43" width="3.86" height="8.58" fill="#f0161c"/>
<rect x="249.96" y="229.43" width="3.86" height="8.58" fill="#ee141a"/>
<rect x="253.52" y="229.43" width="3.86" height="8.58" fill="#f3191f"/>
<rect x="257.08" y="229.43" width="3.86" height="8.58" fill="#f41a20"/>
<rect x="260.64" y="229.43" width="3.86" height="8.58" fill="#ee141a"/>
<rect x="264.20" y="229.43" width="3.94" height="8.58" fill="#faf4f8"/>
<rect x="267.84" y="229.43" width="3.94" height="8.58" fill="#544eb8"/>
<rect x="271.48" y="229.43" width="3.94" height="8.58" fill="#2c269c"/>
<rect x="275.12" y="229.43" width="3.94" height="8.58" fill="#2d279d"/>
<rect x="278.76" y="229.43" width="3.94" height="8.58" fill="#c1bde9"/>
<rect x="282.40" y="229.43" width="3.94" height="8.58" fill="#322ca2"/>
<rect x="286.04" y="229.43" width="3.94" height="8.58" fill="#faf4f8"/>
<rect x="289.68" y="229.43" width="3.94" height="8.58" fill="#f8cdd2"/>
<rect x="293.32" y="229.43" width="3.94" height="8.58" fill="#2b259b"/>
<rect x="296.96" y="229.43" width="3.94" height="8.58" fill="#312ba1"/>
<rect x="300.60" y="229.43" width="4.07" height="8.58" fill="#ed1319"/>
<rect x="304.37" y="229.43" width="4.07" height="8.58" fill="#f3191f"/>
<rect x="308.13" y="229.43" width="4.07" height="8.58" fill="#ef151b"/>
<rect x="311.90" y="229.43" width="3.89" height="8.58" fill="#fcf6fa"/>
<rect x="315.49" y="229.43" width="3.89" height="8.58" fill="#bcb8e4"/>
<rect x="319.08" y="229.43" width="3.89" height="8.58" fill="#f6f0f4"/>
<rect x="322.67" y="229.43" width="3.89" height="8.58" fill="#2a249a"/>
<rect x="326.26" y="229.43" width="3.89" height="8.58" fill="#c3bfeb"/>
<rect x="329.85" y="229.43" width="3.89" height="8.58" fill="#2a249a"/>
<rect x="333.45" y="229.43" width="3.89" height="8.58" fill="#2a249a"/>
<rect x="337.04" y="229.43" width="3.89" height="8.58" fill="#322ca2"/>
<rect x="340.63" y="229.43" width="3.89" height="8.58" fill="#fdf7fb"/>
<rect x="344.22" y="229.43" width="3.89" height="8.58" fill="#2a249a"/>
<rect x="347.81" y="229.43" width="3.89" height="8.58" fill="#bcb8e4"/>
<rect x="351.40" y="229.43" width="3.89" height="8.58" fill="#2f299f"/>
<rect x="354.99" y="229.43" width="3.89" height="8.58" fill="#2e289e"/>
<rect x="358.58" y="229.43" width="3.89" height="8.58" fill="#2e289e"/>
<rect x="362.16" y="229.43" width="3.89" height="8.58" fill="#312ba1"/>
<rect x="365.75" y="229.43" width="3.89" height="8.58" fill="#312ba1"/>
<rect x="369.34" y="229.43" width="3.89" height="8.58" fill="#2e289e"/>
<rect x="372.93" y="229.43" width="3.89" height="8.58" fill="#2e289e"/>
<rect x="376.52" y="229.43" width="3.89" height="8.58" fill="#2c269c"/>
<rect x="380.11" y="229.43" width="3.89" height="8.58" fill="#2e289e"/>
<rect x="383.69" y="229.43" width="3.89" height="8.58" fill="#bdb9e5"/>
<rect x="387.28" y="229.43" width="3.89" height="8.58" fill="#f2181e"/>
<rect x="390.87" y="229.43" width="3.89" height="8.58" fill="#bcb8e4"/>
<rect x="394.46" y="229.43" width="3.89" height="8.58" fill="#2b259b"/>
<rect x="398.05" y="229.43" width="3.89" height="8.58" fill="#2d279d"/>
<rect x="401.64" y="229.43" width="3.89" height="8.58" fill="#2d279d"/>
<rect x="405.22" y="229.43" width="3.89" height="8.58" fill="#2b259b"/>
<rect x="408.81" y="229.43" width="3.89" height="8.58" fill="#bebae6"/>
<rect x="412.40" y="229.43" width="3.97" height="8.58" fill="#f2181e"/>
<rect x="416.07" y="229.43" width="3.97" height="8.58" fill="#ffd4d9"/>
<rect x="419.75" y="229.43" width="3.97" height="8.58" fill="#fef8fc"/>
<rect x="423.42" y="229.43" width="3.97" height="8.58" fill="#4e48b2"/>
<rect x="427.09" y="229.43" width="3.97" height="8.58" fill="#2c269c"/>
<rect x="430.77" y="229.43" width="3.97" height="8.58" fill="#2b259b"/>
<rect x="434.44" y="229.43" width="3.97" height="8.58" fill="#2e289e"/>
<rect x="438.12" y="229.43" width="3.97" height="8.58" fill="#c4c0ec"/>
<rect x="441.79" y="229.43" width="3.97" height="8.58" fill="#322ca2"/>
<rect x="445.46" y="229.43" width="3.97" height="8.58" fill="#2a249a"/>
<rect x="449.14" y="229.43" width="3.97" height="8.58" fill="#fdf7fb"/>
<rect x="452.81" y="229.43" width="3.97" height="8.58" fill="#2b259b"/>
<rect x="456.48" y="229.43" width="3.97" height="8.58" fill="#2f299f"/>
<rect x="460.16" y="229.43" width="3.97" height="8.58" fill="#312ba1"/>
<rect x="463.83" y="229.43" width="3.97" height="8.58" fill="#2b259b"/>
<rect x="467.51" y="229.43" width="3.97" height="8.58" fill="#524cb6"/>
<rect x="471.18" y="229.43" width="3.97" height="8.58" fill="#2f299f"/>
<rect x="474.85" y="229.43" width="3.97" height="8.58" fill="#322ca2"/>
<rect x="478.53" y="229.43" width="3.97" height="8.58" fill="#524cb6"/>
<rect x="246.40" y="237.72" width="3.86" height="8.58" fill="#f2181e"/>
<rect x="249.96" y="237.72" width="3.86" height="8.58" fill="#f3191f"/>
<rect x="253.52" y="237.72" width="3.86" height="8.58" fill="#f1171d"/>
<rect x="257.08" y="237.72" width="3.86" height="8.58" fill="#ec1218"/>
<rect x="260.64" y="237.72" width="3.86" height="8.58" fill="#f1171d"/>
<rect x="264.20" y="237.72" width="3.94" height="8.58" fill="#faf4f8"/>
<rect x="267.84" y="237.72" width="3.94" height="8.58" fill="#534db7"/>
<rect x="271.48" y="237.72" width="3.94" height="8.58" fill="#2e289e"/>
<rect x="275.12" y="237.72" width="3.94" height="8.58" fill="#312ba1"/>
<rect x="278.76" y="237.72" width="3.94" height="8.58" fill="#c0bce8"/>
<rect x="282.40" y="237.72" width="3.94" height="8.58" fill="#2d279d"/>
<rect x="286.04" y="237.72" width="3.94" height="8.58" fill="#c1bde9"/>
<rect x="289.68" y="237.72" width="3.94" height="8.58" fill="#f8cdd2"/>
<rect x="293.32" y="237.72" width="3.94" height="8.58" fill="#2e289e"/>
<rect x="296.96" y="237.72" width="3.94" height="8.58" fill="#312ba1"/>
<rect x="300.60" y="237.72" width="4.07" height="8.58" fill="#f2181e"/>
<rect x="304.37" y="237.72" width="4.07" height="8.58" fill="#f3191f"/>
<rect x="308.13" y="237.72" width="4.07" height="8.58" fill="#ef151b"/>
<rect x="311.90" y="237.72" width="3.89" height="8.58" fill="#fbf5f9"/>
<rect x="315.49" y="237.72" width="3.89" height="8.58" fill="#bcb8e4"/>
<rect x="319.08" y="237.72" width="3.89" height="8.58" fill="#f9f3f7"/>
<rect x="322.67" y="237.72" width="3.89" height="8.58" fill="#2a249a"/>
<rect x="326.26" y="237.72" width="3.89" height="8.58" fill="#302aa0"/>
<rect x="329.85" y="237.72" width="3.89" height="8.58" fill="#2d279d"/>
<rect x="333.45" y="237.72" width="3.89" height="8.58" fill="#302aa0"/>
<rect x="337.04" y="237.72" width="3.89" height="8.58" fill="#2c269c"/>
<rect x="340.63" y="237.72" width="3.89" height="8.58" fill="#fbf5f9"/>
<rect x="344.22" y="237.72" width="3.89" height="8.58" fill="#2b259b"/>
<rect x="347.81" y="237.72" width="3.89" height="8.58" fill="#bebae6"/>
<rect x="351.40" y="237.72" width="3.89" height="8.58" fill="#322ca2"/>
<rect x="354.99" y="237.72" width="3.89" height="8.58" fill="#312ba1"/>
<rect x="358.58" y="237.72" width="3.89" height="8.58" fill="#2e289e"/>
<rect x="362.16" y="237.72" width="3.89" height="8.58" fill="#302aa0"/>
<rect x="365.75" y="237.72" width="3.89" height="8.58" fill="#302aa0"/>
<rect x="369.34" y="237.72" width="3.89" height="8.58" fill="#2f299f"/>
<rect x="372.93" y="237.72" width="3.89" height="8.58" fill="#302aa0"/>
<rect x="376.52" y="237.72" width="3.89" height="8.58" fill="#302aa0"/>
<rect x="380.11" y="237.72" width="3.89" height="8.58" fill="#2a249a"/>
<rect x="383.69" y="237.72" width="3.89" height="8.58" fill="#c1bde9"/>
<rect x="387.28" y="237.72" width="3.89" height="8.58" fill="#f55a60"/>
<rect x="390.87" y="237.72" width="3.89" height="8.58" fill="#c1bde9"/>
<rect x="394.46" y="237.72" width="3.89" height="8.58" fill="#302aa0"/>
<rect x="398.05" y="237.72" width="3.89" height="8.58" fill="#2e289e"/>
<rect x="401.64" y="237.72" width="3.89" height="8.58" fill="#322ca2"/>
<rect x="405.22" y="237.72" width="3.89" height="8.58" fill="#2d279d"/>
<rect x="408.81" y="237.72" width="3.89" height="8.58" fill="#4e48b2"/>
<rect x="412.40" y="237.72" width="3.97" height="8.58" fill="#ef151b"/>
<rect x="416.07" y="237.72" width="3.97" height="8.58" fill="#facfd4"/>
<rect x="419.75" y="237.72" width="3.97" height="8.58" fill="#f6f0f4"/>
<rect x="423.42" y="237.72" width="3.97" height="8.58" fill="#524cb6"/>
<rect x="427.09" y="237.72" width="3.97" height="8.58" fill="#2b259b"/>
<rect x="430.77" y="237.72" width="3.97" height="8.58" fill="#302aa0"/>
<rect x="434.44" y="237.72" width="3.97" height="8.58" fill="#312ba1"/>
<rect x="438.12" y="237.72" width="3.97" height="8.58" fill="#8d89d3"/>
<rect x="441.79" y="237.72" width="3.97" height="8.58" fill="#302aa0"/>
<rect x="445.46" y="237.72" width="3.97" height="8.58" fill="#322ca2"/>
<rect x="449.14" y="237.72" width="3.97" height="8.58" fill="#c4c0ec"/>
<rect x="452.81" y="237.72" width="3.97" height="8.58" fill="#322ca2"/>
<rect x="456.48" y="237.72" width="3.97" height="8.58" fill="#302aa0"/>
<rect x="460.16" y="237.72" width="3.97" height="8.58" fill="#2d279d"/>
<rect x="463.83" y="237.72" width="3.97" height="8.58" fill="#312ba1"/>
<rect x="467.51" y="237.72" width="3.97" height="8.58" fill="#524cb6"/>
<rect x="471.18" y="237.72" width="3.97" height="8.58" fill="#2a249a"/>
<rect x="474.85" y="237.72" width="3.97" height="8.58" fill="#322ca2"/>
<rect x="478.53" y="237.72" width="3.97" height="8.58" fill="#4e48b2"/>
<rect x="246.40" y="251.20" width="3.86" height="8.46" fill="#f6f0f4"/>
<rect x="249.96" y="251.20" width="3.86" height="8.46" fill="#f9f3f7"/>
<rect x="253.52" y="251.20" width="3.86" height="8.46" fill="#f8cdd2"/>
<rect x="257.08" y="251.20" width="3.86" height="8.46" fill="#f9ced3"/>
<rect x="260.64" y="251.20" width="3.86" height="8.46" fill="#f9a0a6"/>
<rect x="264.20" y="251.20" width="3.94" height="8.46" fill="#ffd4d9"/>
<rect x="267.84" y="251.20" width="3.94" height="8.46" fill="#f49ba1"/>
<rect x="271.48" y="251.20" width="3.94" height="8.46" fill="#f49ba1"/>
<rect x="275.12" y="251.20" width="3.94" height="8.46" fill="#f49ba1"/>
<rect x="278.76" y="251.20" width="3.94" height="8.46" fill="#f47c82"/>
<rect x="282.40" y="251.20" width="3.94" height="8.46" fill="#f79ea4"/>
<rect x="286.04" y="251.20" width="3.94" height="8.46" fill="#f98187"/>
<rect x="289.68" y="251.20" width="3.94" height="8.46" fill="#f37b81"/>
<rect x="293.32" y="251.20" width="3.94" height="8.46" fill="#f55a60"/>
<rect x="296.96" y="251.20" width="3.94" height="8.46" fill="#f55a60"/>
<rect x="300.60" y="251.20" width="4.07" height="8.46" fill="#f1565c"/>
<rect x="304.37" y="251.20" width="4.07" height="8.46" fill="#f37b81"/>
<rect x="308.13" y="251.20" width="4.07" height="8.46" fill="#f69da3"/>
<rect x="311.90" y="251.20" width="3.89" height="8.46" fill="#f9a0a6"/>
<rect x="315.49" y="251.20" width="3.89" height="8.46" fill="#faa1a7"/>
<rect x="319.08" y="251.20" width="3.89" height="8.46" fill="#fcd1d6"/>
<rect x="322.67" y="251.20" width="3.89" height="8.46" fill="#faa1a7"/>
<rect x="326.26" y="251.20" width="3.89" height="8.46" fill="#fba2a8"/>
<rect x="329.85" y="251.20" width="3.89" height="8.46" fill="#f39aa0"/>
<rect x="333.45" y="251.20" width="3.89" height="8.46" fill="#f57d83"/>
<rect x="337.04" y="251.20" width="3.89" height="8.46" fill="#fba2a8"/>
<rect x="340.63" y="251.20" width="3.89" height="8.46" fill="#f1797f"/>
<rect x="344.22" y="251.20" width="3.89" height="8.46" fill="#f89fa5"/>
<rect x="347.81" y="251.20" width="3.89" height="8.46" fill="#f67e84"/>
<rect x="351.40" y="251.20" width="3.89" height="8.46" fill="#fba2a8"/>
<rect x="354.99" y="251.20" width="3.89" height="8.46" fill="#f77f85"/>
<rect x="358.58" y="251.20" width="3.89" height="8.46" fill="#f69da3"/>
<rect x="362.16" y="251.20" width="3.89" height="8.46" fill="#f49ba1"/>
<rect x="365.75" y="251.20" width="3.89" height="8.46" fill="#fbd0d5"/>
<rect x="369.34" y="251.20" width="3.89" height="8.46" fill="#f69da3"/>
<rect x="372.93" y="251.20" width="3.89" height="8.46" fill="#f49ba1"/>
<rect x="376.52" y="251.20" width="3.89" height="8.46" fill="#f47c82"/>
<rect x="380.11" y="251.20" width="3.89" height="8.46" fill="#f9a0a6"/>
<rect x="383.69" y="251.20" width="3.89" height="8.46" fill="#f69da3"/>
<rect x="387.28" y="251.20" width="3.89" height="8.46" fill="#f47c82"/>
<rect x="390.87" y="251.20" width="3.89" height="8.46" fill="#f1171d"/>
<rect x="394.46" y="251.20" width="3.89" height="8.46" fill="#f2575d"/>
<rect x="398.05" y="251.20" width="3.89" height="8.46" fill="#f27a80"/>
<rect x="401.64" y="251.20" width="3.89" height="8.46" fill="#f89fa5"/>
<rect x="405.22" y="251.20" width="3.89" height="8.46" fill="#fba2a8"/>
<rect x="408.81" y="251.20" width="3.89" height="8.46" fill="#f57d83"/>
<rect x="412.40" y="251.20" width="3.97" height="8.46" fill="#facfd4"/>
<rect x="416.07" y="251.20" width="3.97" height="8.46" fill="#fef8fc"/>
<rect x="419.75" y="251.20" width="3.97" height="8.46" fill="#f69da3"/>
<rect x="423.42" y="251.20" width="3.97" height="8.46" fill="#fba2a8"/>
<rect x="427.09" y="251.20" width="3.97" height="8.46" fill="#f9a0a6"/>
<rect x="430.77" y="251.20" width="3.97" height="8.46" fill="#f1797f"/>
<rect x="434.44" y="251.20" width="3.97" height="8.46" fill="#fba2a8"/>
<rect x="438.12" y="251.20" width="3.97" height="8.46" fill="#f79ea4"/>
<rect x="441.79" y="251.20" width="3.97" height="8.46" fill="#f47c82"/>
<rect x="445.46" y="251.20" width="3.97" height="8.46" fill="#f59ca2"/>
<rect x="449.14" y="251.20" width="3.97" height="8.46" fill="#f57d83"/>
<rect x="452.81" y="251.20" width="3.97" height="8.46" fill="#f27a80"/>
<rect x="456.48" y="251.20" width="3.97" height="8.46" fill="#f3585e"/>
<rect x="460.16" y="251.20" width="3.97" height="8.46" fill="#f67e84"/>
<rect x="463.83" y="251.20" width="3.97" height="8.46" fill="#f2575d"/>
<rect x="467.51" y="251.20" width="3.97" height="8.46" fill="#f57d83"/>
<rect x="471.18" y="251.20" width="3.97" height="8.46" fill="#f1565c"/>
<rect x="474.85" y="251.20" width="3.97" height="8.46" fill="#f4595f"/>
<rect x="478.53" y="251.20" width="3.97" height="8.46" fill="#f47c82"/>
<rect x="246.40" y="259.36" width="3.86" height="8.46" fill="#f9f3f7"/>
<rect x="249.96" y="259.36" width="3.86" height="8.46" fill="#fef8fc"/>
<rect x="253.52" y="259.36" width="3.86" height="8.46" fill="#f8cdd2"/>
<rect x="257.08" y="259.36" width="3.86" height="8.46" fill="#fed3d8"/>
<rect x="260.64" y="259.36" width="3.86" height="8.46" fill="#f9a0a6"/>
<rect x="264.20" y="259.36" width="3.94" height="8.46" fill="#fbd0d5"/>
<rect x="267.84" y="259.36" width="3.94" height="8.46" fill="#f39aa0"/>
<rect x="271.48" y="259.36" width="3.94" height="8.46" fill="#fba2a8"/>
<rect x="275.12" y="259.36" width="3.94" height="8.46" fill="#f9a0a6"/>
<rect x="278.76" y="259.36" width="3.94" height="8.46" fill="#f57d83"/>
<rect x="282.40" y="259.36" width="3.94" height="8.46" fill="#f79ea4"/>
<rect x="286.04" y="259.36" width="3.94" height="8.46" fill="#f98187"/>
<rect x="289.68" y="259.36" width="3.94" height="8.46" fill="#f47c82"/>
<rect x="293.32" y="259.36" width="3.94" height="8.46" fill="#f65b61"/>
<rect x="296.96" y="259.36" width="3.94" height="8.46" fill="#f2575d"/>
<rect x="300.60" y="259.36" width="4.07" height="8.46" fill="#f3585e"/>
<rect x="304.37" y="259.36" width="4.07" height="8.46" fill="#f67e84"/>
<rect x="308.13" y="259.36" width="4.07" height="8.46" fill="#f49ba1"/>
<rect x="311.90" y="259.36" width="3.89" height="8.46" fill="#f49ba1"/>
<rect x="315.49" y="259.36" width="3.89" height="8.46" fill="#f9a0a6"/>
<rect x="319.08" y="259.36" width="3.89" height="8.46" fill="#fdd2d7"/>
<rect x="322.67" y="259.36" width="3.89" height="8.46" fill="#f89fa5"/>
<rect x="326.26" y="259.36" width="3.89" height="8.46" fill="#f47c82"/>
<rect x="329.85" y="259.36" width="3.89" height="8.46" fill="#f79ea4"/>
<rect x="333.45" y="259.36" width="3.89" height="8.46" fill="#f27a80"/>
<rect x="337.04" y="259.36" width="3.89" height="8.46" fill="#f49ba1"/>
<rect x="340.63" y="259.36" width="3.89" height="8.46" fill="#f1797f"/>
<rect x="344.22" y="259.36" width="3.89" height="8.46" fill="#f59ca2"/>
<rect x="347.81" y="259.36" width="3.89" height="8.46" fill="#f67e84"/>
<rect x="351.40" y="259.36" width="3.89" height="8.46" fill="#f89fa5"/>
<rect x="354.99" y="259.36" width="3.89" height="8.46" fill="#f37b81"/>
<rect x="358.58" y="259.36" width="3.89" height="8.46" fill="#f69da3"/>
<rect x="362.16" y="259.36" width="3.89" height="8.46" fill="#f89fa5"/>
<rect x="365.75" y="259.36" width="3.89" height="8.46" fill="#f7ccd1"/>
<rect x="369.34" y="259.36" width="3.89" height="8.46" fill="#f49ba1"/>
<rect x="372.93" y="259.36" width="3.89" height="8.46" fill="#f89fa5"/>
<rect x="376.52" y="259.36" width="3.89" height="8.46" fill="#f98187"/>
<rect x="380.11" y="259.36" width="3.89" height="8.46" fill="#f49ba1"/>
<rect x="383.69" y="259.36" width="3.89" height="8.46" fill="#f9a0a6"/>
<rect x="387.28" y="259.36" width="3.89" height="8.46" fill="#f67e84"/>
<rect x="390.87" y="259.36" width="3.89" height="8.46" fill="#f41a20"/>
<rect x="394.46" y="259.36" width="3.89" height="8.46" fill="#f3585e"/>
<rect x="398.05" y="259.36" width="3.89" height="8.46" fill="#f1797f"/>
<rect x="401.64" y="259.36" width="3.89" height="8.46" fill="#faa1a7"/>
<rect x="405.22" y="259.36" width="3.89" height="8.46" fill="#faa1a7"/>
<rect x="408.81" y="259.36" width="3.89" height="8.46" fill="#f88086"/>
<rect x="412.40" y="259.36" width="3.97" height="8.46" fill="#f9ced3"/>
<rect x="416.07" y="259.36" width="3.97" height="8.46" fill="#fdf7fb"/>
<rect x="419.75" y="259.36" width="3.97" height="8.46" fill="#f39aa0"/>
<rect x="423.42" y="259.36" width="3.97" height="8.46" fill="#f49ba1"/>
<rect x="427.09" y="259.36" width="3.97" height="8.46" fill="#f59ca2"/>
<rect x="430.77" y="259.36" width="3.97" height="8.46" fill="#f67e84"/>
<rect x="434.44" y="259.36" width="3.97" height="8.46" fill="#faa1a7"/>
<rect x="438.12" y="259.36" width="3.97" height="8.46" fill="#f79ea4"/>
<rect x="441.79" y="259.36" width="3.97" height="8.46" fill="#f77f85"/>
<rect x="445.46" y="259.36" width="3.97" height="8.46" fill="#fba2a8"/>
<rect x="449.14" y="259.36" width="3.97" height="8.46" fill="#f47c82"/>
<rect x="452.81" y="259.36" width="3.97" height="8.46" fill="#f88086"/>
<rect x="456.48" y="259.36" width="3.97" height="8.46" fill="#f55a60"/>
<rect x="460.16" y="259.36" width="3.97" height="8.46" fill="#f88086"/>
<rect x="463.83" y="259.36" width="3.97" height="8.46" fill="#f67e84"/>
<rect x="467.51" y="259.36" width="3.97" height="8.46" fill="#f67e84"/>
<rect x="471.18" y="259.36" width="3.97" height="8.46" fill="#ef545a"/>
<rect x="474.85" y="259.36" width="3.97" height="8.46" fill="#f75c62"/>
<rect x="478.53" y="259.36" width="3.97" height="8.46" fill="#f67e84"/>
<rect x="246.40" y="267.52" width="3.86" height="8.46" fill="#fdf7fb"/>
<rect x="249.96" y="267.52" width="3.86" height="8.46" fill="#fdf7fb"/>
<rect x="253.52" y="267.52" width="3.86" height="8.46" fill="#ffd4d9"/>
<rect x="257.08" y="267.52" width="3.86" height="8.46" fill="#fed3d8"/>
<rect x="260.64" y="267.52" width="3.86" height="8.46" fill="#f39aa0"/>
<rect x="264.20" y="267.52" width="3.94" height="8.46" fill="#fed3d8"/>
<rect x="267.84" y="267.52" width="3.94" height="8.46" fill="#f49ba1"/>
<rect x="271.48" y="267.52" width="3.94" height="8.46" fill="#f79ea4"/>
<rect x="275.12" y="267.52" width="3.94" height="8.46" fill="#f59ca2"/>
<rect x="278.76" y="267.52" width="3.94" height="8.46" fill="#f47c82"/>
<rect x="282.40" y="267.52" width="3.94" height="8.46" fill="#fba2a8"/>
<rect x="286.04" y="267.52" width="3.94" height="8.46" fill="#f27a80"/>
<rect x="289.68" y="267.52" width="3.94" height="8.46" fill="#f37b81"/>
<rect x="293.32" y="267.52" width="3.94" height="8.46" fill="#f37b81"/>
<rect x="296.96" y="267.52" width="3.94" height="8.46" fill="#f3585e"/>
<rect x="300.60" y="267.52" width="4.07" height="8.46" fill="#f4595f"/>
<rect x="304.37" y="267.52" width="4.07" height="8.46" fill="#f27a80"/>
<rect x="308.13" y="267.52" width="4.07" height="8.46" fill="#f89fa5"/>
<rect x="311.90" y="267.52" width="3.89" height="8.46" fill="#fba2a8"/>
<rect x="315.49" y="267.52" width="3.89" height="8.46" fill="#f39aa0"/>
<rect x="319.08" y="267.52" width="3.89" height="8.46" fill="#facfd4"/>
<rect x="322.67" y="267.52" width="3.89" height="8.46" fill="#f89fa5"/>
<rect x="326.26" y="267.52" width="3.89" height="8.46" fill="#f1797f"/>
<rect x="329.85" y="267.52" width="3.89" height="8.46" fill="#f39aa0"/>
<rect x="333.45" y="267.52" width="3.89" height="8.46" fill="#f77f85"/>
<rect x="337.04" y="267.52" width="3.89" height="8.46" fill="#f59ca2"/>
<rect x="340.63" y="267.52" width="3.89" height="8.46" fill="#f27a80"/>
<rect x="344.22" y="267.52" width="3.89" height="8.46" fill="#fba2a8"/>
<rect x="347.81" y="267.52" width="3.89" height="8.46" fill="#f88086"/>
<rect x="351.40" y="267.52" width="3.89" height="8.46" fill="#f89fa5"/>
<rect x="354.99" y="267.52" width="3.89" height="8.46" fill="#f88086"/>
<rect x="358.58" y="267.52" width="3.89" height="8.46" fill="#f39aa0"/>
<rect x="362.16" y="267.52" width="3.89" height="8.46" fill="#faa1a7"/>
<rect x="365.75" y="267.52" width="3.89" height="8.46" fill="#fdd2d7"/>
<rect x="369.34" y="267.52" width="3.89" height="8.46" fill="#fba2a8"/>
<rect x="372.93" y="267.52" width="3.89" height="8.46" fill="#f49ba1"/>
<rect x="376.52" y="267.52" width="3.89" height="8.46" fill="#f27a80"/>
<rect x="380.11" y="267.52" width="3.89" height="8.46" fill="#f49ba1"/>
<rect x="383.69" y="267.52" width="3.89" height="8.46" fill="#f8cdd2"/>
<rect x="387.28" y="267.52" width="3.89" height="8.46" fill="#f47c82"/>
<rect x="390.87" y="267.52" width="3.89" height="8.46" fill="#ed1319"/>
<rect x="394.46" y="267.52" width="3.89" height="8.46" fill="#f3585e"/>
<rect x="398.05" y="267.52" width="3.89" height="8.46" fill="#f27a80"/>
<rect x="401.64" y="267.52" width="3.89" height="8.46" fill="#f89fa5"/>
<rect x="405.22" y="267.52" width="3.89" height="8.46" fill="#f39aa0"/>
<rect x="408.81" y="267.52" width="3.89" height="8.46" fill="#f47c82"/>
<rect x="412.40" y="267.52" width="3.97" height="8.46" fill="#f7ccd1"/>
<rect x="416.07" y="267.52" width="3.97" height="8.46" fill="#fdf7fb"/>
<rect x="419.75" y="267.52" width="3.97" height="8.46" fill="#f39aa0"/>
<rect x="423.42" y="267.52" width="3.97" height="8.46" fill="#f49ba1"/>
<rect x="427.09" y="267.52" width="3.97" height="8.46" fill="#fba2a8"/>
<rect x="430.77" y="267.52" width="3.97" height="8.46" fill="#f47c82"/>
<rect x="434.44" y="267.52" width="3.97" height="8.46" fill="#f89fa5"/>
<rect x="438.12" y="267.52" width="3.97" height="8.46" fill="#faa1a7"/>
<rect x="441.79" y="267.52" width="3.97" height="8.46" fill="#f57d83"/>
<rect x="445.46" y="267.52" width="3.97" height="8.46" fill="#f89fa5"/>
<rect x="449.14" y="267.52" width="3.97" height="8.46" fill="#f1797f"/>
<rect x="452.81" y="267.52" width="3.97" height="8.46" fill="#f47c82"/>
<rect x="456.48" y="267.52" width="3.97" height="8.46" fill="#f75c62"/>
<rect x="460.16" y="267.52" width="3.97" height="8.46" fill="#f1797f"/>
<rect x="463.83" y="267.52" width="3.97" height="8.46" fill="#f47c82"/>
<rect x="467.51" y="267.52" width="3.97" height="8.46" fill="#f77f85"/>
<rect x="471.18" y="267.52" width="3.97" height="8.46" fill="#f1565c"/>
<rect x="474.85" y="267.52" width="3.97" height="8.46" fill="#f4595f"/>
<rect x="478.53" y="267.52" width="3.97" height="8.46" fill="#f88086"/>
<rect x="246.40" y="275.68" width="3.86" height="8.46" fill="#fef8fc"/>
<rect x="249.96" y="275.68" width="3.86" height="8.46" fill="#fef8fc"/>
<rect x="253.52" y="275.68" width="3.86" height="8.46" fill="#fdd2d7"/>
<rect x="257.08" y="275.68" width="3.86" height="8.46" fill="#fed3d8"/>
<rect x="260.64" y="275.68" width="3.86" height="8.46" fill="#f59ca2"/>
<rect x="264.20" y="275.68" width="3.94" height="8.46" fill="#fbd0d5"/>
<rect x="267.84" y="275.68" width="3.94" height="8.46" fill="#f79ea4"/>
<rect x="271.48" y="275.68" width="3.94" height="8.46" fill="#f49ba1"/>
<rect x="275.12" y="275.68" width="3.94" height="8.46" fill="#f47c82"/>
<rect x="278.76" y="275.68" width="3.94" height="8.46" fill="#f59ca2"/>
<rect x="282.40" y="275.68" width="3.94" height="8.46" fill="#fba2a8"/>
<rect x="286.04" y="275.68" width="3.94" height="8.46" fill="#f67e84"/>
<rect x="289.68" y="275.68" width="3.94" height="8.46" fill="#f88086"/>
<rect x="293.32" y="275.68" width="3.94" height="8.46" fill="#f77f85"/>
<rect x="296.96" y="275.68" width="3.94" height="8.46" fill="#f2575d"/>
<rect x="300.60" y="275.68" width="4.07" height="8.46" fill="#f75c62"/>
<rect x="304.37" y="275.68" width="4.07" height="8.46" fill="#f98187"/>
<rect x="308.13" y="275.68" width="4.07" height="8.46" fill="#f89fa5"/>
<rect x="311.90" y="275.68" width="3.89" height="8.46" fill="#f79ea4"/>
<rect x="315.49" y="275.68" width="3.89" height="8.46" fill="#f89fa5"/>
<rect x="319.08" y="275.68" width="3.89" height="8.46" fill="#f89fa5"/>
<rect x="322.67" y="275.68" width="3.89" height="8.46" fill="#f59ca2"/>
<rect x="326.26" y="275.68" width="3.89" height="8.46" fill="#f57d83"/>
<rect x="329.85" y="275.68" width="3.89" height="8.46" fill="#f89fa5"/>
<rect x="333.45" y="275.68" width="3.89" height="8.46" fill="#f27a80"/>
<rect x="337.04" y="275.68" width="3.89" height="8.46" fill="#f59ca2"/>
<rect x="340.63" y="275.68" width="3.89" height="8.46" fill="#f77f85"/>
<rect x="344.22" y="275.68" width="3.89" height="8.46" fill="#f79ea4"/>
<rect x="347.81" y="275.68" width="3.89" height="8.46" fill="#f88086"/>
<rect x="351.40" y="275.68" width="3.89" height="8.46" fill="#f9a0a6"/>
<rect x="354.99" y="275.68" width="3.89" height="8.46" fill="#f98187"/>
<rect x="358.58" y="275.68" width="3.89" height="8.46" fill="#f9a0a6"/>
<rect x="362.16" y="275.68" width="3.89" height="8.46" fill="#f69da3"/>
<rect x="365.75" y="275.68" width="3.89" height="8.46" fill="#f8cdd2"/>
<rect x="369.34" y="275.68" width="3.89" height="8.46" fill="#f89fa5"/>
<rect x="372.93" y="275.68" width="3.89" height="8.46" fill="#f39aa0"/>
<rect x="376.52" y="275.68" width="3.89" height="8.46" fill="#f67e84"/>
<rect x="380.11" y="275.68" width="3.89" height="8.46" fill="#faa1a7"/>
<rect x="383.69" y="275.68" width="3.89" height="8.46" fill="#f7ccd1"/>
<rect x="387.28" y="275.68" width="3.89" height="8.46" fill="#f88086"/>
<rect x="390.87" y="275.68" width="3.89" height="8.46" fill="#f41a20"/>
<rect x="394.46" y="275.68" width="3.89" height="8.46" fill="#f3585e"/>
<rect x="398.05" y="275.68" width="3.89" height="8.46" fill="#f88086"/>
<rect x="401.64" y="275.68" width="3.89" height="8.46" fill="#fba2a8"/>
<rect x="405.22" y="275.68" width="3.89" height="8.46" fill="#fba2a8"/>
<rect x="408.81" y="275.68" width="3.89" height="8.46" fill="#f88086"/>
<rect x="412.40" y="275.68" width="3.97" height="8.46" fill="#facfd4"/>
<rect x="416.07" y="275.68" width="3.97" height="8.46" fill="#faf4f8"/>
<rect x="419.75" y="275.68" width="3.97" height="8.46" fill="#f49ba1"/>
<rect x="423.42" y="275.68" width="3.97" height="8.46" fill="#f49ba1"/>
<rect x="427.09" y="275.68" width="3.97" height="8.46" fill="#faa1a7"/>
<rect x="430.77" y="275.68" width="3.97" height="8.46" fill="#f88086"/>
<rect x="434.44" y="275.68" width="3.97" height="8.46" fill="#f9a0a6"/>
<rect x="438.12" y="275.68" width="3.97" height="8.46" fill="#f59ca2"/>
<rect x="441.79" y="275.68" width="3.97" height="8.46" fill="#f47c82"/>
<rect x="445.46" y="275.68" width="3.97" height="8.46" fill="#f79ea4"/>
<rect x="449.14" y="275.68" width="3.97" height="8.46" fill="#f37b81"/>
<rect x="452.81" y="275.68" width="3.97" height="8.46" fill="#f98187"/>
<rect x="456.48" y="275.68" width="3.97" height="8.46" fill="#f3585e"/>
<rect x="460.16" y="275.68" width="3.97" height="8.46" fill="#f1797f"/>
<rect x="463.83" y="275.68" width="3.97" height="8.46" fill="#f37b81"/>
<rect x="467.51" y="275.68" width="3.97" height="8.46" fill="#f47c82"/>
<rect x="471.18" y="275.68" width="3.97" height="8.46" fill="#f2575d"/>
<rect x="474.85" y="275.68" width="3.97" height="8.46" fill="#f88086"/>
<rect x="478.53" y="275.68" width="3.97" height="8.46" fill="#f27a80"/>
<rect x="246.40" y="283.84" width="3.86" height="8.46" fill="#faf4f8"/>
<rect x="249.96" y="283.84" width="3.86" height="8.46" fill="#fbf5f9"/>
<rect x="253.52" y="283.84" width="3.86" height="8.46" fill="#f9f3f7"/>
<rect x="257.08" y="283.84" width="3.86" height="8.46" fill="#ffd4d9"/>
<rect x="260.64" y="283.84" width="3.86" height="8.46" fill="#f8cdd2"/>
<rect x="264.20" y="283.84" width="3.94" height="8.46" fill="#f7ccd1"/>
<rect x="267.84" y="283.84" width="3.94" height="8.46" fill="#fcd1d6"/>
<rect x="271.48" y="283.84" width="3.94" height="8.46" fill="#faa1a7"/>
<rect x="275.12" y="283.84" width="3.94" height="8.46" fill="#fbd0d5"/>
<rect x="278.76" y="283.84" width="3.94" height="8.46" fill="#faa1a7"/>
<rect x="282.40" y="283.84" width="3.94" height="8.46" fill="#f39aa0"/>
<rect x="286.04" y="283.84" width="3.94" height="8.46" fill="#f89fa5"/>
<rect x="289.68" y="283.84" width="3.94" height="8.46" fill="#f79ea4"/>
<rect x="293.32" y="283.84" width="3.94" height="8.46" fill="#f59ca2"/>
<rect x="296.96" y="283.84" width="3.94" height="8.46" fill="#faa1a7"/>
<rect x="300.60" y="283.84" width="4.07" height="8.46" fill="#f65b61"/>
<rect x="304.37" y="283.84" width="4.07" height="8.46" fill="#f79ea4"/>
<rect x="308.13" y="283.84" width="4.07" height="8.46" fill="#fba2a8"/>
<rect x="311.90" y="283.84" width="3.89" height="8.46" fill="#fed3d8"/>
<rect x="315.49" y="283.84" width="3.89" height="8.46" fill="#fcd1d6"/>
<rect x="319.08" y="283.84" width="3.89" height="8.46" fill="#f69da3"/>
<rect x="322.67" y="283.84" width="3.89" height="8.46" fill="#f8cdd2"/>
<rect x="326.26" y="283.84" width="3.89" height="8.46" fill="#facfd4"/>
<rect x="329.85" y="283.84" width="3.89" height="8.46" fill="#ffd4d9"/>
<rect x="333.45" y="283.84" width="3.89" height="8.46" fill="#f39aa0"/>
<rect x="337.04" y="283.84" width="3.89" height="8.46" fill="#fcd1d6"/>
<rect x="340.63" y="283.84" width="3.89" height="8.46" fill="#fba2a8"/>
<rect x="344.22" y="283.84" width="3.89" height="8.46" fill="#f49ba1"/>
<rect x="347.81" y="283.84" width="3.89" height="8.46" fill="#f89fa5"/>
<rect x="351.40" y="283.84" width="3.89" height="8.46" fill="#f39aa0"/>
<rect x="354.99" y="283.84" width="3.89" height="8.46" fill="#f59ca2"/>
<rect x="358.58" y="283.84" width="3.89" height="8.46" fill="#f7ccd1"/>
<rect x="362.16" y="283.84" width="3.89" height="8.46" fill="#faa1a7"/>
<rect x="365.75" y="283.84" width="3.89" height="8.46" fill="#f9ced3"/>
<rect x="369.34" y="283.84" width="3.89" height="8.46" fill="#f89fa5"/>
<rect x="372.93" y="283.84" width="3.89" height="8.46" fill="#f8cdd2"/>
<rect x="376.52" y="283.84" width="3.89" height="8.46" fill="#f59ca2"/>
<rect x="380.11" y="283.84" width="3.89" height="8.46" fill="#fcd1d6"/>
<rect x="383.69" y="283.84" width="3.89" height="8.46" fill="#facfd4"/>
<rect x="387.28" y="283.84" width="3.89" height="8.46" fill="#faa1a7"/>
<rect x="390.87" y="283.84" width="3.89" height="8.46" fill="#f75c62"/>
<rect x="394.46" y="283.84" width="3.89" height="8.46" fill="#f75c62"/>
<rect x="398.05" y="283.84" width="3.89" height="8.46" fill="#f39aa0"/>
<rect x="401.64" y="283.84" width="3.89" height="8.46" fill="#f39aa0"/>
<rect x="405.22" y="283.84" width="3.89" height="8.46" fill="#fba2a8"/>
<rect x="408.81" y="283.84" width="3.89" height="8.46" fill="#f69da3"/>
<rect x="412.40" y="283.84" width="3.97" height="8.46" fill="#fcd1d6"/>
<rect x="416.07" y="283.84" width="3.97" height="8.46" fill="#f8f2f6"/>
<rect x="419.75" y="283.84" width="3.97" height="8.46" fill="#fbd0d5"/>
<rect x="423.42" y="283.84" width="3.97" height="8.46" fill="#ffd4d9"/>
<rect x="427.09" y="283.84" width="3.97" height="8.46" fill="#facfd4"/>
<rect x="430.77" y="283.84" width="3.97" height="8.46" fill="#fcd1d6"/>
<rect x="434.44" y="283.84" width="3.97" height="8.46" fill="#fcd1d6"/>
<rect x="438.12" y="283.84" width="3.97" height="8.46" fill="#fdd2d7"/>
<rect x="441.79" y="283.84" width="3.97" height="8.46" fill="#f59ca2"/>
<rect x="445.46" y="283.84" width="3.97" height="8.46" fill="#faa1a7"/>
<rect x="449.14" y="283.84" width="3.97" height="8.46" fill="#f9a0a6"/>
<rect x="452.81" y="283.84" width="3.97" height="8.46" fill="#f9a0a6"/>
<rect x="456.48" y="283.84" width="3.97" height="8.46" fill="#f39aa0"/>
<rect x="460.16" y="283.84" width="3.97" height="8.46" fill="#faa1a7"/>
<rect x="463.83" y="283.84" width="3.97" height="8.46" fill="#f9a0a6"/>
<rect x="467.51" y="283.84" width="3.97" height="8.46" fill="#f39aa0"/>
<rect x="471.18" y="283.84" width="3.97" height="8.46" fill="#f49ba1"/>
<rect x="474.85" y="283.84" width="3.97" height="8.46" fill="#f79ea4"/>
<rect x="478.53" y="283.84" width="3.97" height="8.46" fill="#f9a0a6"/></g>
<line x1="300.6" y1="12.4" x2="300.6" y2="103.6" stroke="#111" stroke-width="1.3"/>
<line x1="351.4" y1="12.4" x2="351.4" y2="103.6" stroke="#111" stroke-width="1.3"/>
<line x1="412.4" y1="12.4" x2="412.4" y2="103.6" stroke="#111" stroke-width="1.3"/>
<line x1="264.2" y1="12.9" x2="264.2" y2="103.6" stroke="#fff" stroke-width="1.7"/>
<line x1="264.2" y1="12.9" x2="264.2" y2="103.6" stroke="#000" stroke-width="1.9" stroke-dasharray="2.8 1.9"/>
<line x1="311.9" y1="12.9" x2="311.9" y2="103.6" stroke="#fff" stroke-width="1.7"/>
<line x1="311.9" y1="12.9" x2="311.9" y2="103.6" stroke="#000" stroke-width="1.9" stroke-dasharray="2.8 1.9"/>
<rect x="246.4" y="12.4" width="235.79999999999998" height="91.19999999999999" fill="none" stroke="#151015" stroke-width="1.5"/>
<line x1="300.6" y1="108.2" x2="300.6" y2="191.6" stroke="#111" stroke-width="1.3"/>
<line x1="351.4" y1="108.2" x2="351.4" y2="191.6" stroke="#111" stroke-width="1.3"/>
<line x1="412.4" y1="108.2" x2="412.4" y2="191.6" stroke="#111" stroke-width="1.3"/>
<line x1="264.2" y1="108.7" x2="264.2" y2="191.6" stroke="#fff" stroke-width="1.7"/>
<line x1="264.2" y1="108.7" x2="264.2" y2="191.6" stroke="#000" stroke-width="1.9" stroke-dasharray="2.8 1.9"/>
<line x1="311.9" y1="108.7" x2="311.9" y2="191.6" stroke="#fff" stroke-width="1.7"/>
<line x1="311.9" y1="108.7" x2="311.9" y2="191.6" stroke="#000" stroke-width="1.9" stroke-dasharray="2.8 1.9"/>
<rect x="246.4" y="108.2" width="235.79999999999998" height="83.39999999999999" fill="none" stroke="#151015" stroke-width="1.5"/>
<line x1="300.6" y1="196.3" x2="300.6" y2="246.0" stroke="#111" stroke-width="1.3"/>
<line x1="351.4" y1="196.3" x2="351.4" y2="246.0" stroke="#111" stroke-width="1.3"/>
<line x1="412.4" y1="196.3" x2="412.4" y2="246.0" stroke="#111" stroke-width="1.3"/>
<line x1="264.2" y1="196.8" x2="264.2" y2="246.0" stroke="#fff" stroke-width="1.7"/>
<line x1="264.2" y1="196.8" x2="264.2" y2="246.0" stroke="#000" stroke-width="1.9" stroke-dasharray="2.8 1.9"/>
<line x1="311.9" y1="196.8" x2="311.9" y2="246.0" stroke="#fff" stroke-width="1.7"/>
<line x1="311.9" y1="196.8" x2="311.9" y2="246.0" stroke="#000" stroke-width="1.9" stroke-dasharray="2.8 1.9"/>
<rect x="246.4" y="196.3" width="235.79999999999998" height="49.69999999999999" fill="none" stroke="#151015" stroke-width="1.5"/>
<line x1="300.6" y1="251.2" x2="300.6" y2="292.0" stroke="#111" stroke-width="1.3"/>
<line x1="351.4" y1="251.2" x2="351.4" y2="292.0" stroke="#111" stroke-width="1.3"/>
<line x1="412.4" y1="251.2" x2="412.4" y2="292.0" stroke="#111" stroke-width="1.3"/>
<line x1="264.2" y1="251.7" x2="264.2" y2="292.0" stroke="#fff" stroke-width="1.7"/>
<line x1="264.2" y1="251.7" x2="264.2" y2="292.0" stroke="#000" stroke-width="1.9" stroke-dasharray="2.8 1.9"/>
<line x1="311.9" y1="251.7" x2="311.9" y2="292.0" stroke="#fff" stroke-width="1.7"/>
<line x1="311.9" y1="251.7" x2="311.9" y2="292.0" stroke="#000" stroke-width="1.9" stroke-dasharray="2.8 1.9"/>
<rect x="246.4" y="251.2" width="235.79999999999998" height="40.80000000000001" fill="none" stroke="#151015" stroke-width="1.5"/>
<rect x="245.2" y="296" width="55.20" height="16" fill="#5a4ea2"/>
<text x="272.8" y="308" font-size="10.5" font-weight="normal" fill="#fff" text-anchor="middle" >inv(16)</text>
<rect x="300.4" y="296" width="50.40" height="16" fill="#4b93d2"/>
<text x="325.6" y="308" font-size="10.5" font-weight="normal" fill="#1a1a3a" text-anchor="middle" >t(11q23)</text>
<rect x="350.8" y="296" width="61.00" height="16" fill="#e8302d"/>
<text x="381.3" y="308" font-size="10.5" font-weight="normal" fill="#2a0a0a" text-anchor="middle" >t(15;17)</text>
<rect x="411.8" y="296" width="70.40" height="16" fill="#f9b71a"/>
<text x="447.0" y="308" font-size="10.5" font-weight="normal" fill="#2a1a00" text-anchor="middle" >t(8;21)</text>
<rect x="245.2" y="296" width="237" height="16" fill="none" stroke="#222" stroke-width="1"/>
<text x="67.5" y="305.6" font-size="10" font-weight="normal" fill="#000" text-anchor="start" textLength="118.5" lengthAdjust="spacingAndGlyphs" >Median signature FC (p&lt;0.05)</text>
<defs><linearGradient id="cb" x1="0" x2="1" y1="0" y2="0"><stop offset="0" stop-color="#3447a4"/><stop offset="0.5" stop-color="#ffffff"/><stop offset="1" stop-color="#e8141c"/></linearGradient></defs>
<rect x="69" y="311.6" width="118.5" height="6.2" rx="3.1" fill="url(#cb)" stroke="#111" stroke-width="1"/>
<line x1="78.88" y1="316" x2="78.88" y2="317.6" stroke="#111" stroke-width="0.8"/>
<line x1="88.75" y1="316" x2="88.75" y2="317.6" stroke="#111" stroke-width="0.8"/>
<line x1="98.62" y1="316" x2="98.62" y2="317.6" stroke="#111" stroke-width="0.8"/>
<line x1="108.50" y1="316" x2="108.50" y2="317.6" stroke="#111" stroke-width="0.8"/>
<line x1="118.38" y1="316" x2="118.38" y2="317.6" stroke="#111" stroke-width="0.8"/>
<line x1="128.25" y1="316" x2="128.25" y2="317.6" stroke="#111" stroke-width="0.8"/>
<line x1="138.12" y1="316" x2="138.12" y2="317.6" stroke="#111" stroke-width="0.8"/>
<line x1="148.00" y1="316" x2="148.00" y2="317.6" stroke="#111" stroke-width="0.8"/>
<line x1="157.88" y1="316" x2="157.88" y2="317.6" stroke="#111" stroke-width="0.8"/>
<line x1="167.75" y1="316" x2="167.75" y2="317.6" stroke="#111" stroke-width="0.8"/>
<line x1="177.62" y1="316" x2="177.62" y2="317.6" stroke="#111" stroke-width="0.8"/>
<text x="70" y="326.5" font-size="8.2" font-weight="bold" fill="#111" text-anchor="start" textLength="13.5" lengthAdjust="spacingAndGlyphs" >&lt;−1</text>
<text x="128.7" y="325.2" font-size="8.2" font-weight="bold" fill="#111" text-anchor="middle" >0.0</text>
<text x="188" y="326.5" font-size="8.2" font-weight="bold" fill="#111" text-anchor="end" textLength="8.6" lengthAdjust="spacingAndGlyphs" >&gt;1</text>
<text x="-1.2" y="342.2" font-size="12" font-weight="bold" fill="#000" text-anchor="start" stroke="#000" stroke-width="0.7">B</text>
<text x="54.6" y="343.2" font-size="10.6" font-weight="normal" fill="#000" text-anchor="start" textLength="58.4" lengthAdjust="spacingAndGlyphs" >nl BM CD34</text>
<text x="113.6" y="340.6" font-size="9" font-weight="normal" fill="#000" text-anchor="start" >+</text>
<text x="168.9" y="343.2" font-size="10.6" font-weight="normal" fill="#000" text-anchor="start" textLength="85.2" lengthAdjust="spacingAndGlyphs" >AML t(8;21) CD34</text>
<text x="257.0" y="340.6" font-size="9" font-weight="normal" fill="#000" text-anchor="start" >+</text>
<path d="M38.6,348.7 L135.6,348.7 L135.6,441 L38.0,441" fill="none" stroke="#111" stroke-width="1.1"/>
<line x1="38.6" y1="348.7" x2="38.6" y2="441" stroke="#111" stroke-width="1.2" stroke-dasharray="1 1"/>
<line x1="37.4" y1="441.00" x2="38.6" y2="441.00" stroke="#111" stroke-width="0.6"/>
<line x1="37.4" y1="437.54" x2="38.6" y2="437.54" stroke="#111" stroke-width="0.6"/>
<line x1="37.4" y1="434.08" x2="38.6" y2="434.08" stroke="#111" stroke-width="0.6"/>
<line x1="37.4" y1="430.62" x2="38.6" y2="430.62" stroke="#111" stroke-width="0.6"/>
<line x1="37.4" y1="427.16" x2="38.6" y2="427.16" stroke="#111" stroke-width="0.6"/>
<line x1="37.4" y1="423.70" x2="38.6" y2="423.70" stroke="#111" stroke-width="0.6"/>
<line x1="37.4" y1="420.24" x2="38.6" y2="420.24" stroke="#111" stroke-width="0.6"/>
<line x1="37.4" y1="416.78" x2="38.6" y2="416.78" stroke="#111" stroke-width="0.6"/>
<line x1="37.4" y1="413.32" x2="38.6" y2="413.32" stroke="#111" stroke-width="0.6"/>
<line x1="37.4" y1="409.86" x2="38.6" y2="409.86" stroke="#111" stroke-width="0.6"/>
<line x1="37.4" y1="406.40" x2="38.6" y2="406.40" stroke="#111" stroke-width="0.6"/>
<line x1="37.4" y1="402.94" x2="38.6" y2="402.94" stroke="#111" stroke-width="0.6"/>
<line x1="37.4" y1="399.48" x2="38.6" y2="399.48" stroke="#111" stroke-width="0.6"/>
<line x1="37.4" y1="396.02" x2="38.6" y2="396.02" stroke="#111" stroke-width="0.6"/>
<line x1="37.4" y1="392.56" x2="38.6" y2="392.56" stroke="#111" stroke-width="0.6"/>
<line x1="37.4" y1="389.10" x2="38.6" y2="389.10" stroke="#111" stroke-width="0.6"/>
<line x1="37.4" y1="385.64" x2="38.6" y2="385.64" stroke="#111" stroke-width="0.6"/>
<line x1="37.4" y1="382.18" x2="38.6" y2="382.18" stroke="#111" stroke-width="0.6"/>
<line x1="37.4" y1="378.72" x2="38.6" y2="378.72" stroke="#111" stroke-width="0.6"/>
<line x1="37.4" y1="375.26" x2="38.6" y2="375.26" stroke="#111" stroke-width="0.6"/>
<line x1="37.4" y1="371.80" x2="38.6" y2="371.80" stroke="#111" stroke-width="0.6"/>
<line x1="37.4" y1="368.34" x2="38.6" y2="368.34" stroke="#111" stroke-width="0.6"/>
<line x1="37.4" y1="364.88" x2="38.6" y2="364.88" stroke="#111" stroke-width="0.6"/>
<line x1="37.4" y1="361.42" x2="38.6" y2="361.42" stroke="#111" stroke-width="0.6"/>
<line x1="37.4" y1="357.96" x2="38.6" y2="357.96" stroke="#111" stroke-width="0.6"/>
<line x1="37.4" y1="354.50" x2="38.6" y2="354.50" stroke="#111" stroke-width="0.6"/>
<line x1="38.60" y1="441" x2="38.60" y2="442.2" stroke="#111" stroke-width="0.6"/>
<line x1="42.40" y1="441" x2="42.40" y2="442.2" stroke="#111" stroke-width="0.6"/>
<line x1="46.20" y1="441" x2="46.20" y2="442.2" stroke="#111" stroke-width="0.6"/>
<line x1="50.00" y1="441" x2="50.00" y2="442.2" stroke="#111" stroke-width="0.6"/>
<line x1="53.80" y1="441" x2="53.80" y2="442.2" stroke="#111" stroke-width="0.6"/>
<line x1="57.60" y1="441" x2="57.60" y2="442.2" stroke="#111" stroke-width="0.6"/>
<line x1="61.40" y1="441" x2="61.40" y2="442.2" stroke="#111" stroke-width="0.6"/>
<line x1="65.20" y1="441" x2="65.20" y2="442.2" stroke="#111" stroke-width="0.6"/>
<line x1="69.00" y1="441" x2="69.00" y2="442.2" stroke="#111" stroke-width="0.6"/>
<line x1="72.80" y1="441" x2="72.80" y2="442.2" stroke="#111" stroke-width="0.6"/>
<line x1="76.60" y1="441" x2="76.60" y2="442.2" stroke="#111" stroke-width="0.6"/>
<line x1="80.40" y1="441" x2="80.40" y2="442.2" stroke="#111" stroke-width="0.6"/>
<line x1="84.20" y1="441" x2="84.20" y2="442.2" stroke="#111" stroke-width="0.6"/>
<line x1="88.00" y1="441" x2="88.00" y2="442.2" stroke="#111" stroke-width="0.6"/>
<line x1="91.80" y1="441" x2="91.80" y2="442.2" stroke="#111" stroke-width="0.6"/>
<line x1="95.60" y1="441" x2="95.60" y2="442.2" stroke="#111" stroke-width="0.6"/>
<line x1="99.40" y1="441" x2="99.40" y2="442.2" stroke="#111" stroke-width="0.6"/>
<line x1="103.20" y1="441" x2="103.20" y2="442.2" stroke="#111" stroke-width="0.6"/>
<line x1="107.00" y1="441" x2="107.00" y2="442.2" stroke="#111" stroke-width="0.6"/>
<line x1="110.80" y1="441" x2="110.80" y2="442.2" stroke="#111" stroke-width="0.6"/>
<line x1="114.60" y1="441" x2="114.60" y2="442.2" stroke="#111" stroke-width="0.6"/>
<line x1="118.40" y1="441" x2="118.40" y2="442.2" stroke="#111" stroke-width="0.6"/>
<line x1="122.20" y1="441" x2="122.20" y2="442.2" stroke="#111" stroke-width="0.6"/>
<line x1="126.00" y1="441" x2="126.00" y2="442.2" stroke="#111" stroke-width="0.6"/>
<line x1="129.80" y1="441" x2="129.80" y2="442.2" stroke="#111" stroke-width="0.6"/>
<line x1="133.60" y1="441" x2="133.60" y2="442.2" stroke="#111" stroke-width="0.6"/>
<line x1="35.6" y1="441.00" x2="38.6" y2="441.00" stroke="#111" stroke-width="0.9"/>
<text x="35.6" y="443.3" font-size="6.5" font-weight="bold" fill="#000" text-anchor="end" stroke="#000" stroke-width="0.2">0</text>
<line x1="38.60" y1="441" x2="38.60" y2="444" stroke="#111" stroke-width="0.9"/>
<text x="39.0" y="451.2" font-size="6.5" font-weight="bold" fill="#000" text-anchor="middle" stroke="#000" stroke-width="0.2">0</text>
<line x1="35.6" y1="423.55" x2="38.6" y2="423.55" stroke="#111" stroke-width="0.9"/>
<text x="35.6" y="425.85" font-size="6.5" font-weight="bold" fill="#000" text-anchor="end" stroke="#000" stroke-width="0.2">50K</text>
<line x1="57.60" y1="441" x2="57.60" y2="444" stroke="#111" stroke-width="0.9"/>
<text x="57.5" y="451.2" font-size="6.5" font-weight="bold" fill="#000" text-anchor="middle" stroke="#000" stroke-width="0.2">50K</text>
<line x1="35.6" y1="406.10" x2="38.6" y2="406.10" stroke="#111" stroke-width="0.9"/>
<text x="35.6" y="408.4" font-size="6.5" font-weight="bold" fill="#000" text-anchor="end" stroke="#000" stroke-width="0.2">100K</text>
<line x1="76.60" y1="441" x2="76.60" y2="444" stroke="#111" stroke-width="0.9"/>
<text x="76.6" y="451.2" font-size="6.5" font-weight="bold" fill="#000" text-anchor="middle" stroke="#000" stroke-width="0.2">100K</text>
<line x1="35.6" y1="388.65" x2="38.6" y2="388.65" stroke="#111" stroke-width="0.9"/>
<text x="35.6" y="390.95" font-size="6.5" font-weight="bold" fill="#000" text-anchor="end" stroke="#000" stroke-width="0.2">150K</text>
<line x1="95.60" y1="441" x2="95.60" y2="444" stroke="#111" stroke-width="0.9"/>
<text x="94.6" y="451.2" font-size="6.5" font-weight="bold" fill="#000" text-anchor="middle" stroke="#000" stroke-width="0.2">150K</text>
<line x1="35.6" y1="371.20" x2="38.6" y2="371.20" stroke="#111" stroke-width="0.9"/>
<text x="35.6" y="373.5" font-size="6.5" font-weight="bold" fill="#000" text-anchor="end" stroke="#000" stroke-width="0.2">200K</text>
<line x1="114.60" y1="441" x2="114.60" y2="444" stroke="#111" stroke-width="0.9"/>
<text x="111.8" y="451.2" font-size="6.5" font-weight="bold" fill="#000" text-anchor="middle" stroke="#000" stroke-width="0.2">200K</text>
<line x1="35.6" y1="353.75" x2="38.6" y2="353.75" stroke="#111" stroke-width="0.9"/>
<text x="35.6" y="356.05" font-size="6.5" font-weight="bold" fill="#000" text-anchor="end" stroke="#000" stroke-width="0.2">250K</text>
<line x1="133.60" y1="441" x2="133.60" y2="444" stroke="#111" stroke-width="0.9"/>
<text x="129.0" y="451.2" font-size="6.5" font-weight="bold" fill="#000" text-anchor="middle" stroke="#000" stroke-width="0.2">250K</text>
<path d="M166.9,348.7 L263.9,348.7 L263.9,441 L166.3,441" fill="none" stroke="#111" stroke-width="1.1"/>
<line x1="166.9" y1="348.7" x2="166.9" y2="441" stroke="#111" stroke-width="1.2" stroke-dasharray="1 1"/>
<line x1="165.70000000000002" y1="441.00" x2="166.9" y2="441.00" stroke="#111" stroke-width="0.6"/>
<line x1="165.70000000000002" y1="437.54" x2="166.9" y2="437.54" stroke="#111" stroke-width="0.6"/>
<line x1="165.70000000000002" y1="434.08" x2="166.9" y2="434.08" stroke="#111" stroke-width="0.6"/>
<line x1="165.70000000000002" y1="430.62" x2="166.9" y2="430.62" stroke="#111" stroke-width="0.6"/>
<line x1="165.70000000000002" y1="427.16" x2="166.9" y2="427.16" stroke="#111" stroke-width="0.6"/>
<line x1="165.70000000000002" y1="423.70" x2="166.9" y2="423.70" stroke="#111" stroke-width="0.6"/>
<line x1="165.70000000000002" y1="420.24" x2="166.9" y2="420.24" stroke="#111" stroke-width="0.6"/>
<line x1="165.70000000000002" y1="416.78" x2="166.9" y2="416.78" stroke="#111" stroke-width="0.6"/>
<line x1="165.70000000000002" y1="413.32" x2="166.9" y2="413.32" stroke="#111" stroke-width="0.6"/>
<line x1="165.70000000000002" y1="409.86" x2="166.9" y2="409.86" stroke="#111" stroke-width="0.6"/>
<line x1="165.70000000000002" y1="406.40" x2="166.9" y2="406.40" stroke="#111" stroke-width="0.6"/>
<line x1="165.70000000000002" y1="402.94" x2="166.9" y2="402.94" stroke="#111" stroke-width="0.6"/>
<line x1="165.70000000000002" y1="399.48" x2="166.9" y2="399.48" stroke="#111" stroke-width="0.6"/>
<line x1="165.70000000000002" y1="396.02" x2="166.9" y2="396.02" stroke="#111" stroke-width="0.6"/>
<line x1="165.70000000000002" y1="392.56" x2="166.9" y2="392.56" stroke="#111" stroke-width="0.6"/>
<line x1="165.70000000000002" y1="389.10" x2="166.9" y2="389.10" stroke="#111" stroke-width="0.6"/>
<line x1="165.70000000000002" y1="385.64" x2="166.9" y2="385.64" stroke="#111" stroke-width="0.6"/>
<line x1="165.70000000000002" y1="382.18" x2="166.9" y2="382.18" stroke="#111" stroke-width="0.6"/>
<line x1="165.70000000000002" y1="378.72" x2="166.9" y2="378.72" stroke="#111" stroke-width="0.6"/>
<line x1="165.70000000000002" y1="375.26" x2="166.9" y2="375.26" stroke="#111" stroke-width="0.6"/>
<line x1="165.70000000000002" y1="371.80" x2="166.9" y2="371.80" stroke="#111" stroke-width="0.6"/>
<line x1="165.70000000000002" y1="368.34" x2="166.9" y2="368.34" stroke="#111" stroke-width="0.6"/>
<line x1="165.70000000000002" y1="364.88" x2="166.9" y2="364.88" stroke="#111" stroke-width="0.6"/>
<line x1="165.70000000000002" y1="361.42" x2="166.9" y2="361.42" stroke="#111" stroke-width="0.6"/>
<line x1="165.70000000000002" y1="357.96" x2="166.9" y2="357.96" stroke="#111" stroke-width="0.6"/>
<line x1="165.70000000000002" y1="354.50" x2="166.9" y2="354.50" stroke="#111" stroke-width="0.6"/>
<line x1="166.90" y1="441" x2="166.90" y2="442.2" stroke="#111" stroke-width="0.6"/>
<line x1="170.70" y1="441" x2="170.70" y2="442.2" stroke="#111" stroke-width="0.6"/>
<line x1="174.50" y1="441" x2="174.50" y2="442.2" stroke="#111" stroke-width="0.6"/>
<line x1="178.30" y1="441" x2="178.30" y2="442.2" stroke="#111" stroke-width="0.6"/>
<line x1="182.10" y1="441" x2="182.10" y2="442.2" stroke="#111" stroke-width="0.6"/>
<line x1="185.90" y1="441" x2="185.90" y2="442.2" stroke="#111" stroke-width="0.6"/>
<line x1="189.70" y1="441" x2="189.70" y2="442.2" stroke="#111" stroke-width="0.6"/>
<line x1="193.50" y1="441" x2="193.50" y2="442.2" stroke="#111" stroke-width="0.6"/>
<line x1="197.30" y1="441" x2="197.30" y2="442.2" stroke="#111" stroke-width="0.6"/>
<line x1="201.10" y1="441" x2="201.10" y2="442.2" stroke="#111" stroke-width="0.6"/>
<line x1="204.90" y1="441" x2="204.90" y2="442.2" stroke="#111" stroke-width="0.6"/>
<line x1="208.70" y1="441" x2="208.70" y2="442.2" stroke="#111" stroke-width="0.6"/>
<line x1="212.50" y1="441" x2="212.50" y2="442.2" stroke="#111" stroke-width="0.6"/>
<line x1="216.30" y1="441" x2="216.30" y2="442.2" stroke="#111" stroke-width="0.6"/>
<line x1="220.10" y1="441" x2="220.10" y2="442.2" stroke="#111" stroke-width="0.6"/>
<line x1="223.90" y1="441" x2="223.90" y2="442.2" stroke="#111" stroke-width="0.6"/>
<line x1="227.70" y1="441" x2="227.70" y2="442.2" stroke="#111" stroke-width="0.6"/>
<line x1="231.50" y1="441" x2="231.50" y2="442.2" stroke="#111" stroke-width="0.6"/>
<line x1="235.30" y1="441" x2="235.30" y2="442.2" stroke="#111" stroke-width="0.6"/>
<line x1="239.10" y1="441" x2="239.10" y2="442.2" stroke="#111" stroke-width="0.6"/>
<line x1="242.90" y1="441" x2="242.90" y2="442.2" stroke="#111" stroke-width="0.6"/>
<line x1="246.70" y1="441" x2="246.70" y2="442.2" stroke="#111" stroke-width="0.6"/>
<line x1="250.50" y1="441" x2="250.50" y2="442.2" stroke="#111" stroke-width="0.6"/>
<line x1="254.30" y1="441" x2="254.30" y2="442.2" stroke="#111" stroke-width="0.6"/>
<line x1="258.10" y1="441" x2="258.10" y2="442.2" stroke="#111" stroke-width="0.6"/>
<line x1="261.90" y1="441" x2="261.90" y2="442.2" stroke="#111" stroke-width="0.6"/>
<line x1="163.9" y1="441.00" x2="166.9" y2="441.00" stroke="#111" stroke-width="0.9"/>
<text x="163.9" y="443.3" font-size="6.5" font-weight="bold" fill="#000" text-anchor="end" stroke="#000" stroke-width="0.2">0</text>
<line x1="166.90" y1="441" x2="166.90" y2="444" stroke="#111" stroke-width="0.9"/>
<text x="167.3" y="451.2" font-size="6.5" font-weight="bold" fill="#000" text-anchor="middle" stroke="#000" stroke-width="0.2">0</text>
<line x1="163.9" y1="423.55" x2="166.9" y2="423.55" stroke="#111" stroke-width="0.9"/>
<text x="163.9" y="425.85" font-size="6.5" font-weight="bold" fill="#000" text-anchor="end" stroke="#000" stroke-width="0.2">50K</text>
<line x1="185.90" y1="441" x2="185.90" y2="444" stroke="#111" stroke-width="0.9"/>
<text x="185.8" y="451.2" font-size="6.5" font-weight="bold" fill="#000" text-anchor="middle" stroke="#000" stroke-width="0.2">50K</text>
<line x1="163.9" y1="406.10" x2="166.9" y2="406.10" stroke="#111" stroke-width="0.9"/>
<text x="163.9" y="408.4" font-size="6.5" font-weight="bold" fill="#000" text-anchor="end" stroke="#000" stroke-width="0.2">100K</text>
<line x1="204.90" y1="441" x2="204.90" y2="444" stroke="#111" stroke-width="0.9"/>
<text x="204.9" y="451.2" font-size="6.5" font-weight="bold" fill="#000" text-anchor="middle" stroke="#000" stroke-width="0.2">100K</text>
<line x1="163.9" y1="388.65" x2="166.9" y2="388.65" stroke="#111" stroke-width="0.9"/>
<text x="163.9" y="390.95" font-size="6.5" font-weight="bold" fill="#000" text-anchor="end" stroke="#000" stroke-width="0.2">150K</text>
<line x1="223.90" y1="441" x2="223.90" y2="444" stroke="#111" stroke-width="0.9"/>
<text x="222.9" y="451.2" font-size="6.5" font-weight="bold" fill="#000" text-anchor="middle" stroke="#000" stroke-width="0.2">150K</text>
<line x1="163.9" y1="371.20" x2="166.9" y2="371.20" stroke="#111" stroke-width="0.9"/>
<text x="163.9" y="373.5" font-size="6.5" font-weight="bold" fill="#000" text-anchor="end" stroke="#000" stroke-width="0.2">200K</text>
<line x1="242.90" y1="441" x2="242.90" y2="444" stroke="#111" stroke-width="0.9"/>
<text x="240.1" y="451.2" font-size="6.5" font-weight="bold" fill="#000" text-anchor="middle" stroke="#000" stroke-width="0.2">200K</text>
<line x1="163.9" y1="353.75" x2="166.9" y2="353.75" stroke="#111" stroke-width="0.9"/>
<text x="163.9" y="356.05" font-size="6.5" font-weight="bold" fill="#000" text-anchor="end" stroke="#000" stroke-width="0.2">250K</text>
<line x1="261.90" y1="441" x2="261.90" y2="444" stroke="#111" stroke-width="0.9"/>
<text x="257.3" y="451.2" font-size="6.5" font-weight="bold" fill="#000" text-anchor="middle" stroke="#000" stroke-width="0.2">250K</text>
<g fill="#a0a0a0"><circle cx="45.2" cy="388.7" r="0.4"/><circle cx="50.4" cy="384.2" r="0.4"/><circle cx="48.6" cy="401.2" r="0.4"/><circle cx="40.9" cy="409.4" r="0.4"/><circle cx="40.6" cy="405.2" r="0.4"/><circle cx="41.1" cy="385.3" r="0.4"/><circle cx="46.8" cy="428.0" r="0.4"/><circle cx="42.0" cy="392.9" r="0.4"/><circle cx="50.0" cy="435.0" r="0.4"/><circle cx="49.2" cy="403.0" r="0.4"/><circle cx="55.6" cy="382.7" r="0.4"/><circle cx="53.7" cy="396.8" r="0.4"/><circle cx="42.3" cy="386.8" r="0.4"/><circle cx="44.9" cy="427.3" r="0.4"/><circle cx="42.9" cy="413.7" r="0.4"/><circle cx="50.2" cy="401.6" r="0.4"/><circle cx="48.8" cy="383.6" r="0.4"/><circle cx="41.0" cy="391.9" r="0.4"/><circle cx="50.9" cy="404.8" r="0.4"/><circle cx="45.0" cy="414.0" r="0.4"/><circle cx="47.3" cy="397.4" r="0.4"/><circle cx="52.7" cy="420.5" r="0.4"/><circle cx="43.9" cy="413.3" r="0.4"/><circle cx="48.4" cy="430.8" r="0.4"/><circle cx="51.7" cy="396.7" r="0.4"/><circle cx="55.7" cy="386.8" r="0.4"/><circle cx="46.7" cy="423.9" r="0.4"/><circle cx="42.4" cy="408.4" r="0.4"/><circle cx="40.6" cy="418.8" r="0.4"/><circle cx="52.2" cy="413.2" r="0.4"/><circle cx="54.0" cy="398.2" r="0.4"/><circle cx="51.1" cy="414.5" r="0.4"/><circle cx="49.3" cy="406.5" r="0.4"/><circle cx="53.4" cy="434.8" r="0.4"/><circle cx="47.6" cy="418.5" r="0.4"/><circle cx="41.0" cy="420.7" r="0.4"/><circle cx="50.4" cy="437.6" r="0.4"/><circle cx="53.2" cy="396.5" r="0.4"/><circle cx="46.2" cy="418.8" r="0.4"/><circle cx="40.4" cy="406.8" r="0.4"/><circle cx="42.7" cy="386.8" r="0.4"/><circle cx="40.9" cy="424.6" r="0.4"/><circle cx="42.1" cy="394.4" r="0.4"/><circle cx="46.3" cy="430.5" r="0.4"/><circle cx="41.3" cy="406.1" r="0.4"/><circle cx="48.8" cy="431.2" r="0.4"/><circle cx="53.1" cy="430.1" r="0.4"/><circle cx="44.5" cy="404.1" r="0.4"/><circle cx="45.7" cy="431.3" r="0.4"/><circle cx="55.3" cy="388.8" r="0.4"/><circle cx="42.8" cy="393.5" r="0.4"/><circle cx="43.7" cy="408.1" r="0.4"/><circle cx="49.4" cy="395.2" r="0.4"/><circle cx="40.1" cy="404.3" r="0.4"/><circle cx="45.9" cy="412.8" r="0.4"/><circle cx="55.2" cy="420.0" r="0.4"/><circle cx="48.2" cy="415.8" r="0.4"/><circle cx="50.8" cy="383.1" r="0.4"/><circle cx="54.4" cy="425.2" r="0.4"/><circle cx="54.0" cy="426.3" r="0.4"/><circle cx="46.3" cy="403.1" r="0.4"/><circle cx="41.7" cy="416.8" r="0.4"/><circle cx="41.0" cy="383.9" r="0.4"/><circle cx="43.3" cy="389.4" r="0.4"/><circle cx="45.4" cy="383.0" r="0.4"/><circle cx="40.0" cy="388.8" r="0.4"/><circle cx="41.6" cy="401.1" r="0.4"/><circle cx="40.4" cy="430.7" r="0.4"/><circle cx="49.8" cy="388.6" r="0.4"/><circle cx="44.0" cy="400.1" r="0.4"/><circle cx="56.4" cy="362.4" r="0.4"/><circle cx="78.2" cy="436.4" r="0.4"/><circle cx="61.0" cy="393.1" r="0.4"/><circle cx="43.9" cy="360.7" r="0.4"/><circle cx="55.4" cy="374.5" r="0.4"/><circle cx="77.3" cy="365.7" r="0.4"/><circle cx="41.0" cy="432.8" r="0.4"/><circle cx="63.8" cy="364.5" r="0.4"/><circle cx="64.4" cy="354.3" r="0.4"/><circle cx="63.8" cy="435.2" r="0.4"/><circle cx="78.8" cy="411.2" r="0.4"/><circle cx="51.8" cy="383.2" r="0.4"/><circle cx="47.5" cy="417.6" r="0.4"/><circle cx="64.0" cy="418.2" r="0.4"/><circle cx="54.8" cy="371.0" r="0.4"/><circle cx="76.5" cy="435.7" r="0.4"/><circle cx="78.4" cy="420.5" r="0.4"/><circle cx="76.8" cy="414.9" r="0.4"/><circle cx="50.2" cy="396.0" r="0.4"/><circle cx="56.0" cy="354.5" r="0.4"/><circle cx="41.3" cy="375.8" r="0.4"/><circle cx="51.7" cy="410.9" r="0.4"/><circle cx="83.0" cy="390.0" r="0.4"/><circle cx="82.2" cy="436.0" r="0.4"/><circle cx="83.0" cy="383.0" r="0.4"/></g>
<g fill="#7a7a7a"><circle cx="65.8" cy="399.8" r="0.42"/><circle cx="65.3" cy="401.2" r="0.42"/><circle cx="73.9" cy="364.7" r="0.42"/><circle cx="78.7" cy="380.1" r="0.42"/><circle cx="74.5" cy="368.5" r="0.42"/><circle cx="63.5" cy="380.4" r="0.42"/><circle cx="80.4" cy="366.2" r="0.42"/><circle cx="76.7" cy="381.3" r="0.42"/><circle cx="65.0" cy="373.9" r="0.42"/><circle cx="67.8" cy="372.0" r="0.42"/><circle cx="81.8" cy="382.1" r="0.42"/><circle cx="69.2" cy="365.1" r="0.42"/><circle cx="76.1" cy="396.5" r="0.42"/><circle cx="64.2" cy="404.8" r="0.42"/><circle cx="80.2" cy="365.2" r="0.42"/><circle cx="64.5" cy="372.6" r="0.42"/><circle cx="82.0" cy="370.5" r="0.42"/><circle cx="68.2" cy="382.9" r="0.42"/><circle cx="64.2" cy="413.3" r="0.42"/><circle cx="81.8" cy="370.9" r="0.42"/><circle cx="71.8" cy="364.4" r="0.42"/><circle cx="69.8" cy="367.9" r="0.42"/><circle cx="78.4" cy="392.9" r="0.42"/><circle cx="66.3" cy="396.1" r="0.42"/><circle cx="66.1" cy="382.3" r="0.42"/><circle cx="66.5" cy="389.8" r="0.42"/><circle cx="64.2" cy="369.2" r="0.42"/><circle cx="68.2" cy="387.0" r="0.42"/><circle cx="73.0" cy="364.9" r="0.42"/><circle cx="69.6" cy="366.1" r="0.42"/><circle cx="71.2" cy="381.9" r="0.42"/><circle cx="71.7" cy="408.2" r="0.42"/><circle cx="70.0" cy="399.5" r="0.42"/><circle cx="62.5" cy="374.8" r="0.42"/><circle cx="64.9" cy="388.2" r="0.42"/><circle cx="76.1" cy="378.1" r="0.42"/><circle cx="67.7" cy="384.5" r="0.42"/><circle cx="72.4" cy="370.3" r="0.42"/><circle cx="63.9" cy="384.7" r="0.42"/><circle cx="66.3" cy="396.9" r="0.42"/><circle cx="77.2" cy="379.7" r="0.42"/><circle cx="72.5" cy="371.2" r="0.42"/><circle cx="80.4" cy="380.7" r="0.42"/><circle cx="73.6" cy="381.8" r="0.42"/><circle cx="71.5" cy="374.7" r="0.42"/><circle cx="70.2" cy="382.4" r="0.42"/><circle cx="70.7" cy="364.5" r="0.42"/><circle cx="75.5" cy="364.8" r="0.42"/><circle cx="81.1" cy="388.9" r="0.42"/><circle cx="72.5" cy="363.6" r="0.42"/><circle cx="78.7" cy="396.6" r="0.42"/><circle cx="64.1" cy="390.1" r="0.42"/><circle cx="63.4" cy="400.5" r="0.42"/><circle cx="63.4" cy="380.1" r="0.42"/><circle cx="77.4" cy="363.0" r="0.42"/><circle cx="64.6" cy="377.3" r="0.42"/><circle cx="74.7" cy="398.8" r="0.42"/><circle cx="79.7" cy="358.9" r="0.42"/><circle cx="65.7" cy="366.6" r="0.42"/><circle cx="69.1" cy="385.1" r="0.42"/><circle cx="82.3" cy="363.1" r="0.42"/><circle cx="64.7" cy="390.2" r="0.42"/><circle cx="71.5" cy="390.7" r="0.42"/><circle cx="65.3" cy="395.4" r="0.42"/><circle cx="76.0" cy="405.4" r="0.42"/><circle cx="72.3" cy="385.5" r="0.42"/><circle cx="62.7" cy="396.3" r="0.42"/><circle cx="73.9" cy="381.3" r="0.42"/><circle cx="63.2" cy="366.5" r="0.42"/><circle cx="77.5" cy="359.9" r="0.42"/><circle cx="63.8" cy="398.9" r="0.42"/><circle cx="62.9" cy="375.5" r="0.42"/><circle cx="66.7" cy="404.5" r="0.42"/><circle cx="69.6" cy="366.4" r="0.42"/><circle cx="78.2" cy="390.7" r="0.42"/><circle cx="64.5" cy="368.6" r="0.42"/><circle cx="72.7" cy="373.7" r="0.42"/><circle cx="63.6" cy="410.7" r="0.42"/><circle cx="75.3" cy="384.5" r="0.42"/><circle cx="63.4" cy="368.4" r="0.42"/><circle cx="74.1" cy="368.7" r="0.42"/><circle cx="63.5" cy="371.8" r="0.42"/><circle cx="63.3" cy="371.7" r="0.42"/><circle cx="70.2" cy="391.5" r="0.42"/><circle cx="72.3" cy="364.4" r="0.42"/><circle cx="66.6" cy="404.5" r="0.42"/><circle cx="71.8" cy="395.5" r="0.42"/><circle cx="63.9" cy="404.4" r="0.42"/><circle cx="63.1" cy="402.7" r="0.42"/><circle cx="67.4" cy="394.8" r="0.42"/><circle cx="76.9" cy="389.9" r="0.42"/><circle cx="71.2" cy="399.0" r="0.42"/><circle cx="68.1" cy="410.5" r="0.42"/><circle cx="66.3" cy="411.9" r="0.42"/><circle cx="76.3" cy="378.3" r="0.42"/><circle cx="65.2" cy="387.9" r="0.42"/><circle cx="80.9" cy="396.9" r="0.42"/><circle cx="78.2" cy="382.5" r="0.42"/><circle cx="71.1" cy="368.8" r="0.42"/><circle cx="69.0" cy="384.3" r="0.42"/><circle cx="75.3" cy="360.6" r="0.42"/><circle cx="68.0" cy="370.5" r="0.42"/><circle cx="75.7" cy="374.9" r="0.42"/><circle cx="69.3" cy="391.6" r="0.42"/><circle cx="63.1" cy="406.6" r="0.42"/><circle cx="63.3" cy="376.9" r="0.42"/><circle cx="66.4" cy="402.8" r="0.42"/><circle cx="63.5" cy="372.5" r="0.42"/><circle cx="79.4" cy="371.3" r="0.42"/><circle cx="66.9" cy="398.3" r="0.42"/><circle cx="67.1" cy="387.6" r="0.42"/><circle cx="64.7" cy="389.6" r="0.42"/><circle cx="66.5" cy="365.8" r="0.42"/><circle cx="81.8" cy="375.3" r="0.42"/><circle cx="66.2" cy="365.8" r="0.42"/><circle cx="67.4" cy="392.3" r="0.42"/><circle cx="62.5" cy="393.9" r="0.42"/><circle cx="70.7" cy="383.6" r="0.42"/><circle cx="65.4" cy="386.4" r="0.42"/><circle cx="62.5" cy="399.8" r="0.42"/><circle cx="63.6" cy="392.4" r="0.42"/><circle cx="62.9" cy="413.5" r="0.42"/><circle cx="67.3" cy="398.5" r="0.42"/><circle cx="73.0" cy="381.0" r="0.42"/><circle cx="76.7" cy="373.4" r="0.42"/><circle cx="75.9" cy="364.5" r="0.42"/><circle cx="69.0" cy="392.9" r="0.42"/><circle cx="82.1" cy="393.8" r="0.42"/><circle cx="76.1" cy="374.3" r="0.42"/><circle cx="63.0" cy="373.0" r="0.42"/><circle cx="79.9" cy="372.9" r="0.42"/><circle cx="76.3" cy="367.1" r="0.42"/><circle cx="64.4" cy="386.1" r="0.42"/><circle cx="71.3" cy="368.7" r="0.42"/><circle cx="77.9" cy="365.6" r="0.42"/><circle cx="73.0" cy="365.4" r="0.42"/><circle cx="75.2" cy="372.7" r="0.42"/><circle cx="65.9" cy="411.0" r="0.42"/><circle cx="64.3" cy="393.9" r="0.42"/><circle cx="63.8" cy="372.6" r="0.42"/><circle cx="72.4" cy="377.0" r="0.42"/><circle cx="73.9" cy="373.9" r="0.42"/><circle cx="71.0" cy="409.9" r="0.42"/><circle cx="77.7" cy="369.0" r="0.42"/><circle cx="71.3" cy="381.8" r="0.42"/><circle cx="74.6" cy="403.2" r="0.42"/><circle cx="76.4" cy="392.1" r="0.42"/><circle cx="63.4" cy="399.2" r="0.42"/><circle cx="76.2" cy="394.6" r="0.42"/><circle cx="76.4" cy="360.3" r="0.42"/><circle cx="71.1" cy="388.9" r="0.42"/><circle cx="70.8" cy="375.5" r="0.42"/><circle cx="77.0" cy="374.9" r="0.42"/><circle cx="74.3" cy="402.7" r="0.42"/><circle cx="64.5" cy="399.1" r="0.42"/><circle cx="76.5" cy="389.5" r="0.42"/><circle cx="72.6" cy="408.1" r="0.42"/><circle cx="63.2" cy="399.1" r="0.42"/><circle cx="74.9" cy="372.9" r="0.42"/><circle cx="75.0" cy="391.0" r="0.42"/><circle cx="71.6" cy="384.8" r="0.42"/><circle cx="70.5" cy="402.7" r="0.42"/><circle cx="80.0" cy="392.6" r="0.42"/><circle cx="82.0" cy="359.1" r="0.42"/><circle cx="62.7" cy="390.1" r="0.42"/><circle cx="78.3" cy="359.7" r="0.42"/><circle cx="70.2" cy="395.0" r="0.42"/><circle cx="65.6" cy="367.0" r="0.42"/><circle cx="65.6" cy="382.8" r="0.42"/><circle cx="64.4" cy="386.1" r="0.42"/><circle cx="81.4" cy="395.2" r="0.42"/><circle cx="78.3" cy="379.0" r="0.42"/><circle cx="79.8" cy="369.7" r="0.42"/><circle cx="66.0" cy="368.8" r="0.42"/><circle cx="70.9" cy="408.3" r="0.42"/><circle cx="62.5" cy="388.7" r="0.42"/><circle cx="70.2" cy="393.3" r="0.42"/><circle cx="64.4" cy="394.7" r="0.42"/><circle cx="67.5" cy="370.4" r="0.42"/><circle cx="62.5" cy="377.0" r="0.42"/><circle cx="78.7" cy="397.5" r="0.42"/><circle cx="80.7" cy="368.8" r="0.42"/><circle cx="80.2" cy="388.0" r="0.42"/><circle cx="68.6" cy="389.8" r="0.42"/><circle cx="82.5" cy="373.2" r="0.42"/><circle cx="68.4" cy="388.3" r="0.42"/><circle cx="66.8" cy="409.3" r="0.42"/><circle cx="63.8" cy="372.6" r="0.42"/><circle cx="66.9" cy="366.7" r="0.42"/><circle cx="66.3" cy="397.5" r="0.42"/><circle cx="71.4" cy="398.3" r="0.42"/><circle cx="68.6" cy="365.0" r="0.42"/><circle cx="79.8" cy="365.3" r="0.42"/><circle cx="74.0" cy="364.0" r="0.42"/><circle cx="81.1" cy="375.7" r="0.42"/><circle cx="76.0" cy="403.4" r="0.42"/><circle cx="76.3" cy="382.8" r="0.42"/><circle cx="76.7" cy="373.9" r="0.42"/><circle cx="67.0" cy="409.1" r="0.42"/><circle cx="80.8" cy="395.9" r="0.42"/><circle cx="70.6" cy="391.0" r="0.42"/><circle cx="67.2" cy="375.0" r="0.42"/><circle cx="81.9" cy="388.4" r="0.42"/><circle cx="74.6" cy="390.8" r="0.42"/><circle cx="72.4" cy="387.6" r="0.42"/><circle cx="64.8" cy="403.8" r="0.42"/><circle cx="65.5" cy="368.7" r="0.42"/><circle cx="71.1" cy="396.9" r="0.42"/><circle cx="80.3" cy="357.5" r="0.42"/><circle cx="70.2" cy="401.7" r="0.42"/><circle cx="65.3" cy="407.6" r="0.42"/><circle cx="68.0" cy="405.8" r="0.42"/><circle cx="66.1" cy="397.9" r="0.42"/><circle cx="72.7" cy="365.8" r="0.42"/><circle cx="76.7" cy="384.3" r="0.42"/><circle cx="69.4" cy="383.3" r="0.42"/><circle cx="68.7" cy="392.4" r="0.42"/><circle cx="63.2" cy="398.7" r="0.42"/><circle cx="81.7" cy="395.4" r="0.42"/><circle cx="71.3" cy="377.5" r="0.42"/><circle cx="79.3" cy="392.2" r="0.42"/><circle cx="66.7" cy="398.1" r="0.42"/><circle cx="69.2" cy="387.0" r="0.42"/><circle cx="81.4" cy="362.9" r="0.42"/><circle cx="79.5" cy="403.0" r="0.42"/><circle cx="62.8" cy="378.6" r="0.42"/><circle cx="80.0" cy="379.6" r="0.42"/><circle cx="73.1" cy="408.9" r="0.42"/><circle cx="69.0" cy="366.0" r="0.42"/><circle cx="78.4" cy="364.2" r="0.42"/><circle cx="81.8" cy="389.0" r="0.42"/><circle cx="63.9" cy="404.8" r="0.42"/><circle cx="71.7" cy="375.0" r="0.42"/><circle cx="81.1" cy="368.3" r="0.42"/><circle cx="74.4" cy="370.1" r="0.42"/><circle cx="70.3" cy="381.5" r="0.42"/><circle cx="62.9" cy="375.4" r="0.42"/><circle cx="66.0" cy="367.9" r="0.42"/><circle cx="74.3" cy="390.8" r="0.42"/><circle cx="64.2" cy="399.4" r="0.42"/><circle cx="74.1" cy="373.0" r="0.42"/><circle cx="63.9" cy="409.7" r="0.42"/><circle cx="71.7" cy="379.4" r="0.42"/><circle cx="68.9" cy="398.0" r="0.42"/><circle cx="73.4" cy="407.8" r="0.42"/><circle cx="67.2" cy="387.4" r="0.42"/><circle cx="81.5" cy="371.3" r="0.42"/><circle cx="79.7" cy="379.7" r="0.42"/><circle cx="66.0" cy="398.6" r="0.42"/><circle cx="81.6" cy="368.8" r="0.42"/><circle cx="67.4" cy="410.7" r="0.42"/><circle cx="71.2" cy="375.6" r="0.42"/><circle cx="69.6" cy="395.9" r="0.42"/><circle cx="74.8" cy="363.1" r="0.42"/><circle cx="65.9" cy="410.8" r="0.42"/><circle cx="67.9" cy="388.9" r="0.42"/><circle cx="75.1" cy="395.6" r="0.42"/><circle cx="77.7" cy="369.4" r="0.42"/><circle cx="71.3" cy="397.5" r="0.42"/><circle cx="81.8" cy="386.0" r="0.42"/><circle cx="78.3" cy="392.0" r="0.42"/><circle cx="65.8" cy="374.8" r="0.42"/><circle cx="67.1" cy="365.9" r="0.42"/><circle cx="71.1" cy="398.6" r="0.42"/><circle cx="65.8" cy="390.3" r="0.42"/><circle cx="74.8" cy="362.2" r="0.42"/><circle cx="64.5" cy="392.2" r="0.42"/><circle cx="65.6" cy="365.8" r="0.42"/><circle cx="64.4" cy="410.5" r="0.42"/><circle cx="63.2" cy="393.0" r="0.42"/><circle cx="80.1" cy="362.2" r="0.42"/><circle cx="76.3" cy="359.5" r="0.42"/><circle cx="80.9" cy="385.7" r="0.42"/><circle cx="65.1" cy="367.6" r="0.42"/><circle cx="76.6" cy="404.2" r="0.42"/><circle cx="74.7" cy="387.0" r="0.42"/><circle cx="68.6" cy="392.8" r="0.42"/><circle cx="64.9" cy="413.9" r="0.42"/><circle cx="66.8" cy="392.9" r="0.42"/><circle cx="81.4" cy="395.7" r="0.42"/><circle cx="81.6" cy="391.2" r="0.42"/><circle cx="68.3" cy="370.8" r="0.42"/><circle cx="78.3" cy="382.4" r="0.42"/><circle cx="63.0" cy="389.2" r="0.42"/><circle cx="68.6" cy="366.5" r="0.42"/><circle cx="65.3" cy="393.2" r="0.42"/><circle cx="80.1" cy="402.1" r="0.42"/><circle cx="69.4" cy="370.7" r="0.42"/><circle cx="77.0" cy="403.3" r="0.42"/><circle cx="62.9" cy="410.8" r="0.42"/><circle cx="80.6" cy="389.3" r="0.42"/><circle cx="76.6" cy="363.3" r="0.42"/><circle cx="68.0" cy="396.1" r="0.42"/><circle cx="81.5" cy="372.5" r="0.42"/><circle cx="66.5" cy="376.3" r="0.42"/><circle cx="67.5" cy="396.2" r="0.42"/><circle cx="62.5" cy="376.7" r="0.42"/><circle cx="80.5" cy="372.3" r="0.42"/><circle cx="81.1" cy="401.8" r="0.42"/><circle cx="66.0" cy="387.5" r="0.42"/><circle cx="81.5" cy="358.6" r="0.42"/><circle cx="68.9" cy="396.6" r="0.42"/><circle cx="69.8" cy="384.5" r="0.42"/><circle cx="80.8" cy="392.9" r="0.42"/><circle cx="77.9" cy="369.3" r="0.42"/><circle cx="78.3" cy="367.6" r="0.42"/><circle cx="73.5" cy="390.1" r="0.42"/><circle cx="67.6" cy="391.9" r="0.42"/><circle cx="77.4" cy="400.7" r="0.42"/><circle cx="65.4" cy="375.3" r="0.42"/><circle cx="66.2" cy="408.6" r="0.42"/><circle cx="62.8" cy="385.7" r="0.42"/><circle cx="67.7" cy="364.5" r="0.42"/><circle cx="79.7" cy="358.1" r="0.42"/><circle cx="66.6" cy="407.2" r="0.42"/><circle cx="63.7" cy="387.7" r="0.42"/><circle cx="75.8" cy="383.2" r="0.42"/><circle cx="66.0" cy="390.2" r="0.42"/><circle cx="73.8" cy="374.3" r="0.42"/><circle cx="76.6" cy="365.4" r="0.42"/><circle cx="74.7" cy="399.9" r="0.42"/><circle cx="78.7" cy="388.7" r="0.42"/><circle cx="72.6" cy="388.5" r="0.42"/><circle cx="76.4" cy="394.8" r="0.42"/><circle cx="66.2" cy="398.5" r="0.42"/><circle cx="64.6" cy="370.1" r="0.42"/><circle cx="72.9" cy="390.5" r="0.42"/><circle cx="69.1" cy="363.3" r="0.42"/><circle cx="71.4" cy="396.2" r="0.42"/><circle cx="78.0" cy="372.9" r="0.42"/><circle cx="82.3" cy="396.3" r="0.42"/><circle cx="70.7" cy="369.7" r="0.42"/><circle cx="78.7" cy="361.6" r="0.42"/><circle cx="62.9" cy="398.0" r="0.42"/><circle cx="64.1" cy="402.8" r="0.42"/><circle cx="81.9" cy="373.8" r="0.42"/><circle cx="80.8" cy="383.7" r="0.42"/><circle cx="79.3" cy="381.1" r="0.42"/><circle cx="66.5" cy="373.7" r="0.42"/><circle cx="81.2" cy="396.8" r="0.42"/><circle cx="73.3" cy="376.9" r="0.42"/><circle cx="65.7" cy="392.7" r="0.42"/><circle cx="64.4" cy="401.8" r="0.42"/><circle cx="66.4" cy="381.6" r="0.42"/><circle cx="74.5" cy="395.7" r="0.42"/><circle cx="62.6" cy="396.5" r="0.42"/><circle cx="75.1" cy="396.3" r="0.42"/><circle cx="67.4" cy="400.0" r="0.42"/><circle cx="77.7" cy="377.6" r="0.42"/><circle cx="63.2" cy="408.2" r="0.42"/><circle cx="69.1" cy="382.3" r="0.42"/><circle cx="74.2" cy="402.0" r="0.42"/><circle cx="64.8" cy="378.2" r="0.42"/><circle cx="69.4" cy="394.7" r="0.42"/><circle cx="67.4" cy="365.8" r="0.42"/><circle cx="67.5" cy="382.5" r="0.42"/><circle cx="68.3" cy="388.9" r="0.42"/><circle cx="79.3" cy="358.0" r="0.42"/><circle cx="68.4" cy="399.7" r="0.42"/><circle cx="76.2" cy="394.7" r="0.42"/><circle cx="62.5" cy="370.4" r="0.42"/><circle cx="69.6" cy="370.2" r="0.42"/><circle cx="69.3" cy="367.7" r="0.42"/><circle cx="70.4" cy="400.3" r="0.42"/><circle cx="62.6" cy="385.8" r="0.42"/><circle cx="74.2" cy="364.1" r="0.42"/><circle cx="63.6" cy="382.1" r="0.42"/><circle cx="68.6" cy="384.7" r="0.42"/><circle cx="64.5" cy="397.6" r="0.42"/><circle cx="71.6" cy="364.7" r="0.42"/><circle cx="63.9" cy="387.9" r="0.42"/><circle cx="77.9" cy="359.9" r="0.42"/><circle cx="65.4" cy="405.4" r="0.42"/><circle cx="81.1" cy="357.9" r="0.42"/><circle cx="70.8" cy="406.4" r="0.42"/><circle cx="80.7" cy="383.1" r="0.42"/><circle cx="80.2" cy="373.1" r="0.42"/><circle cx="78.4" cy="395.6" r="0.42"/><circle cx="77.5" cy="392.9" r="0.42"/><circle cx="69.3" cy="369.3" r="0.42"/><circle cx="78.5" cy="394.3" r="0.42"/><circle cx="65.7" cy="391.2" r="0.42"/><circle cx="71.6" cy="388.6" r="0.42"/><circle cx="64.1" cy="399.7" r="0.42"/><circle cx="76.1" cy="363.6" r="0.42"/><circle cx="62.9" cy="385.2" r="0.42"/><circle cx="76.8" cy="403.6" r="0.42"/><circle cx="78.7" cy="397.7" r="0.42"/><circle cx="73.3" cy="379.9" r="0.42"/><circle cx="73.9" cy="390.9" r="0.42"/><circle cx="69.6" cy="380.6" r="0.42"/><circle cx="69.7" cy="377.1" r="0.42"/><circle cx="70.1" cy="386.8" r="0.42"/><circle cx="62.7" cy="382.7" r="0.42"/><circle cx="71.0" cy="396.2" r="0.42"/><circle cx="77.0" cy="368.0" r="0.42"/><circle cx="70.3" cy="399.5" r="0.42"/><circle cx="70.6" cy="403.3" r="0.42"/><circle cx="64.2" cy="390.6" r="0.42"/><circle cx="63.6" cy="390.4" r="0.42"/><circle cx="71.4" cy="406.8" r="0.42"/><circle cx="74.1" cy="402.6" r="0.42"/><circle cx="76.3" cy="368.5" r="0.42"/><circle cx="71.4" cy="405.9" r="0.42"/><circle cx="71.3" cy="389.0" r="0.42"/><circle cx="81.3" cy="395.0" r="0.42"/><circle cx="79.1" cy="358.1" r="0.42"/><circle cx="76.3" cy="367.0" r="0.42"/><circle cx="65.3" cy="365.6" r="0.42"/><circle cx="71.0" cy="363.8" r="0.42"/><circle cx="80.5" cy="394.0" r="0.42"/><circle cx="77.5" cy="361.5" r="0.42"/><circle cx="63.3" cy="395.0" r="0.42"/><circle cx="76.8" cy="396.6" r="0.42"/><circle cx="80.0" cy="388.8" r="0.42"/><circle cx="78.2" cy="396.6" r="0.42"/><circle cx="71.3" cy="365.2" r="0.42"/><circle cx="65.5" cy="398.0" r="0.42"/><circle cx="71.3" cy="391.8" r="0.42"/><circle cx="62.9" cy="403.9" r="0.42"/><circle cx="64.7" cy="367.8" r="0.42"/><circle cx="75.1" cy="364.2" r="0.42"/><circle cx="64.9" cy="374.2" r="0.42"/><circle cx="64.0" cy="386.0" r="0.42"/><circle cx="74.1" cy="388.2" r="0.42"/><circle cx="79.5" cy="376.3" r="0.42"/><circle cx="72.9" cy="365.9" r="0.42"/><circle cx="63.8" cy="365.9" r="0.42"/><circle cx="74.0" cy="386.7" r="0.42"/><circle cx="77.7" cy="390.7" r="0.42"/><circle cx="82.3" cy="373.8" r="0.42"/><circle cx="68.4" cy="373.2" r="0.42"/><circle cx="70.0" cy="399.8" r="0.42"/><circle cx="76.5" cy="403.1" r="0.42"/><circle cx="78.3" cy="390.9" r="0.42"/><circle cx="74.2" cy="361.1" r="0.42"/><circle cx="73.0" cy="375.1" r="0.42"/><circle cx="67.5" cy="412.3" r="0.42"/><circle cx="62.8" cy="405.7" r="0.42"/><circle cx="73.7" cy="385.1" r="0.42"/><circle cx="71.5" cy="366.1" r="0.42"/><circle cx="64.3" cy="400.6" r="0.42"/><circle cx="74.5" cy="406.2" r="0.42"/><circle cx="62.5" cy="395.2" r="0.42"/><circle cx="63.9" cy="394.3" r="0.42"/><circle cx="65.8" cy="382.6" r="0.42"/><circle cx="73.1" cy="396.5" r="0.42"/><circle cx="73.9" cy="383.0" r="0.42"/><circle cx="64.3" cy="368.0" r="0.42"/><circle cx="66.2" cy="403.7" r="0.42"/><circle cx="63.7" cy="381.3" r="0.42"/><circle cx="79.5" cy="366.6" r="0.42"/><circle cx="69.2" cy="395.8" r="0.42"/><circle cx="62.6" cy="381.6" r="0.42"/><circle cx="72.5" cy="389.6" r="0.42"/><circle cx="74.3" cy="384.2" r="0.42"/><circle cx="81.0" cy="367.9" r="0.42"/><circle cx="66.3" cy="368.4" r="0.42"/><circle cx="63.0" cy="386.6" r="0.42"/><circle cx="69.3" cy="397.1" r="0.42"/><circle cx="63.2" cy="375.4" r="0.42"/><circle cx="62.6" cy="385.9" r="0.42"/><circle cx="81.1" cy="394.9" r="0.42"/><circle cx="65.4" cy="381.7" r="0.42"/><circle cx="71.4" cy="377.0" r="0.42"/><circle cx="78.1" cy="395.0" r="0.42"/><circle cx="67.4" cy="395.1" r="0.42"/><circle cx="63.0" cy="370.7" r="0.42"/><circle cx="77.4" cy="370.5" r="0.42"/><circle cx="62.5" cy="372.9" r="0.42"/><circle cx="76.6" cy="381.9" r="0.42"/><circle cx="76.5" cy="382.6" r="0.42"/><circle cx="65.9" cy="406.4" r="0.42"/><circle cx="66.0" cy="410.4" r="0.42"/><circle cx="67.9" cy="374.1" r="0.42"/><circle cx="75.4" cy="366.1" r="0.42"/><circle cx="75.8" cy="391.8" r="0.42"/><circle cx="72.3" cy="385.7" r="0.42"/><circle cx="77.5" cy="378.8" r="0.42"/><circle cx="66.6" cy="379.6" r="0.42"/></g>
<g fill="#0a0a0a"><circle cx="60.8" cy="373.8" r="0.55"/><circle cx="58.7" cy="424.5" r="0.55"/><circle cx="57.1" cy="419.7" r="0.55"/><circle cx="61.1" cy="375.8" r="0.55"/><circle cx="58.6" cy="392.6" r="0.55"/><circle cx="58.9" cy="417.2" r="0.55"/><circle cx="58.1" cy="420.4" r="0.55"/><circle cx="58.3" cy="396.6" r="0.55"/><circle cx="59.4" cy="398.6" r="0.55"/><circle cx="59.7" cy="385.1" r="0.55"/><circle cx="59.3" cy="396.3" r="0.55"/><circle cx="58.5" cy="394.3" r="0.55"/><circle cx="58.0" cy="404.8" r="0.55"/><circle cx="58.9" cy="401.5" r="0.55"/><circle cx="57.1" cy="424.0" r="0.55"/><circle cx="56.3" cy="424.4" r="0.55"/><circle cx="57.5" cy="423.5" r="0.55"/><circle cx="56.3" cy="422.9" r="0.55"/><circle cx="58.2" cy="424.4" r="0.55"/><circle cx="58.8" cy="400.7" r="0.55"/><circle cx="58.8" cy="396.3" r="0.55"/><circle cx="58.0" cy="403.6" r="0.55"/><circle cx="58.0" cy="415.8" r="0.55"/><circle cx="59.4" cy="380.6" r="0.55"/><circle cx="58.2" cy="424.1" r="0.55"/><circle cx="59.9" cy="375.8" r="0.55"/><circle cx="56.8" cy="423.5" r="0.55"/><circle cx="57.1" cy="424.4" r="0.55"/><circle cx="60.1" cy="384.4" r="0.55"/><circle cx="59.0" cy="386.3" r="0.55"/><circle cx="58.4" cy="400.9" r="0.55"/><circle cx="57.1" cy="423.7" r="0.55"/><circle cx="59.4" cy="391.8" r="0.55"/><circle cx="58.3" cy="413.0" r="0.55"/><circle cx="56.6" cy="424.4" r="0.55"/><circle cx="59.5" cy="394.9" r="0.55"/><circle cx="56.3" cy="415.6" r="0.55"/><circle cx="59.8" cy="408.8" r="0.55"/><circle cx="59.7" cy="384.1" r="0.55"/><circle cx="57.3" cy="413.5" r="0.55"/><circle cx="57.7" cy="412.4" r="0.55"/><circle cx="58.3" cy="395.7" r="0.55"/><circle cx="58.3" cy="406.8" r="0.55"/><circle cx="58.7" cy="423.8" r="0.55"/><circle cx="59.6" cy="386.7" r="0.55"/><circle cx="56.9" cy="421.5" r="0.55"/><circle cx="59.3" cy="391.4" r="0.55"/><circle cx="57.8" cy="409.5" r="0.55"/><circle cx="58.0" cy="409.5" r="0.55"/><circle cx="57.3" cy="409.3" r="0.55"/><circle cx="57.6" cy="416.5" r="0.55"/><circle cx="60.2" cy="375.8" r="0.55"/><circle cx="57.4" cy="418.9" r="0.55"/><circle cx="59.1" cy="409.1" r="0.55"/><circle cx="56.4" cy="423.5" r="0.55"/><circle cx="59.2" cy="389.3" r="0.55"/><circle cx="59.1" cy="396.3" r="0.55"/><circle cx="56.0" cy="416.1" r="0.55"/><circle cx="55.9" cy="414.1" r="0.55"/><circle cx="58.0" cy="423.8" r="0.55"/><circle cx="60.4" cy="380.9" r="0.55"/><circle cx="57.1" cy="419.6" r="0.55"/><circle cx="59.7" cy="379.7" r="0.55"/><circle cx="60.0" cy="381.2" r="0.55"/><circle cx="55.7" cy="420.6" r="0.55"/><circle cx="59.4" cy="392.0" r="0.55"/><circle cx="58.8" cy="392.1" r="0.55"/><circle cx="56.5" cy="417.3" r="0.55"/><circle cx="57.6" cy="422.6" r="0.55"/><circle cx="58.4" cy="392.9" r="0.55"/><circle cx="55.1" cy="422.3" r="0.55"/><circle cx="58.7" cy="404.3" r="0.55"/><circle cx="54.6" cy="423.2" r="0.55"/><circle cx="57.4" cy="420.4" r="0.55"/><circle cx="56.3" cy="421.7" r="0.55"/><circle cx="60.5" cy="384.7" r="0.55"/><circle cx="57.2" cy="422.6" r="0.55"/><circle cx="57.8" cy="417.3" r="0.55"/><circle cx="58.3" cy="407.7" r="0.55"/><circle cx="57.6" cy="421.8" r="0.55"/><circle cx="60.7" cy="372.9" r="0.55"/><circle cx="60.5" cy="374.1" r="0.55"/><circle cx="54.4" cy="423.6" r="0.55"/><circle cx="60.5" cy="388.8" r="0.55"/><circle cx="58.7" cy="393.6" r="0.55"/><circle cx="58.7" cy="400.5" r="0.55"/><circle cx="57.0" cy="423.5" r="0.55"/><circle cx="57.6" cy="424.4" r="0.55"/><circle cx="57.8" cy="414.2" r="0.55"/><circle cx="56.6" cy="409.0" r="0.55"/><circle cx="58.1" cy="400.8" r="0.55"/><circle cx="58.4" cy="402.7" r="0.55"/><circle cx="57.3" cy="413.9" r="0.55"/><circle cx="55.6" cy="412.7" r="0.55"/><circle cx="58.2" cy="404.6" r="0.55"/><circle cx="55.9" cy="420.7" r="0.55"/><circle cx="59.8" cy="394.4" r="0.55"/><circle cx="58.1" cy="396.1" r="0.55"/><circle cx="59.5" cy="384.0" r="0.55"/><circle cx="56.5" cy="411.5" r="0.55"/><circle cx="56.8" cy="417.8" r="0.55"/><circle cx="57.2" cy="413.2" r="0.55"/><circle cx="59.2" cy="389.8" r="0.55"/><circle cx="55.6" cy="420.0" r="0.55"/><circle cx="56.3" cy="413.0" r="0.55"/><circle cx="57.8" cy="413.7" r="0.55"/><circle cx="59.1" cy="397.9" r="0.55"/><circle cx="58.4" cy="399.3" r="0.55"/><circle cx="58.8" cy="390.1" r="0.55"/><circle cx="61.0" cy="372.9" r="0.55"/><circle cx="56.0" cy="424.3" r="0.55"/><circle cx="59.3" cy="389.8" r="0.55"/><circle cx="60.3" cy="376.1" r="0.55"/><circle cx="58.1" cy="404.6" r="0.55"/><circle cx="57.8" cy="406.6" r="0.55"/><circle cx="57.7" cy="400.4" r="0.55"/><circle cx="59.1" cy="386.0" r="0.55"/><circle cx="60.5" cy="375.5" r="0.55"/><circle cx="56.5" cy="421.2" r="0.55"/><circle cx="58.7" cy="391.3" r="0.55"/><circle cx="57.7" cy="423.3" r="0.55"/><circle cx="56.5" cy="424.2" r="0.55"/><circle cx="56.9" cy="419.2" r="0.55"/><circle cx="57.6" cy="413.2" r="0.55"/><circle cx="57.2" cy="413.1" r="0.55"/><circle cx="56.1" cy="419.5" r="0.55"/><circle cx="56.8" cy="420.8" r="0.55"/><circle cx="56.0" cy="407.4" r="0.55"/><circle cx="57.2" cy="421.0" r="0.55"/><circle cx="55.9" cy="421.2" r="0.55"/><circle cx="57.0" cy="423.1" r="0.55"/><circle cx="57.2" cy="400.7" r="0.55"/><circle cx="57.1" cy="410.7" r="0.55"/><circle cx="60.5" cy="374.0" r="0.55"/><circle cx="56.1" cy="416.2" r="0.55"/><circle cx="58.8" cy="387.0" r="0.55"/><circle cx="57.4" cy="410.7" r="0.55"/><circle cx="58.0" cy="423.2" r="0.55"/><circle cx="59.1" cy="385.6" r="0.55"/><circle cx="58.5" cy="419.5" r="0.55"/><circle cx="57.3" cy="415.2" r="0.55"/><circle cx="57.9" cy="421.9" r="0.55"/><circle cx="56.4" cy="424.5" r="0.55"/><circle cx="56.1" cy="420.2" r="0.55"/><circle cx="56.1" cy="418.2" r="0.55"/><circle cx="58.6" cy="400.5" r="0.55"/><circle cx="57.6" cy="399.0" r="0.55"/><circle cx="60.7" cy="383.8" r="0.55"/><circle cx="57.7" cy="424.2" r="0.55"/><circle cx="58.3" cy="389.7" r="0.55"/><circle cx="57.4" cy="422.9" r="0.55"/><circle cx="55.3" cy="424.5" r="0.55"/><circle cx="58.1" cy="424.5" r="0.55"/><circle cx="56.5" cy="420.0" r="0.55"/><circle cx="57.1" cy="423.6" r="0.55"/><circle cx="59.7" cy="390.3" r="0.55"/><circle cx="58.4" cy="416.5" r="0.55"/><circle cx="60.4" cy="389.0" r="0.55"/><circle cx="57.9" cy="422.3" r="0.55"/><circle cx="58.9" cy="389.9" r="0.55"/><circle cx="59.6" cy="398.3" r="0.55"/><circle cx="59.2" cy="385.1" r="0.55"/><circle cx="56.4" cy="421.6" r="0.55"/><circle cx="58.4" cy="392.9" r="0.55"/><circle cx="58.4" cy="412.3" r="0.55"/><circle cx="56.2" cy="419.6" r="0.55"/><circle cx="57.7" cy="420.5" r="0.55"/><circle cx="57.6" cy="424.2" r="0.55"/><circle cx="58.3" cy="410.8" r="0.55"/><circle cx="58.6" cy="409.1" r="0.55"/><circle cx="58.1" cy="406.7" r="0.55"/><circle cx="59.7" cy="385.0" r="0.55"/><circle cx="56.5" cy="410.7" r="0.55"/><circle cx="59.5" cy="385.0" r="0.55"/><circle cx="55.3" cy="415.3" r="0.55"/><circle cx="57.9" cy="424.0" r="0.55"/><circle cx="58.4" cy="400.5" r="0.55"/><circle cx="58.2" cy="402.3" r="0.55"/><circle cx="59.3" cy="397.3" r="0.55"/><circle cx="60.6" cy="372.3" r="0.55"/><circle cx="56.1" cy="408.4" r="0.55"/><circle cx="56.8" cy="424.4" r="0.55"/><circle cx="58.6" cy="394.7" r="0.55"/><circle cx="59.6" cy="383.2" r="0.55"/><circle cx="56.2" cy="415.6" r="0.55"/><circle cx="59.4" cy="390.7" r="0.55"/><circle cx="55.9" cy="421.2" r="0.55"/><circle cx="58.4" cy="405.8" r="0.55"/><circle cx="59.4" cy="386.2" r="0.55"/><circle cx="59.1" cy="413.9" r="0.55"/><circle cx="57.7" cy="408.8" r="0.55"/><circle cx="61.1" cy="372.9" r="0.55"/><circle cx="58.8" cy="399.3" r="0.55"/><circle cx="56.3" cy="417.7" r="0.55"/><circle cx="55.9" cy="418.3" r="0.55"/><circle cx="59.0" cy="389.6" r="0.55"/><circle cx="56.2" cy="424.3" r="0.55"/><circle cx="56.4" cy="406.4" r="0.55"/><circle cx="56.6" cy="424.3" r="0.55"/><circle cx="56.9" cy="421.8" r="0.55"/><circle cx="59.9" cy="377.9" r="0.55"/><circle cx="58.9" cy="389.3" r="0.55"/><circle cx="59.8" cy="378.9" r="0.55"/><circle cx="57.8" cy="401.2" r="0.55"/><circle cx="58.0" cy="396.3" r="0.55"/><circle cx="56.0" cy="421.2" r="0.55"/><circle cx="57.5" cy="398.4" r="0.55"/><circle cx="57.1" cy="423.6" r="0.55"/><circle cx="58.5" cy="422.0" r="0.55"/><circle cx="60.4" cy="378.6" r="0.55"/><circle cx="57.7" cy="399.2" r="0.55"/><circle cx="60.2" cy="389.4" r="0.55"/><circle cx="58.1" cy="405.4" r="0.55"/><circle cx="58.3" cy="413.1" r="0.55"/><circle cx="55.9" cy="417.6" r="0.55"/><circle cx="60.6" cy="376.8" r="0.55"/><circle cx="56.4" cy="424.2" r="0.55"/><circle cx="56.6" cy="423.3" r="0.55"/><circle cx="58.5" cy="387.5" r="0.55"/><circle cx="56.7" cy="411.9" r="0.55"/><circle cx="55.5" cy="424.5" r="0.55"/><circle cx="60.8" cy="376.4" r="0.55"/><circle cx="60.4" cy="372.4" r="0.55"/><circle cx="56.8" cy="423.6" r="0.55"/><circle cx="58.6" cy="400.0" r="0.55"/><circle cx="57.2" cy="424.5" r="0.55"/><circle cx="56.4" cy="424.5" r="0.55"/><circle cx="60.5" cy="373.7" r="0.55"/><circle cx="57.0" cy="423.8" r="0.55"/><circle cx="56.2" cy="424.5" r="0.55"/><circle cx="59.0" cy="394.7" r="0.55"/><circle cx="58.5" cy="421.8" r="0.55"/><circle cx="56.9" cy="424.3" r="0.55"/><circle cx="59.1" cy="383.7" r="0.55"/><circle cx="59.8" cy="393.9" r="0.55"/><circle cx="59.4" cy="395.4" r="0.55"/><circle cx="58.3" cy="411.1" r="0.55"/><circle cx="60.5" cy="373.9" r="0.55"/><circle cx="59.1" cy="394.8" r="0.55"/><circle cx="58.6" cy="399.6" r="0.55"/><circle cx="60.0" cy="386.9" r="0.55"/><circle cx="59.3" cy="393.9" r="0.55"/><circle cx="57.5" cy="422.4" r="0.55"/><circle cx="55.7" cy="424.2" r="0.55"/><circle cx="56.4" cy="415.6" r="0.55"/><circle cx="58.4" cy="397.8" r="0.55"/><circle cx="57.0" cy="422.8" r="0.55"/><circle cx="57.9" cy="400.0" r="0.55"/><circle cx="57.8" cy="401.0" r="0.55"/><circle cx="59.7" cy="389.5" r="0.55"/><circle cx="60.6" cy="375.7" r="0.55"/><circle cx="55.8" cy="418.6" r="0.55"/><circle cx="58.2" cy="424.2" r="0.55"/><circle cx="59.5" cy="386.1" r="0.55"/><circle cx="55.1" cy="417.1" r="0.55"/><circle cx="58.8" cy="385.8" r="0.55"/><circle cx="58.0" cy="402.9" r="0.55"/><circle cx="60.5" cy="380.9" r="0.55"/><circle cx="56.8" cy="415.2" r="0.55"/><circle cx="59.6" cy="380.2" r="0.55"/><circle cx="59.5" cy="387.8" r="0.55"/><circle cx="57.0" cy="419.6" r="0.55"/><circle cx="56.1" cy="413.0" r="0.55"/><circle cx="59.6" cy="380.9" r="0.55"/><circle cx="57.6" cy="424.3" r="0.55"/><circle cx="59.2" cy="382.7" r="0.55"/><circle cx="57.9" cy="404.7" r="0.55"/><circle cx="60.6" cy="387.8" r="0.55"/><circle cx="59.3" cy="397.2" r="0.55"/><circle cx="56.2" cy="423.9" r="0.55"/><circle cx="58.2" cy="405.9" r="0.55"/><circle cx="58.8" cy="392.3" r="0.55"/><circle cx="60.4" cy="377.0" r="0.55"/><circle cx="59.7" cy="397.7" r="0.55"/><circle cx="57.9" cy="410.9" r="0.55"/><circle cx="59.6" cy="392.2" r="0.55"/><circle cx="59.2" cy="389.0" r="0.55"/><circle cx="59.6" cy="387.8" r="0.55"/><circle cx="59.4" cy="390.6" r="0.55"/><circle cx="60.7" cy="380.1" r="0.55"/><circle cx="59.5" cy="381.2" r="0.55"/><circle cx="58.1" cy="403.7" r="0.55"/><circle cx="57.0" cy="421.8" r="0.55"/><circle cx="59.3" cy="396.0" r="0.55"/><circle cx="56.4" cy="415.8" r="0.55"/><circle cx="57.6" cy="408.0" r="0.55"/><circle cx="60.1" cy="422.7" r="0.55"/><circle cx="58.2" cy="415.3" r="0.55"/><circle cx="55.5" cy="423.5" r="0.55"/><circle cx="55.4" cy="422.6" r="0.55"/><circle cx="57.8" cy="403.1" r="0.55"/><circle cx="57.7" cy="424.5" r="0.55"/><circle cx="58.7" cy="424.4" r="0.55"/><circle cx="57.7" cy="409.7" r="0.55"/><circle cx="58.1" cy="405.0" r="0.55"/><circle cx="59.1" cy="412.9" r="0.55"/><circle cx="60.6" cy="375.6" r="0.55"/><circle cx="60.0" cy="374.0" r="0.55"/><circle cx="57.6" cy="419.9" r="0.55"/><circle cx="57.0" cy="422.0" r="0.55"/><circle cx="57.9" cy="423.9" r="0.55"/><circle cx="60.1" cy="382.4" r="0.55"/><circle cx="59.5" cy="411.2" r="0.55"/><circle cx="55.9" cy="424.1" r="0.55"/><circle cx="58.0" cy="403.1" r="0.55"/><circle cx="60.7" cy="374.4" r="0.55"/><circle cx="55.7" cy="419.8" r="0.55"/><circle cx="60.4" cy="374.7" r="0.55"/><circle cx="58.1" cy="398.3" r="0.55"/><circle cx="57.5" cy="422.5" r="0.55"/><circle cx="60.9" cy="373.8" r="0.55"/><circle cx="56.6" cy="424.3" r="0.55"/><circle cx="55.7" cy="419.9" r="0.55"/><circle cx="60.9" cy="379.4" r="0.55"/><circle cx="60.6" cy="385.3" r="0.55"/><circle cx="59.2" cy="395.4" r="0.55"/><circle cx="58.8" cy="399.9" r="0.55"/><circle cx="56.7" cy="422.8" r="0.55"/><circle cx="60.0" cy="391.9" r="0.55"/><circle cx="56.5" cy="418.4" r="0.55"/><circle cx="58.3" cy="403.5" r="0.55"/><circle cx="56.7" cy="417.4" r="0.55"/><circle cx="57.8" cy="419.8" r="0.55"/><circle cx="57.6" cy="422.3" r="0.55"/><circle cx="57.9" cy="420.4" r="0.55"/><circle cx="57.8" cy="424.5" r="0.55"/><circle cx="59.0" cy="394.8" r="0.55"/><circle cx="60.5" cy="377.3" r="0.55"/><circle cx="58.7" cy="420.9" r="0.55"/><circle cx="59.7" cy="380.8" r="0.55"/><circle cx="56.3" cy="422.9" r="0.55"/><circle cx="60.4" cy="377.2" r="0.55"/><circle cx="59.4" cy="384.9" r="0.55"/><circle cx="56.5" cy="416.8" r="0.55"/><circle cx="58.9" cy="386.5" r="0.55"/><circle cx="56.9" cy="422.9" r="0.55"/><circle cx="58.4" cy="420.9" r="0.55"/><circle cx="58.5" cy="405.9" r="0.55"/><circle cx="57.3" cy="422.8" r="0.55"/><circle cx="57.0" cy="413.6" r="0.55"/><circle cx="56.5" cy="422.6" r="0.55"/><circle cx="59.0" cy="417.0" r="0.55"/><circle cx="55.9" cy="422.3" r="0.55"/><circle cx="60.2" cy="379.5" r="0.55"/><circle cx="57.0" cy="423.4" r="0.55"/><circle cx="60.1" cy="380.3" r="0.55"/><circle cx="58.9" cy="398.4" r="0.55"/><circle cx="58.1" cy="418.8" r="0.55"/><circle cx="57.3" cy="419.8" r="0.55"/><circle cx="61.1" cy="371.4" r="0.55"/><circle cx="61.0" cy="370.7" r="0.55"/><circle cx="56.9" cy="418.7" r="0.55"/><circle cx="60.8" cy="380.2" r="0.55"/><circle cx="57.6" cy="418.6" r="0.55"/><circle cx="61.3" cy="372.6" r="0.55"/><circle cx="57.4" cy="416.7" r="0.55"/><circle cx="58.7" cy="422.9" r="0.55"/><circle cx="58.0" cy="407.5" r="0.55"/><circle cx="54.8" cy="421.9" r="0.55"/><circle cx="57.8" cy="421.0" r="0.55"/><circle cx="58.5" cy="404.8" r="0.55"/><circle cx="59.6" cy="390.7" r="0.55"/><circle cx="59.0" cy="395.2" r="0.55"/><circle cx="57.1" cy="423.8" r="0.55"/><circle cx="57.8" cy="402.4" r="0.55"/><circle cx="56.9" cy="421.4" r="0.55"/><circle cx="58.0" cy="402.2" r="0.55"/><circle cx="56.9" cy="404.1" r="0.55"/><circle cx="58.3" cy="421.5" r="0.55"/><circle cx="58.0" cy="413.7" r="0.55"/><circle cx="60.1" cy="394.5" r="0.55"/><circle cx="57.8" cy="416.9" r="0.55"/><circle cx="60.1" cy="384.9" r="0.55"/><circle cx="55.7" cy="424.5" r="0.55"/><circle cx="59.4" cy="378.9" r="0.55"/><circle cx="57.3" cy="419.5" r="0.55"/><circle cx="57.3" cy="421.9" r="0.55"/><circle cx="55.9" cy="422.4" r="0.55"/><circle cx="57.2" cy="415.4" r="0.55"/><circle cx="57.9" cy="407.9" r="0.55"/><circle cx="57.2" cy="411.9" r="0.55"/><circle cx="58.9" cy="395.0" r="0.55"/><circle cx="59.9" cy="387.0" r="0.55"/><circle cx="58.5" cy="395.3" r="0.55"/><circle cx="57.4" cy="415.0" r="0.55"/><circle cx="59.8" cy="382.2" r="0.55"/><circle cx="60.1" cy="374.9" r="0.55"/><circle cx="58.0" cy="407.2" r="0.55"/><circle cx="60.1" cy="406.8" r="0.55"/><circle cx="57.2" cy="420.9" r="0.55"/><circle cx="57.4" cy="422.0" r="0.55"/><circle cx="59.8" cy="387.0" r="0.55"/><circle cx="57.9" cy="424.4" r="0.55"/><circle cx="57.7" cy="421.7" r="0.55"/><circle cx="55.5" cy="424.5" r="0.55"/><circle cx="57.3" cy="407.7" r="0.55"/><circle cx="59.9" cy="395.9" r="0.55"/><circle cx="59.7" cy="394.8" r="0.55"/><circle cx="57.5" cy="424.3" r="0.55"/><circle cx="58.5" cy="409.0" r="0.55"/><circle cx="57.7" cy="419.1" r="0.55"/><circle cx="57.4" cy="423.0" r="0.55"/><circle cx="58.5" cy="403.5" r="0.55"/><circle cx="57.8" cy="404.7" r="0.55"/><circle cx="59.7" cy="392.6" r="0.55"/><circle cx="61.0" cy="376.4" r="0.55"/><circle cx="55.9" cy="414.6" r="0.55"/><circle cx="58.7" cy="407.5" r="0.55"/><circle cx="58.9" cy="414.3" r="0.55"/><circle cx="56.6" cy="416.8" r="0.55"/><circle cx="56.4" cy="420.4" r="0.55"/><circle cx="61.1" cy="372.3" r="0.55"/><circle cx="60.4" cy="388.0" r="0.55"/><circle cx="59.3" cy="384.4" r="0.55"/><circle cx="54.0" cy="424.2" r="0.55"/><circle cx="60.3" cy="376.7" r="0.55"/><circle cx="55.7" cy="420.1" r="0.55"/><circle cx="57.9" cy="415.7" r="0.55"/><circle cx="58.8" cy="407.2" r="0.55"/><circle cx="58.2" cy="408.7" r="0.55"/><circle cx="58.4" cy="424.4" r="0.55"/><circle cx="60.5" cy="390.2" r="0.55"/><circle cx="60.0" cy="376.5" r="0.55"/><circle cx="59.4" cy="381.2" r="0.55"/><circle cx="60.7" cy="381.2" r="0.55"/><circle cx="57.3" cy="419.5" r="0.55"/><circle cx="58.6" cy="397.6" r="0.55"/><circle cx="60.8" cy="377.6" r="0.55"/><circle cx="58.4" cy="401.6" r="0.55"/><circle cx="58.6" cy="412.5" r="0.55"/><circle cx="60.5" cy="375.2" r="0.55"/><circle cx="59.2" cy="399.8" r="0.55"/><circle cx="54.6" cy="423.3" r="0.55"/><circle cx="56.7" cy="408.2" r="0.55"/><circle cx="55.8" cy="419.4" r="0.55"/><circle cx="57.0" cy="422.8" r="0.55"/><circle cx="57.3" cy="423.2" r="0.55"/><circle cx="58.0" cy="413.8" r="0.55"/><circle cx="57.1" cy="418.7" r="0.55"/><circle cx="58.4" cy="406.3" r="0.55"/><circle cx="59.2" cy="385.1" r="0.55"/><circle cx="58.0" cy="399.6" r="0.55"/><circle cx="56.6" cy="421.5" r="0.55"/><circle cx="57.2" cy="406.2" r="0.55"/><circle cx="57.8" cy="402.1" r="0.55"/><circle cx="57.1" cy="420.3" r="0.55"/><circle cx="55.9" cy="420.9" r="0.55"/><circle cx="58.2" cy="403.9" r="0.55"/><circle cx="55.3" cy="424.5" r="0.55"/><circle cx="58.5" cy="420.4" r="0.55"/><circle cx="57.5" cy="405.7" r="0.55"/><circle cx="60.8" cy="371.7" r="0.55"/><circle cx="57.2" cy="418.5" r="0.55"/><circle cx="56.0" cy="424.1" r="0.55"/><circle cx="59.8" cy="382.4" r="0.55"/><circle cx="57.5" cy="414.7" r="0.55"/><circle cx="57.5" cy="412.2" r="0.55"/><circle cx="56.4" cy="420.8" r="0.55"/><circle cx="60.6" cy="374.4" r="0.55"/><circle cx="56.7" cy="416.9" r="0.55"/><circle cx="56.7" cy="416.2" r="0.55"/><circle cx="59.2" cy="384.2" r="0.55"/><circle cx="58.8" cy="386.6" r="0.55"/><circle cx="59.0" cy="392.8" r="0.55"/><circle cx="58.2" cy="391.6" r="0.55"/><circle cx="59.1" cy="395.5" r="0.55"/><circle cx="60.8" cy="378.5" r="0.55"/><circle cx="58.1" cy="424.5" r="0.55"/><circle cx="58.7" cy="391.1" r="0.55"/><circle cx="60.4" cy="374.1" r="0.55"/><circle cx="57.0" cy="404.7" r="0.55"/><circle cx="60.4" cy="382.2" r="0.55"/><circle cx="57.8" cy="402.5" r="0.55"/><circle cx="58.3" cy="411.3" r="0.55"/><circle cx="58.8" cy="394.4" r="0.55"/><circle cx="58.8" cy="405.8" r="0.55"/><circle cx="56.7" cy="414.8" r="0.55"/><circle cx="60.6" cy="384.2" r="0.55"/><circle cx="57.3" cy="409.0" r="0.55"/><circle cx="57.3" cy="418.2" r="0.55"/><circle cx="55.5" cy="422.8" r="0.55"/><circle cx="56.0" cy="423.8" r="0.55"/><circle cx="60.0" cy="378.0" r="0.55"/><circle cx="60.6" cy="385.2" r="0.55"/><circle cx="60.7" cy="374.4" r="0.55"/><circle cx="60.7" cy="378.9" r="0.55"/><circle cx="57.9" cy="424.5" r="0.55"/><circle cx="58.1" cy="409.1" r="0.55"/><circle cx="60.4" cy="378.0" r="0.55"/><circle cx="60.5" cy="370.7" r="0.55"/><circle cx="56.7" cy="408.0" r="0.55"/><circle cx="57.2" cy="414.6" r="0.55"/><circle cx="56.6" cy="416.0" r="0.55"/><circle cx="60.3" cy="375.5" r="0.55"/><circle cx="58.4" cy="397.8" r="0.55"/><circle cx="57.3" cy="415.3" r="0.55"/><circle cx="56.3" cy="414.1" r="0.55"/><circle cx="59.8" cy="381.6" r="0.55"/><circle cx="60.3" cy="373.9" r="0.55"/><circle cx="58.5" cy="401.4" r="0.55"/><circle cx="60.7" cy="370.9" r="0.55"/><circle cx="60.1" cy="387.1" r="0.55"/><circle cx="55.6" cy="422.3" r="0.55"/><circle cx="61.0" cy="386.2" r="0.55"/><circle cx="59.2" cy="408.3" r="0.55"/><circle cx="59.7" cy="396.8" r="0.55"/><circle cx="60.7" cy="386.7" r="0.55"/><circle cx="57.4" cy="413.1" r="0.55"/><circle cx="56.4" cy="422.6" r="0.55"/><circle cx="58.8" cy="408.7" r="0.55"/><circle cx="57.4" cy="421.8" r="0.55"/><circle cx="59.3" cy="402.8" r="0.55"/><circle cx="58.6" cy="416.2" r="0.55"/><circle cx="56.6" cy="424.3" r="0.55"/><circle cx="57.6" cy="413.6" r="0.55"/><circle cx="58.3" cy="396.8" r="0.55"/><circle cx="55.9" cy="424.5" r="0.55"/><circle cx="59.6" cy="403.9" r="0.55"/><circle cx="58.9" cy="398.4" r="0.55"/><circle cx="59.0" cy="405.9" r="0.55"/><circle cx="56.3" cy="419.5" r="0.55"/><circle cx="60.6" cy="370.8" r="0.55"/><circle cx="57.9" cy="404.6" r="0.55"/><circle cx="57.0" cy="422.6" r="0.55"/><circle cx="59.4" cy="391.6" r="0.55"/><circle cx="57.1" cy="422.3" r="0.55"/><circle cx="58.4" cy="407.7" r="0.55"/><circle cx="58.9" cy="387.8" r="0.55"/><circle cx="58.4" cy="424.1" r="0.55"/><circle cx="57.3" cy="417.4" r="0.55"/><circle cx="58.7" cy="394.9" r="0.55"/><circle cx="57.5" cy="419.5" r="0.55"/><circle cx="57.8" cy="423.7" r="0.55"/><circle cx="56.5" cy="416.4" r="0.55"/><circle cx="57.4" cy="411.7" r="0.55"/><circle cx="60.2" cy="380.7" r="0.55"/><circle cx="59.0" cy="404.1" r="0.55"/><circle cx="58.2" cy="401.6" r="0.55"/><circle cx="59.2" cy="420.1" r="0.55"/><circle cx="60.1" cy="383.8" r="0.55"/><circle cx="58.6" cy="417.8" r="0.55"/><circle cx="56.1" cy="418.2" r="0.55"/><circle cx="59.2" cy="402.8" r="0.55"/><circle cx="60.4" cy="375.3" r="0.55"/><circle cx="55.7" cy="420.3" r="0.55"/><circle cx="57.9" cy="420.9" r="0.55"/><circle cx="57.9" cy="418.0" r="0.55"/><circle cx="59.0" cy="388.9" r="0.55"/><circle cx="57.4" cy="420.3" r="0.55"/><circle cx="57.7" cy="421.9" r="0.55"/><circle cx="60.6" cy="373.2" r="0.55"/><circle cx="58.0" cy="423.4" r="0.55"/><circle cx="57.4" cy="407.1" r="0.55"/><circle cx="57.3" cy="424.1" r="0.55"/><circle cx="57.1" cy="423.3" r="0.55"/><circle cx="56.1" cy="420.2" r="0.55"/><circle cx="56.7" cy="421.8" r="0.55"/><circle cx="57.4" cy="424.4" r="0.55"/><circle cx="58.4" cy="398.6" r="0.55"/><circle cx="59.2" cy="395.7" r="0.55"/><circle cx="56.4" cy="423.8" r="0.55"/><circle cx="58.6" cy="423.2" r="0.55"/><circle cx="58.4" cy="412.0" r="0.55"/><circle cx="55.2" cy="422.5" r="0.55"/><circle cx="57.1" cy="416.2" r="0.55"/><circle cx="60.2" cy="374.5" r="0.55"/><circle cx="58.0" cy="421.3" r="0.55"/><circle cx="56.5" cy="420.7" r="0.55"/><circle cx="58.6" cy="411.5" r="0.55"/><circle cx="58.1" cy="419.7" r="0.55"/><circle cx="59.8" cy="379.9" r="0.55"/><circle cx="56.4" cy="420.2" r="0.55"/><circle cx="58.7" cy="402.4" r="0.55"/><circle cx="58.7" cy="423.3" r="0.55"/><circle cx="57.3" cy="408.3" r="0.55"/><circle cx="59.2" cy="390.6" r="0.55"/><circle cx="56.7" cy="414.8" r="0.55"/><circle cx="56.1" cy="417.9" r="0.55"/><circle cx="57.9" cy="414.6" r="0.55"/><circle cx="60.0" cy="384.1" r="0.55"/><circle cx="56.9" cy="417.5" r="0.55"/><circle cx="57.8" cy="405.4" r="0.55"/><circle cx="56.5" cy="415.9" r="0.55"/><circle cx="56.6" cy="424.1" r="0.55"/><circle cx="57.2" cy="417.9" r="0.55"/><circle cx="59.3" cy="394.9" r="0.55"/><circle cx="55.3" cy="419.0" r="0.55"/><circle cx="60.0" cy="390.4" r="0.55"/><circle cx="60.2" cy="381.4" r="0.55"/><circle cx="56.6" cy="419.2" r="0.55"/><circle cx="55.9" cy="424.4" r="0.55"/><circle cx="56.0" cy="416.3" r="0.55"/><circle cx="56.7" cy="413.5" r="0.55"/><circle cx="55.7" cy="420.1" r="0.55"/><circle cx="59.4" cy="384.5" r="0.55"/><circle cx="57.9" cy="422.0" r="0.55"/><circle cx="58.1" cy="423.4" r="0.55"/><circle cx="58.4" cy="395.2" r="0.55"/><circle cx="57.2" cy="424.3" r="0.55"/><circle cx="57.0" cy="421.6" r="0.55"/><circle cx="56.9" cy="418.2" r="0.55"/><circle cx="57.3" cy="417.9" r="0.55"/><circle cx="59.1" cy="400.4" r="0.55"/><circle cx="59.5" cy="404.9" r="0.55"/><circle cx="58.9" cy="394.9" r="0.55"/><circle cx="59.5" cy="397.2" r="0.55"/><circle cx="59.0" cy="416.4" r="0.55"/><circle cx="59.3" cy="390.3" r="0.55"/><circle cx="58.9" cy="418.8" r="0.55"/><circle cx="58.7" cy="402.5" r="0.55"/><circle cx="56.6" cy="424.3" r="0.55"/><circle cx="59.7" cy="389.1" r="0.55"/><circle cx="58.3" cy="421.2" r="0.55"/><circle cx="55.8" cy="423.8" r="0.55"/><circle cx="58.0" cy="396.5" r="0.55"/><circle cx="60.2" cy="386.0" r="0.55"/><circle cx="59.0" cy="419.0" r="0.55"/><circle cx="58.7" cy="413.0" r="0.55"/><circle cx="60.1" cy="377.1" r="0.55"/><circle cx="58.9" cy="385.9" r="0.55"/><circle cx="58.2" cy="401.1" r="0.55"/><circle cx="58.9" cy="396.2" r="0.55"/><circle cx="55.5" cy="412.8" r="0.55"/><circle cx="56.5" cy="423.2" r="0.55"/><circle cx="60.1" cy="391.4" r="0.55"/><circle cx="59.7" cy="387.9" r="0.55"/><circle cx="54.5" cy="419.7" r="0.55"/><circle cx="58.0" cy="400.5" r="0.55"/><circle cx="58.0" cy="406.5" r="0.55"/><circle cx="57.6" cy="416.0" r="0.55"/><circle cx="57.7" cy="413.6" r="0.55"/><circle cx="57.6" cy="423.0" r="0.55"/><circle cx="58.7" cy="395.6" r="0.55"/><circle cx="56.3" cy="420.3" r="0.55"/><circle cx="56.1" cy="408.1" r="0.55"/><circle cx="58.0" cy="416.3" r="0.55"/><circle cx="57.5" cy="418.3" r="0.55"/><circle cx="57.8" cy="405.3" r="0.55"/><circle cx="57.7" cy="417.0" r="0.55"/><circle cx="58.5" cy="391.5" r="0.55"/><circle cx="56.1" cy="422.3" r="0.55"/><circle cx="56.7" cy="411.1" r="0.55"/><circle cx="59.4" cy="391.1" r="0.55"/><circle cx="56.6" cy="418.7" r="0.55"/><circle cx="57.4" cy="415.9" r="0.55"/><circle cx="57.4" cy="419.0" r="0.55"/><circle cx="56.5" cy="421.6" r="0.55"/><circle cx="55.6" cy="423.4" r="0.55"/><circle cx="56.3" cy="417.4" r="0.55"/><circle cx="57.0" cy="422.3" r="0.55"/><circle cx="59.9" cy="424.0" r="0.55"/><circle cx="59.3" cy="392.3" r="0.55"/><circle cx="56.1" cy="423.9" r="0.55"/><circle cx="56.0" cy="405.3" r="0.55"/><circle cx="55.6" cy="423.5" r="0.55"/><circle cx="56.9" cy="421.8" r="0.55"/><circle cx="59.8" cy="406.5" r="0.55"/><circle cx="58.6" cy="400.0" r="0.55"/><circle cx="59.4" cy="401.1" r="0.55"/><circle cx="56.4" cy="420.0" r="0.55"/><circle cx="57.1" cy="420.2" r="0.55"/><circle cx="59.4" cy="390.4" r="0.55"/><circle cx="59.6" cy="385.1" r="0.55"/><circle cx="59.0" cy="400.4" r="0.55"/><circle cx="60.0" cy="384.6" r="0.55"/><circle cx="59.2" cy="389.6" r="0.55"/><circle cx="59.7" cy="385.9" r="0.55"/><circle cx="55.9" cy="421.9" r="0.55"/><circle cx="59.4" cy="386.3" r="0.55"/><circle cx="58.8" cy="406.0" r="0.55"/><circle cx="57.7" cy="415.5" r="0.55"/><circle cx="55.9" cy="424.3" r="0.55"/><circle cx="57.1" cy="405.1" r="0.55"/><circle cx="58.0" cy="395.7" r="0.55"/><circle cx="60.7" cy="379.4" r="0.55"/><circle cx="57.5" cy="409.0" r="0.55"/><circle cx="56.3" cy="422.6" r="0.55"/><circle cx="58.0" cy="423.9" r="0.55"/><circle cx="59.2" cy="397.0" r="0.55"/><circle cx="61.0" cy="373.4" r="0.55"/><circle cx="57.7" cy="423.8" r="0.55"/><circle cx="57.1" cy="421.8" r="0.55"/><circle cx="60.2" cy="394.4" r="0.55"/><circle cx="59.9" cy="383.7" r="0.55"/><circle cx="59.0" cy="389.4" r="0.55"/><circle cx="58.9" cy="398.8" r="0.55"/><circle cx="57.2" cy="408.2" r="0.55"/><circle cx="58.0" cy="412.2" r="0.55"/><circle cx="59.4" cy="398.5" r="0.55"/><circle cx="54.8" cy="422.4" r="0.55"/><circle cx="55.9" cy="418.5" r="0.55"/><circle cx="57.7" cy="416.4" r="0.55"/><circle cx="57.6" cy="421.6" r="0.55"/><circle cx="58.1" cy="411.1" r="0.55"/><circle cx="61.2" cy="373.3" r="0.55"/><circle cx="60.3" cy="373.0" r="0.55"/><circle cx="60.1" cy="374.2" r="0.55"/><circle cx="55.3" cy="424.2" r="0.55"/><circle cx="58.3" cy="397.8" r="0.55"/><circle cx="57.8" cy="404.8" r="0.55"/><circle cx="60.0" cy="375.0" r="0.55"/><circle cx="57.3" cy="418.3" r="0.55"/><circle cx="57.4" cy="416.6" r="0.55"/><circle cx="56.7" cy="421.8" r="0.55"/><circle cx="58.5" cy="397.6" r="0.55"/><circle cx="58.7" cy="398.9" r="0.55"/><circle cx="56.5" cy="415.4" r="0.55"/><circle cx="57.6" cy="407.3" r="0.55"/><circle cx="57.8" cy="405.2" r="0.55"/><circle cx="57.1" cy="422.0" r="0.55"/><circle cx="59.9" cy="380.7" r="0.55"/><circle cx="59.8" cy="383.2" r="0.55"/><circle cx="58.0" cy="419.9" r="0.55"/><circle cx="57.6" cy="420.0" r="0.55"/><circle cx="57.2" cy="409.6" r="0.55"/><circle cx="58.0" cy="404.7" r="0.55"/><circle cx="55.3" cy="423.4" r="0.55"/><circle cx="56.5" cy="423.9" r="0.55"/><circle cx="58.3" cy="413.7" r="0.55"/><circle cx="60.1" cy="383.0" r="0.55"/><circle cx="57.8" cy="406.1" r="0.55"/><circle cx="55.0" cy="423.4" r="0.55"/><circle cx="60.8" cy="371.4" r="0.55"/><circle cx="59.4" cy="385.9" r="0.55"/><circle cx="58.5" cy="414.5" r="0.55"/><circle cx="59.9" cy="405.3" r="0.55"/><circle cx="60.0" cy="390.4" r="0.55"/><circle cx="58.0" cy="424.2" r="0.55"/><circle cx="56.8" cy="420.5" r="0.55"/><circle cx="58.4" cy="403.3" r="0.55"/><circle cx="56.4" cy="421.2" r="0.55"/><circle cx="58.9" cy="412.9" r="0.55"/><circle cx="59.4" cy="380.8" r="0.55"/><circle cx="57.0" cy="405.3" r="0.55"/><circle cx="60.5" cy="378.3" r="0.55"/><circle cx="58.9" cy="392.7" r="0.55"/><circle cx="57.3" cy="416.7" r="0.55"/><circle cx="58.9" cy="386.3" r="0.55"/><circle cx="55.5" cy="423.3" r="0.55"/><circle cx="60.9" cy="375.4" r="0.55"/><circle cx="59.8" cy="394.5" r="0.55"/><circle cx="57.0" cy="423.6" r="0.55"/><circle cx="58.2" cy="406.2" r="0.55"/><circle cx="60.2" cy="377.5" r="0.55"/><circle cx="58.7" cy="397.9" r="0.55"/><circle cx="58.2" cy="411.8" r="0.55"/><circle cx="59.5" cy="385.2" r="0.55"/><circle cx="56.4" cy="424.4" r="0.55"/><circle cx="56.9" cy="423.5" r="0.55"/><circle cx="57.6" cy="405.8" r="0.55"/><circle cx="56.7" cy="418.7" r="0.55"/><circle cx="55.8" cy="422.8" r="0.55"/><circle cx="59.3" cy="382.0" r="0.55"/><circle cx="59.3" cy="387.7" r="0.55"/><circle cx="60.8" cy="375.4" r="0.55"/><circle cx="56.8" cy="422.7" r="0.55"/><circle cx="58.9" cy="408.9" r="0.55"/><circle cx="55.3" cy="424.4" r="0.55"/><circle cx="57.4" cy="422.0" r="0.55"/><circle cx="56.1" cy="414.5" r="0.55"/><circle cx="58.6" cy="410.3" r="0.55"/><circle cx="58.9" cy="414.4" r="0.55"/><circle cx="59.8" cy="382.2" r="0.55"/><circle cx="56.9" cy="417.2" r="0.55"/><circle cx="57.9" cy="421.1" r="0.55"/><circle cx="55.8" cy="424.3" r="0.55"/><circle cx="56.0" cy="422.3" r="0.55"/><circle cx="58.9" cy="404.4" r="0.55"/><circle cx="57.3" cy="414.7" r="0.55"/><circle cx="58.3" cy="404.3" r="0.55"/><circle cx="58.2" cy="417.0" r="0.55"/><circle cx="60.8" cy="371.8" r="0.55"/><circle cx="57.6" cy="424.3" r="0.55"/><circle cx="58.2" cy="419.3" r="0.55"/><circle cx="56.3" cy="419.3" r="0.55"/><circle cx="58.2" cy="404.9" r="0.55"/><circle cx="60.4" cy="407.4" r="0.55"/><circle cx="55.7" cy="424.4" r="0.55"/><circle cx="58.3" cy="405.4" r="0.55"/><circle cx="58.2" cy="390.4" r="0.55"/><circle cx="58.0" cy="400.8" r="0.55"/><circle cx="56.3" cy="419.0" r="0.55"/><circle cx="60.4" cy="388.7" r="0.55"/><circle cx="57.6" cy="397.4" r="0.55"/><circle cx="57.2" cy="418.2" r="0.55"/><circle cx="56.5" cy="408.5" r="0.55"/><circle cx="58.0" cy="400.6" r="0.55"/><circle cx="58.4" cy="413.8" r="0.55"/><circle cx="56.1" cy="424.2" r="0.55"/><circle cx="61.0" cy="371.6" r="0.55"/><circle cx="57.3" cy="410.0" r="0.55"/><circle cx="57.5" cy="420.5" r="0.55"/><circle cx="57.3" cy="416.4" r="0.55"/><circle cx="60.0" cy="382.4" r="0.55"/><circle cx="56.6" cy="411.5" r="0.55"/><circle cx="57.5" cy="418.2" r="0.55"/><circle cx="57.6" cy="422.3" r="0.55"/><circle cx="57.4" cy="418.0" r="0.55"/><circle cx="57.6" cy="394.1" r="0.55"/><circle cx="56.5" cy="416.7" r="0.55"/><circle cx="60.2" cy="377.9" r="0.55"/><circle cx="56.6" cy="422.1" r="0.55"/><circle cx="58.9" cy="404.2" r="0.55"/><circle cx="59.3" cy="390.4" r="0.55"/><circle cx="57.8" cy="412.8" r="0.55"/><circle cx="57.5" cy="409.8" r="0.55"/><circle cx="60.1" cy="379.9" r="0.55"/><circle cx="57.4" cy="424.4" r="0.55"/><circle cx="56.6" cy="422.4" r="0.55"/><circle cx="58.4" cy="421.0" r="0.55"/><circle cx="57.8" cy="414.1" r="0.55"/><circle cx="60.5" cy="383.0" r="0.55"/><circle cx="58.9" cy="399.8" r="0.55"/><circle cx="61.2" cy="374.0" r="0.55"/><circle cx="59.5" cy="402.9" r="0.55"/><circle cx="60.4" cy="382.0" r="0.55"/><circle cx="57.6" cy="416.7" r="0.55"/><circle cx="58.4" cy="406.9" r="0.55"/><circle cx="59.3" cy="382.0" r="0.55"/><circle cx="55.1" cy="421.2" r="0.55"/><circle cx="57.2" cy="417.3" r="0.55"/><circle cx="56.1" cy="413.9" r="0.55"/><circle cx="58.6" cy="397.6" r="0.55"/><circle cx="57.7" cy="413.4" r="0.55"/><circle cx="56.0" cy="424.3" r="0.55"/><circle cx="57.3" cy="409.3" r="0.55"/><circle cx="58.3" cy="403.1" r="0.55"/><circle cx="57.8" cy="424.5" r="0.55"/><circle cx="59.3" cy="377.5" r="0.55"/><circle cx="55.4" cy="424.2" r="0.55"/><circle cx="58.3" cy="402.1" r="0.55"/><circle cx="55.7" cy="423.7" r="0.55"/><circle cx="57.8" cy="422.6" r="0.55"/><circle cx="58.0" cy="423.8" r="0.55"/><circle cx="59.0" cy="387.2" r="0.55"/><circle cx="58.7" cy="403.7" r="0.55"/><circle cx="57.5" cy="405.8" r="0.55"/><circle cx="56.1" cy="417.1" r="0.55"/><circle cx="59.1" cy="393.0" r="0.55"/><circle cx="60.2" cy="391.3" r="0.55"/><circle cx="59.0" cy="390.3" r="0.55"/><circle cx="61.3" cy="372.7" r="0.55"/><circle cx="57.4" cy="411.5" r="0.55"/><circle cx="60.9" cy="376.1" r="0.55"/><circle cx="57.9" cy="423.1" r="0.55"/><circle cx="58.7" cy="399.3" r="0.55"/><circle cx="58.2" cy="390.4" r="0.55"/><circle cx="59.2" cy="420.7" r="0.55"/><circle cx="59.3" cy="391.8" r="0.55"/><circle cx="56.8" cy="423.0" r="0.55"/><circle cx="55.3" cy="424.2" r="0.55"/><circle cx="56.8" cy="422.0" r="0.55"/><circle cx="60.3" cy="376.2" r="0.55"/><circle cx="57.2" cy="422.1" r="0.55"/><circle cx="59.4" cy="393.3" r="0.55"/><circle cx="56.3" cy="424.4" r="0.55"/><circle cx="59.4" cy="390.1" r="0.55"/><circle cx="60.2" cy="409.1" r="0.55"/><circle cx="57.8" cy="400.6" r="0.55"/><circle cx="59.0" cy="411.1" r="0.55"/><circle cx="57.5" cy="417.4" r="0.55"/><circle cx="58.9" cy="393.6" r="0.55"/><circle cx="56.0" cy="424.1" r="0.55"/><circle cx="59.5" cy="383.0" r="0.55"/><circle cx="55.6" cy="424.2" r="0.55"/><circle cx="60.1" cy="378.1" r="0.55"/><circle cx="60.3" cy="375.7" r="0.55"/><circle cx="56.5" cy="420.0" r="0.55"/><circle cx="56.3" cy="419.6" r="0.55"/><circle cx="57.1" cy="421.4" r="0.55"/><circle cx="58.9" cy="391.6" r="0.55"/><circle cx="60.7" cy="371.1" r="0.55"/><circle cx="56.3" cy="421.1" r="0.55"/><circle cx="59.8" cy="383.1" r="0.55"/><circle cx="59.9" cy="382.5" r="0.55"/><circle cx="60.5" cy="386.5" r="0.55"/><circle cx="56.5" cy="418.9" r="0.55"/><circle cx="60.5" cy="380.6" r="0.55"/><circle cx="56.2" cy="422.5" r="0.55"/><circle cx="56.6" cy="411.5" r="0.55"/><circle cx="58.6" cy="404.3" r="0.55"/><circle cx="59.8" cy="381.3" r="0.55"/><circle cx="57.6" cy="415.9" r="0.55"/><circle cx="54.8" cy="422.0" r="0.55"/><circle cx="60.3" cy="383.0" r="0.55"/><circle cx="56.6" cy="424.4" r="0.55"/><circle cx="56.8" cy="423.5" r="0.55"/><circle cx="60.2" cy="378.8" r="0.55"/><circle cx="56.7" cy="422.7" r="0.55"/><circle cx="56.3" cy="422.3" r="0.55"/><circle cx="59.3" cy="397.3" r="0.55"/><circle cx="60.5" cy="378.2" r="0.55"/><circle cx="60.3" cy="394.9" r="0.55"/><circle cx="54.6" cy="424.4" r="0.55"/><circle cx="57.3" cy="420.5" r="0.55"/><circle cx="55.1" cy="424.4" r="0.55"/><circle cx="58.0" cy="408.7" r="0.55"/><circle cx="57.8" cy="423.6" r="0.55"/><circle cx="57.5" cy="424.5" r="0.55"/><circle cx="60.0" cy="381.7" r="0.55"/></g>
<g fill="#9a9a9a"><circle cx="182.2" cy="393.2" r="0.4"/><circle cx="182.3" cy="389.7" r="0.4"/><circle cx="182.7" cy="405.1" r="0.4"/><circle cx="182.4" cy="408.3" r="0.4"/><circle cx="185.1" cy="370.7" r="0.4"/><circle cx="184.0" cy="393.8" r="0.4"/><circle cx="188.3" cy="385.0" r="0.4"/><circle cx="182.9" cy="422.1" r="0.4"/><circle cx="188.0" cy="407.9" r="0.4"/><circle cx="183.4" cy="374.6" r="0.4"/><circle cx="183.3" cy="368.1" r="0.4"/><circle cx="181.6" cy="394.5" r="0.4"/><circle cx="184.4" cy="397.4" r="0.4"/><circle cx="184.1" cy="364.6" r="0.4"/><circle cx="186.5" cy="403.2" r="0.4"/><circle cx="185.4" cy="396.9" r="0.4"/><circle cx="186.5" cy="422.9" r="0.4"/><circle cx="187.9" cy="407.1" r="0.4"/><circle cx="184.3" cy="383.1" r="0.4"/><circle cx="184.5" cy="422.4" r="0.4"/><circle cx="184.2" cy="387.1" r="0.4"/><circle cx="184.4" cy="372.6" r="0.4"/><circle cx="188.9" cy="364.3" r="0.4"/><circle cx="185.9" cy="419.6" r="0.4"/><circle cx="183.2" cy="400.7" r="0.4"/><circle cx="184.2" cy="378.4" r="0.4"/><circle cx="182.8" cy="371.0" r="0.4"/><circle cx="187.7" cy="411.0" r="0.4"/><circle cx="188.2" cy="367.0" r="0.4"/><circle cx="186.6" cy="383.5" r="0.4"/><circle cx="186.2" cy="396.9" r="0.4"/><circle cx="183.7" cy="422.3" r="0.4"/><circle cx="181.3" cy="408.8" r="0.4"/><circle cx="187.8" cy="394.6" r="0.4"/><circle cx="185.8" cy="423.7" r="0.4"/><circle cx="183.1" cy="401.8" r="0.4"/><circle cx="186.9" cy="386.7" r="0.4"/><circle cx="186.7" cy="387.6" r="0.4"/><circle cx="185.3" cy="400.8" r="0.4"/><circle cx="186.4" cy="383.3" r="0.4"/><circle cx="186.1" cy="396.6" r="0.4"/><circle cx="183.0" cy="400.8" r="0.4"/><circle cx="183.3" cy="418.5" r="0.4"/><circle cx="184.9" cy="407.3" r="0.4"/><circle cx="185.3" cy="392.6" r="0.4"/><circle cx="183.0" cy="372.5" r="0.4"/><circle cx="188.3" cy="395.7" r="0.4"/><circle cx="185.3" cy="395.6" r="0.4"/><circle cx="187.5" cy="378.3" r="0.4"/><circle cx="182.6" cy="413.3" r="0.4"/><circle cx="184.8" cy="402.4" r="0.4"/><circle cx="187.6" cy="417.6" r="0.4"/><circle cx="187.9" cy="366.6" r="0.4"/><circle cx="184.2" cy="413.9" r="0.4"/><circle cx="187.5" cy="371.4" r="0.4"/><circle cx="182.5" cy="379.1" r="0.4"/><circle cx="182.1" cy="385.4" r="0.4"/><circle cx="187.4" cy="395.3" r="0.4"/><circle cx="184.7" cy="369.3" r="0.4"/><circle cx="184.3" cy="423.8" r="0.4"/><circle cx="186.6" cy="391.0" r="0.4"/><circle cx="184.9" cy="411.9" r="0.4"/><circle cx="187.1" cy="373.0" r="0.4"/><circle cx="186.5" cy="386.0" r="0.4"/><circle cx="185.3" cy="378.3" r="0.4"/><circle cx="184.1" cy="384.4" r="0.4"/><circle cx="184.2" cy="365.1" r="0.4"/><circle cx="182.8" cy="398.2" r="0.4"/><circle cx="181.7" cy="374.7" r="0.4"/><circle cx="186.8" cy="380.5" r="0.4"/><circle cx="183.8" cy="378.5" r="0.4"/><circle cx="187.6" cy="369.5" r="0.4"/><circle cx="186.1" cy="415.5" r="0.4"/><circle cx="182.8" cy="389.4" r="0.4"/><circle cx="187.3" cy="401.1" r="0.4"/><circle cx="184.1" cy="366.6" r="0.4"/><circle cx="184.7" cy="386.0" r="0.4"/><circle cx="186.7" cy="381.7" r="0.4"/><circle cx="184.4" cy="402.9" r="0.4"/><circle cx="187.5" cy="385.1" r="0.4"/><circle cx="184.2" cy="398.7" r="0.4"/><circle cx="188.3" cy="375.5" r="0.4"/><circle cx="188.7" cy="406.7" r="0.4"/><circle cx="184.1" cy="403.9" r="0.4"/><circle cx="183.8" cy="368.2" r="0.4"/><circle cx="187.0" cy="386.8" r="0.4"/><circle cx="185.3" cy="393.8" r="0.4"/><circle cx="188.1" cy="409.4" r="0.4"/><circle cx="181.5" cy="399.6" r="0.4"/><circle cx="184.8" cy="391.7" r="0.4"/><circle cx="187.7" cy="388.9" r="0.4"/><circle cx="184.9" cy="417.4" r="0.4"/><circle cx="184.6" cy="393.5" r="0.4"/><circle cx="185.2" cy="413.5" r="0.4"/><circle cx="186.4" cy="408.4" r="0.4"/><circle cx="184.4" cy="366.4" r="0.4"/><circle cx="186.5" cy="397.2" r="0.4"/><circle cx="187.1" cy="410.2" r="0.4"/><circle cx="182.2" cy="377.2" r="0.4"/><circle cx="181.9" cy="413.0" r="0.4"/><circle cx="182.1" cy="369.3" r="0.4"/><circle cx="187.0" cy="397.9" r="0.4"/><circle cx="181.7" cy="404.9" r="0.4"/><circle cx="186.7" cy="393.0" r="0.4"/><circle cx="181.7" cy="405.5" r="0.4"/><circle cx="184.5" cy="399.0" r="0.4"/><circle cx="188.9" cy="413.0" r="0.4"/><circle cx="187.9" cy="372.7" r="0.4"/><circle cx="183.8" cy="395.1" r="0.4"/><circle cx="181.3" cy="423.3" r="0.4"/><circle cx="183.4" cy="379.7" r="0.4"/><circle cx="183.7" cy="379.3" r="0.4"/><circle cx="187.8" cy="397.3" r="0.4"/><circle cx="185.2" cy="389.2" r="0.4"/><circle cx="181.7" cy="382.3" r="0.4"/><circle cx="187.9" cy="412.1" r="0.4"/><circle cx="187.8" cy="379.4" r="0.4"/><circle cx="182.8" cy="367.1" r="0.4"/><circle cx="185.4" cy="386.4" r="0.4"/><circle cx="184.8" cy="393.3" r="0.4"/><circle cx="185.7" cy="385.9" r="0.4"/><circle cx="187.4" cy="376.0" r="0.4"/><circle cx="188.3" cy="397.4" r="0.4"/><circle cx="181.7" cy="382.9" r="0.4"/><circle cx="185.4" cy="388.5" r="0.4"/><circle cx="185.6" cy="383.4" r="0.4"/><circle cx="183.4" cy="411.8" r="0.4"/><circle cx="183.5" cy="406.6" r="0.4"/><circle cx="187.4" cy="399.5" r="0.4"/><circle cx="184.8" cy="420.1" r="0.4"/><circle cx="184.7" cy="416.7" r="0.4"/><circle cx="181.7" cy="390.0" r="0.4"/><circle cx="186.2" cy="366.9" r="0.4"/><circle cx="187.9" cy="368.3" r="0.4"/><circle cx="185.8" cy="374.8" r="0.4"/><circle cx="188.3" cy="397.7" r="0.4"/><circle cx="187.4" cy="393.9" r="0.4"/><circle cx="186.4" cy="404.5" r="0.4"/><circle cx="183.5" cy="376.7" r="0.4"/><circle cx="187.7" cy="372.7" r="0.4"/><circle cx="188.3" cy="376.4" r="0.4"/><circle cx="182.1" cy="369.7" r="0.4"/><circle cx="187.3" cy="421.1" r="0.4"/><circle cx="184.5" cy="403.5" r="0.4"/><circle cx="183.3" cy="418.4" r="0.4"/><circle cx="186.5" cy="373.3" r="0.4"/><circle cx="181.7" cy="405.7" r="0.4"/><circle cx="181.6" cy="414.2" r="0.4"/><circle cx="183.5" cy="378.0" r="0.4"/><circle cx="185.7" cy="383.1" r="0.4"/><circle cx="185.6" cy="373.2" r="0.4"/><circle cx="188.2" cy="383.5" r="0.4"/><circle cx="187.7" cy="373.1" r="0.4"/><circle cx="187.4" cy="422.8" r="0.4"/><circle cx="184.3" cy="366.0" r="0.4"/><circle cx="184.2" cy="402.4" r="0.4"/><circle cx="183.0" cy="396.7" r="0.4"/><circle cx="182.0" cy="391.9" r="0.4"/><circle cx="186.8" cy="389.8" r="0.4"/><circle cx="186.5" cy="370.9" r="0.4"/></g>
<g fill="#2a2a2a"><circle cx="185.3" cy="406.1" r="0.42"/><circle cx="186.8" cy="382.9" r="0.42"/><circle cx="185.5" cy="397.1" r="0.42"/><circle cx="185.7" cy="414.6" r="0.42"/><circle cx="186.1" cy="387.8" r="0.42"/><circle cx="183.7" cy="400.5" r="0.42"/><circle cx="184.7" cy="405.5" r="0.42"/><circle cx="186.2" cy="393.7" r="0.42"/><circle cx="185.4" cy="406.8" r="0.42"/><circle cx="185.1" cy="408.3" r="0.42"/><circle cx="185.6" cy="406.0" r="0.42"/><circle cx="184.2" cy="375.3" r="0.42"/><circle cx="187.7" cy="385.5" r="0.42"/><circle cx="185.4" cy="400.7" r="0.42"/><circle cx="186.6" cy="395.9" r="0.42"/><circle cx="187.3" cy="403.4" r="0.42"/><circle cx="187.3" cy="412.9" r="0.42"/><circle cx="186.1" cy="401.5" r="0.42"/><circle cx="185.5" cy="397.6" r="0.42"/><circle cx="185.1" cy="381.3" r="0.42"/><circle cx="185.1" cy="391.1" r="0.42"/><circle cx="186.0" cy="418.3" r="0.42"/><circle cx="186.5" cy="418.4" r="0.42"/><circle cx="186.7" cy="414.5" r="0.42"/><circle cx="186.5" cy="395.4" r="0.42"/><circle cx="185.2" cy="399.0" r="0.42"/><circle cx="187.8" cy="418.0" r="0.42"/><circle cx="187.4" cy="390.7" r="0.42"/><circle cx="184.9" cy="413.4" r="0.42"/><circle cx="186.1" cy="406.4" r="0.42"/><circle cx="185.4" cy="407.7" r="0.42"/><circle cx="185.7" cy="386.9" r="0.42"/><circle cx="186.5" cy="413.8" r="0.42"/><circle cx="186.8" cy="411.3" r="0.42"/><circle cx="185.7" cy="390.6" r="0.42"/><circle cx="186.7" cy="407.3" r="0.42"/><circle cx="186.2" cy="405.0" r="0.42"/><circle cx="187.7" cy="404.7" r="0.42"/><circle cx="185.7" cy="375.7" r="0.42"/><circle cx="183.9" cy="406.0" r="0.42"/><circle cx="184.3" cy="404.7" r="0.42"/><circle cx="185.9" cy="394.5" r="0.42"/><circle cx="186.3" cy="408.8" r="0.42"/><circle cx="185.9" cy="415.8" r="0.42"/><circle cx="185.6" cy="392.3" r="0.42"/><circle cx="185.4" cy="407.2" r="0.42"/><circle cx="185.4" cy="394.6" r="0.42"/><circle cx="184.7" cy="384.2" r="0.42"/><circle cx="185.4" cy="401.9" r="0.42"/><circle cx="187.1" cy="403.5" r="0.42"/><circle cx="185.7" cy="406.8" r="0.42"/><circle cx="184.7" cy="388.3" r="0.42"/><circle cx="184.9" cy="407.7" r="0.42"/><circle cx="184.7" cy="408.4" r="0.42"/><circle cx="185.6" cy="404.7" r="0.42"/><circle cx="185.3" cy="415.5" r="0.42"/><circle cx="185.9" cy="398.3" r="0.42"/><circle cx="187.3" cy="403.7" r="0.42"/><circle cx="185.2" cy="399.8" r="0.42"/><circle cx="186.2" cy="399.0" r="0.42"/><circle cx="186.4" cy="405.9" r="0.42"/><circle cx="188.1" cy="385.7" r="0.42"/><circle cx="184.5" cy="402.6" r="0.42"/><circle cx="186.1" cy="404.9" r="0.42"/><circle cx="185.7" cy="375.1" r="0.42"/><circle cx="186.1" cy="384.5" r="0.42"/><circle cx="186.7" cy="420.3" r="0.42"/><circle cx="187.0" cy="384.2" r="0.42"/><circle cx="185.4" cy="414.3" r="0.42"/><circle cx="187.2" cy="409.3" r="0.42"/><circle cx="185.7" cy="398.9" r="0.42"/><circle cx="186.8" cy="396.0" r="0.42"/><circle cx="187.1" cy="376.1" r="0.42"/><circle cx="186.6" cy="390.9" r="0.42"/><circle cx="184.8" cy="382.7" r="0.42"/><circle cx="186.5" cy="395.5" r="0.42"/><circle cx="186.3" cy="382.7" r="0.42"/><circle cx="186.9" cy="395.1" r="0.42"/><circle cx="186.2" cy="399.1" r="0.42"/><circle cx="187.4" cy="400.9" r="0.42"/><circle cx="185.7" cy="398.5" r="0.42"/><circle cx="186.4" cy="404.0" r="0.42"/><circle cx="185.9" cy="393.8" r="0.42"/><circle cx="185.8" cy="374.6" r="0.42"/><circle cx="184.3" cy="394.9" r="0.42"/><circle cx="186.8" cy="385.3" r="0.42"/><circle cx="184.2" cy="408.3" r="0.42"/><circle cx="185.3" cy="394.3" r="0.42"/><circle cx="184.6" cy="406.1" r="0.42"/><circle cx="185.0" cy="382.8" r="0.42"/><circle cx="186.6" cy="417.8" r="0.42"/><circle cx="186.9" cy="383.2" r="0.42"/><circle cx="186.2" cy="403.4" r="0.42"/><circle cx="186.1" cy="403.6" r="0.42"/><circle cx="184.8" cy="390.5" r="0.42"/><circle cx="185.3" cy="394.2" r="0.42"/><circle cx="184.5" cy="410.7" r="0.42"/><circle cx="185.1" cy="422.9" r="0.42"/><circle cx="186.4" cy="395.6" r="0.42"/><circle cx="185.4" cy="408.4" r="0.42"/><circle cx="184.7" cy="389.6" r="0.42"/><circle cx="186.8" cy="383.0" r="0.42"/><circle cx="187.5" cy="416.6" r="0.42"/><circle cx="186.0" cy="409.2" r="0.42"/><circle cx="186.6" cy="412.5" r="0.42"/><circle cx="186.0" cy="399.8" r="0.42"/><circle cx="184.3" cy="381.8" r="0.42"/><circle cx="186.4" cy="390.9" r="0.42"/><circle cx="185.4" cy="417.9" r="0.42"/><circle cx="185.7" cy="411.4" r="0.42"/><circle cx="185.2" cy="406.8" r="0.42"/><circle cx="185.7" cy="402.7" r="0.42"/><circle cx="187.8" cy="417.2" r="0.42"/><circle cx="186.2" cy="380.3" r="0.42"/><circle cx="186.6" cy="402.9" r="0.42"/><circle cx="186.5" cy="416.3" r="0.42"/><circle cx="184.8" cy="413.1" r="0.42"/><circle cx="187.3" cy="381.7" r="0.42"/><circle cx="184.8" cy="418.1" r="0.42"/><circle cx="186.3" cy="419.2" r="0.42"/><circle cx="186.6" cy="372.3" r="0.42"/><circle cx="186.8" cy="390.6" r="0.42"/><circle cx="185.0" cy="394.5" r="0.42"/><circle cx="185.5" cy="383.7" r="0.42"/><circle cx="185.1" cy="415.7" r="0.42"/><circle cx="187.8" cy="379.7" r="0.42"/><circle cx="185.2" cy="411.6" r="0.42"/><circle cx="184.1" cy="387.8" r="0.42"/><circle cx="187.0" cy="410.0" r="0.42"/><circle cx="185.7" cy="389.7" r="0.42"/><circle cx="185.5" cy="399.5" r="0.42"/><circle cx="187.7" cy="409.3" r="0.42"/><circle cx="186.5" cy="395.0" r="0.42"/><circle cx="185.4" cy="416.6" r="0.42"/><circle cx="184.4" cy="401.1" r="0.42"/><circle cx="185.2" cy="416.5" r="0.42"/><circle cx="185.8" cy="394.8" r="0.42"/><circle cx="184.7" cy="392.2" r="0.42"/><circle cx="187.1" cy="399.3" r="0.42"/><circle cx="186.2" cy="400.4" r="0.42"/><circle cx="183.8" cy="384.6" r="0.42"/><circle cx="184.2" cy="398.0" r="0.42"/><circle cx="186.3" cy="401.7" r="0.42"/><circle cx="184.8" cy="381.4" r="0.42"/><circle cx="184.8" cy="406.3" r="0.42"/><circle cx="186.6" cy="413.0" r="0.42"/><circle cx="185.3" cy="408.5" r="0.42"/><circle cx="185.1" cy="402.4" r="0.42"/><circle cx="186.0" cy="401.4" r="0.42"/><circle cx="186.6" cy="399.2" r="0.42"/><circle cx="186.0" cy="396.1" r="0.42"/><circle cx="186.3" cy="413.3" r="0.42"/><circle cx="185.2" cy="400.0" r="0.42"/><circle cx="186.3" cy="415.6" r="0.42"/><circle cx="184.9" cy="409.4" r="0.42"/><circle cx="186.5" cy="410.9" r="0.42"/><circle cx="186.3" cy="400.7" r="0.42"/><circle cx="186.3" cy="379.4" r="0.42"/><circle cx="184.4" cy="388.3" r="0.42"/><circle cx="186.2" cy="400.0" r="0.42"/><circle cx="184.6" cy="403.7" r="0.42"/><circle cx="185.2" cy="384.9" r="0.42"/><circle cx="184.9" cy="403.2" r="0.42"/><circle cx="187.4" cy="384.1" r="0.42"/><circle cx="185.5" cy="392.5" r="0.42"/><circle cx="185.1" cy="396.1" r="0.42"/><circle cx="185.4" cy="403.5" r="0.42"/><circle cx="184.6" cy="410.8" r="0.42"/><circle cx="187.6" cy="384.3" r="0.42"/><circle cx="186.4" cy="402.1" r="0.42"/><circle cx="186.2" cy="417.8" r="0.42"/><circle cx="184.2" cy="403.5" r="0.42"/><circle cx="186.6" cy="382.9" r="0.42"/><circle cx="186.3" cy="411.5" r="0.42"/><circle cx="183.6" cy="382.1" r="0.42"/><circle cx="184.6" cy="389.7" r="0.42"/><circle cx="184.7" cy="405.0" r="0.42"/><circle cx="185.1" cy="422.9" r="0.42"/><circle cx="186.5" cy="395.9" r="0.42"/><circle cx="184.8" cy="407.1" r="0.42"/><circle cx="187.6" cy="413.3" r="0.42"/><circle cx="185.5" cy="387.5" r="0.42"/><circle cx="183.8" cy="389.4" r="0.42"/><circle cx="186.4" cy="410.9" r="0.42"/><circle cx="186.1" cy="415.3" r="0.42"/><circle cx="185.7" cy="377.6" r="0.42"/><circle cx="184.6" cy="394.6" r="0.42"/><circle cx="186.4" cy="389.0" r="0.42"/><circle cx="187.6" cy="399.3" r="0.42"/><circle cx="183.8" cy="408.9" r="0.42"/><circle cx="186.9" cy="414.3" r="0.42"/><circle cx="184.5" cy="403.4" r="0.42"/><circle cx="185.6" cy="386.4" r="0.42"/><circle cx="184.5" cy="378.9" r="0.42"/><circle cx="186.8" cy="381.5" r="0.42"/><circle cx="185.3" cy="417.9" r="0.42"/><circle cx="185.6" cy="385.9" r="0.42"/><circle cx="184.2" cy="407.8" r="0.42"/><circle cx="185.6" cy="388.3" r="0.42"/><circle cx="185.8" cy="411.9" r="0.42"/><circle cx="184.5" cy="408.7" r="0.42"/><circle cx="186.0" cy="371.5" r="0.42"/><circle cx="185.6" cy="391.4" r="0.42"/><circle cx="186.2" cy="398.2" r="0.42"/><circle cx="187.1" cy="393.2" r="0.42"/><circle cx="186.2" cy="403.4" r="0.42"/><circle cx="186.7" cy="411.0" r="0.42"/><circle cx="184.0" cy="408.1" r="0.42"/><circle cx="187.5" cy="395.0" r="0.42"/><circle cx="186.2" cy="409.0" r="0.42"/><circle cx="185.1" cy="408.9" r="0.42"/><circle cx="185.1" cy="394.4" r="0.42"/><circle cx="186.1" cy="417.7" r="0.42"/><circle cx="187.5" cy="409.3" r="0.42"/><circle cx="184.5" cy="408.8" r="0.42"/><circle cx="186.9" cy="407.3" r="0.42"/><circle cx="185.4" cy="405.7" r="0.42"/><circle cx="184.6" cy="405.2" r="0.42"/><circle cx="184.8" cy="387.8" r="0.42"/><circle cx="184.4" cy="396.3" r="0.42"/><circle cx="186.0" cy="401.7" r="0.42"/><circle cx="186.6" cy="402.4" r="0.42"/><circle cx="186.1" cy="400.2" r="0.42"/><circle cx="185.2" cy="402.6" r="0.42"/><circle cx="184.2" cy="404.0" r="0.42"/><circle cx="185.4" cy="408.6" r="0.42"/><circle cx="185.3" cy="389.2" r="0.42"/><circle cx="185.0" cy="410.1" r="0.42"/><circle cx="186.3" cy="409.1" r="0.42"/><circle cx="184.6" cy="422.9" r="0.42"/><circle cx="186.2" cy="401.6" r="0.42"/><circle cx="186.0" cy="422.2" r="0.42"/><circle cx="184.3" cy="412.6" r="0.42"/><circle cx="187.3" cy="395.5" r="0.42"/><circle cx="187.8" cy="399.4" r="0.42"/><circle cx="185.4" cy="393.7" r="0.42"/><circle cx="186.3" cy="382.6" r="0.42"/><circle cx="187.7" cy="406.4" r="0.42"/><circle cx="185.5" cy="405.1" r="0.42"/><circle cx="185.6" cy="384.9" r="0.42"/><circle cx="186.4" cy="415.1" r="0.42"/><circle cx="186.6" cy="418.7" r="0.42"/><circle cx="186.3" cy="402.4" r="0.42"/><circle cx="184.4" cy="405.2" r="0.42"/><circle cx="184.7" cy="407.8" r="0.42"/><circle cx="186.0" cy="407.9" r="0.42"/><circle cx="187.1" cy="415.8" r="0.42"/><circle cx="187.2" cy="410.1" r="0.42"/><circle cx="183.9" cy="390.8" r="0.42"/><circle cx="186.0" cy="406.6" r="0.42"/><circle cx="184.6" cy="407.5" r="0.42"/><circle cx="185.9" cy="397.0" r="0.42"/><circle cx="187.9" cy="412.6" r="0.42"/><circle cx="185.1" cy="406.8" r="0.42"/><circle cx="186.8" cy="372.6" r="0.42"/><circle cx="185.6" cy="401.3" r="0.42"/><circle cx="186.4" cy="390.3" r="0.42"/><circle cx="185.8" cy="379.9" r="0.42"/><circle cx="186.0" cy="404.6" r="0.42"/><circle cx="185.6" cy="419.8" r="0.42"/><circle cx="186.5" cy="404.2" r="0.42"/><circle cx="185.4" cy="383.0" r="0.42"/><circle cx="186.6" cy="403.9" r="0.42"/><circle cx="186.5" cy="392.7" r="0.42"/><circle cx="184.2" cy="408.0" r="0.42"/><circle cx="184.3" cy="383.9" r="0.42"/><circle cx="185.9" cy="404.8" r="0.42"/><circle cx="186.5" cy="412.3" r="0.42"/><circle cx="186.8" cy="395.9" r="0.42"/><circle cx="186.2" cy="413.6" r="0.42"/><circle cx="184.4" cy="409.2" r="0.42"/><circle cx="184.7" cy="407.7" r="0.42"/><circle cx="185.4" cy="387.6" r="0.42"/><circle cx="185.6" cy="404.8" r="0.42"/><circle cx="184.7" cy="398.7" r="0.42"/><circle cx="185.0" cy="405.4" r="0.42"/><circle cx="185.8" cy="384.8" r="0.42"/><circle cx="185.3" cy="421.8" r="0.42"/><circle cx="187.1" cy="389.3" r="0.42"/><circle cx="185.5" cy="399.2" r="0.42"/><circle cx="188.6" cy="405.7" r="0.42"/><circle cx="186.7" cy="404.7" r="0.42"/><circle cx="183.9" cy="408.7" r="0.42"/><circle cx="184.5" cy="388.7" r="0.42"/><circle cx="185.8" cy="408.6" r="0.42"/><circle cx="186.0" cy="399.5" r="0.42"/><circle cx="185.8" cy="404.0" r="0.42"/><circle cx="187.2" cy="406.7" r="0.42"/><circle cx="185.1" cy="419.8" r="0.42"/><circle cx="185.3" cy="411.9" r="0.42"/><circle cx="185.9" cy="404.4" r="0.42"/><circle cx="185.2" cy="403.3" r="0.42"/><circle cx="186.4" cy="399.6" r="0.42"/><circle cx="186.7" cy="411.1" r="0.42"/><circle cx="186.8" cy="421.0" r="0.42"/><circle cx="187.7" cy="384.5" r="0.42"/><circle cx="184.0" cy="403.4" r="0.42"/><circle cx="184.3" cy="394.7" r="0.42"/><circle cx="184.2" cy="402.7" r="0.42"/><circle cx="186.0" cy="390.0" r="0.42"/><circle cx="184.9" cy="405.0" r="0.42"/><circle cx="185.6" cy="400.0" r="0.42"/><circle cx="185.7" cy="404.0" r="0.42"/><circle cx="186.6" cy="400.1" r="0.42"/><circle cx="185.2" cy="382.2" r="0.42"/><circle cx="185.3" cy="404.7" r="0.42"/><circle cx="185.3" cy="395.8" r="0.42"/><circle cx="186.9" cy="405.7" r="0.42"/><circle cx="185.4" cy="400.6" r="0.42"/><circle cx="185.5" cy="407.6" r="0.42"/><circle cx="186.0" cy="377.9" r="0.42"/><circle cx="185.1" cy="398.1" r="0.42"/><circle cx="185.7" cy="411.2" r="0.42"/><circle cx="183.5" cy="395.7" r="0.42"/><circle cx="185.7" cy="380.7" r="0.42"/><circle cx="186.1" cy="401.5" r="0.42"/><circle cx="185.2" cy="405.9" r="0.42"/><circle cx="184.6" cy="386.6" r="0.42"/><circle cx="184.6" cy="401.2" r="0.42"/><circle cx="184.4" cy="412.8" r="0.42"/><circle cx="185.5" cy="379.7" r="0.42"/><circle cx="187.3" cy="379.9" r="0.42"/><circle cx="185.6" cy="390.1" r="0.42"/><circle cx="184.9" cy="399.8" r="0.42"/><circle cx="183.8" cy="380.0" r="0.42"/><circle cx="186.7" cy="414.2" r="0.42"/><circle cx="186.3" cy="384.0" r="0.42"/><circle cx="186.5" cy="402.8" r="0.42"/><circle cx="186.4" cy="396.3" r="0.42"/><circle cx="186.3" cy="414.6" r="0.42"/><circle cx="185.5" cy="421.8" r="0.42"/><circle cx="187.4" cy="393.9" r="0.42"/><circle cx="185.7" cy="367.3" r="0.42"/><circle cx="185.7" cy="392.6" r="0.42"/><circle cx="186.4" cy="416.4" r="0.42"/><circle cx="187.4" cy="404.2" r="0.42"/><circle cx="184.9" cy="383.8" r="0.42"/><circle cx="186.0" cy="422.6" r="0.42"/><circle cx="186.0" cy="376.0" r="0.42"/><circle cx="187.2" cy="387.6" r="0.42"/><circle cx="185.2" cy="417.9" r="0.42"/><circle cx="184.9" cy="419.8" r="0.42"/><circle cx="186.3" cy="415.0" r="0.42"/><circle cx="184.3" cy="401.3" r="0.42"/><circle cx="183.4" cy="399.4" r="0.42"/><circle cx="183.8" cy="395.7" r="0.42"/><circle cx="184.7" cy="418.8" r="0.42"/><circle cx="186.3" cy="371.4" r="0.42"/><circle cx="185.2" cy="407.8" r="0.42"/><circle cx="185.8" cy="413.1" r="0.42"/><circle cx="182.7" cy="394.6" r="0.42"/><circle cx="186.7" cy="409.2" r="0.42"/><circle cx="184.3" cy="395.3" r="0.42"/><circle cx="184.0" cy="402.5" r="0.42"/><circle cx="186.5" cy="403.1" r="0.42"/><circle cx="186.0" cy="422.6" r="0.42"/><circle cx="186.4" cy="405.6" r="0.42"/><circle cx="185.4" cy="421.2" r="0.42"/><circle cx="184.9" cy="387.0" r="0.42"/><circle cx="184.8" cy="386.6" r="0.42"/><circle cx="186.0" cy="401.4" r="0.42"/><circle cx="185.8" cy="405.0" r="0.42"/><circle cx="186.1" cy="398.4" r="0.42"/><circle cx="186.5" cy="414.5" r="0.42"/><circle cx="185.4" cy="422.5" r="0.42"/><circle cx="187.4" cy="399.7" r="0.42"/><circle cx="186.1" cy="405.6" r="0.42"/><circle cx="186.7" cy="398.6" r="0.42"/><circle cx="184.7" cy="397.8" r="0.42"/><circle cx="185.3" cy="402.2" r="0.42"/><circle cx="185.3" cy="413.8" r="0.42"/><circle cx="185.5" cy="404.6" r="0.42"/><circle cx="185.1" cy="407.4" r="0.42"/><circle cx="184.3" cy="417.4" r="0.42"/><circle cx="185.0" cy="398.0" r="0.42"/><circle cx="185.7" cy="411.4" r="0.42"/><circle cx="185.4" cy="409.3" r="0.42"/><circle cx="184.6" cy="393.7" r="0.42"/><circle cx="185.2" cy="398.7" r="0.42"/><circle cx="186.1" cy="406.6" r="0.42"/><circle cx="185.6" cy="415.7" r="0.42"/><circle cx="184.6" cy="393.3" r="0.42"/><circle cx="186.1" cy="403.8" r="0.42"/><circle cx="187.5" cy="405.4" r="0.42"/><circle cx="186.9" cy="389.4" r="0.42"/><circle cx="187.0" cy="417.8" r="0.42"/><circle cx="186.7" cy="402.9" r="0.42"/><circle cx="185.6" cy="396.7" r="0.42"/><circle cx="187.5" cy="403.2" r="0.42"/><circle cx="186.7" cy="400.2" r="0.42"/><circle cx="185.0" cy="403.9" r="0.42"/><circle cx="186.4" cy="406.2" r="0.42"/><circle cx="186.3" cy="393.7" r="0.42"/><circle cx="184.8" cy="393.7" r="0.42"/><circle cx="185.5" cy="405.9" r="0.42"/><circle cx="184.1" cy="390.2" r="0.42"/><circle cx="185.9" cy="403.3" r="0.42"/><circle cx="185.9" cy="397.0" r="0.42"/><circle cx="186.1" cy="383.1" r="0.42"/><circle cx="186.0" cy="408.4" r="0.42"/><circle cx="185.8" cy="395.0" r="0.42"/><circle cx="186.8" cy="404.7" r="0.42"/><circle cx="186.0" cy="406.6" r="0.42"/><circle cx="186.6" cy="393.6" r="0.42"/><circle cx="185.2" cy="418.2" r="0.42"/><circle cx="186.0" cy="411.3" r="0.42"/><circle cx="184.4" cy="402.4" r="0.42"/><circle cx="186.0" cy="378.8" r="0.42"/><circle cx="186.8" cy="398.1" r="0.42"/><circle cx="185.7" cy="397.5" r="0.42"/><circle cx="186.2" cy="410.9" r="0.42"/><circle cx="186.4" cy="396.2" r="0.42"/><circle cx="186.7" cy="408.1" r="0.42"/><circle cx="185.7" cy="396.4" r="0.42"/><circle cx="184.9" cy="397.9" r="0.42"/><circle cx="186.1" cy="406.3" r="0.42"/><circle cx="185.4" cy="421.4" r="0.42"/><circle cx="186.8" cy="408.0" r="0.42"/><circle cx="185.8" cy="401.5" r="0.42"/><circle cx="185.0" cy="404.7" r="0.42"/><circle cx="186.8" cy="390.2" r="0.42"/><circle cx="185.6" cy="405.2" r="0.42"/><circle cx="185.8" cy="386.9" r="0.42"/><circle cx="184.6" cy="418.2" r="0.42"/><circle cx="186.8" cy="391.4" r="0.42"/><circle cx="187.2" cy="421.5" r="0.42"/><circle cx="186.3" cy="395.8" r="0.42"/><circle cx="186.2" cy="393.3" r="0.42"/><circle cx="185.9" cy="398.3" r="0.42"/><circle cx="186.0" cy="420.4" r="0.42"/><circle cx="185.8" cy="399.9" r="0.42"/><circle cx="185.2" cy="406.4" r="0.42"/><circle cx="186.3" cy="405.7" r="0.42"/><circle cx="184.5" cy="376.3" r="0.42"/><circle cx="186.6" cy="387.0" r="0.42"/><circle cx="185.8" cy="405.5" r="0.42"/><circle cx="183.3" cy="417.7" r="0.42"/><circle cx="182.6" cy="400.7" r="0.42"/><circle cx="185.2" cy="405.0" r="0.42"/><circle cx="186.0" cy="396.7" r="0.42"/><circle cx="186.8" cy="395.5" r="0.42"/><circle cx="186.1" cy="403.0" r="0.42"/><circle cx="186.6" cy="397.2" r="0.42"/><circle cx="186.9" cy="392.3" r="0.42"/><circle cx="185.8" cy="415.5" r="0.42"/><circle cx="187.3" cy="415.8" r="0.42"/><circle cx="185.7" cy="420.8" r="0.42"/><circle cx="186.8" cy="402.3" r="0.42"/><circle cx="185.1" cy="384.0" r="0.42"/><circle cx="186.3" cy="409.3" r="0.42"/><circle cx="186.1" cy="407.2" r="0.42"/><circle cx="185.5" cy="386.0" r="0.42"/><circle cx="185.5" cy="406.4" r="0.42"/><circle cx="186.3" cy="403.8" r="0.42"/><circle cx="185.1" cy="390.7" r="0.42"/><circle cx="186.8" cy="380.1" r="0.42"/><circle cx="184.0" cy="389.4" r="0.42"/><circle cx="185.5" cy="412.9" r="0.42"/><circle cx="185.3" cy="415.4" r="0.42"/><circle cx="185.8" cy="412.2" r="0.42"/><circle cx="185.5" cy="404.5" r="0.42"/><circle cx="187.7" cy="413.4" r="0.42"/><circle cx="184.6" cy="397.6" r="0.42"/><circle cx="186.8" cy="410.7" r="0.42"/><circle cx="185.0" cy="383.8" r="0.42"/><circle cx="186.3" cy="390.2" r="0.42"/><circle cx="185.0" cy="409.5" r="0.42"/><circle cx="186.4" cy="388.5" r="0.42"/><circle cx="186.3" cy="376.6" r="0.42"/><circle cx="187.6" cy="401.0" r="0.42"/><circle cx="185.1" cy="415.8" r="0.42"/><circle cx="185.4" cy="399.5" r="0.42"/><circle cx="185.8" cy="393.7" r="0.42"/><circle cx="184.2" cy="415.4" r="0.42"/><circle cx="187.2" cy="400.1" r="0.42"/><circle cx="184.9" cy="412.5" r="0.42"/><circle cx="184.9" cy="392.7" r="0.42"/><circle cx="186.8" cy="382.4" r="0.42"/><circle cx="185.0" cy="403.9" r="0.42"/><circle cx="185.3" cy="384.6" r="0.42"/><circle cx="187.4" cy="396.4" r="0.42"/><circle cx="185.8" cy="397.1" r="0.42"/><circle cx="186.4" cy="416.7" r="0.42"/><circle cx="183.6" cy="400.7" r="0.42"/><circle cx="186.3" cy="420.9" r="0.42"/><circle cx="185.6" cy="397.4" r="0.42"/><circle cx="184.8" cy="390.8" r="0.42"/><circle cx="186.2" cy="384.0" r="0.42"/><circle cx="185.9" cy="409.6" r="0.42"/><circle cx="186.2" cy="413.0" r="0.42"/><circle cx="184.8" cy="404.6" r="0.42"/><circle cx="186.9" cy="410.6" r="0.42"/><circle cx="186.9" cy="411.1" r="0.42"/><circle cx="184.7" cy="397.0" r="0.42"/><circle cx="185.1" cy="419.0" r="0.42"/><circle cx="185.5" cy="406.1" r="0.42"/><circle cx="185.4" cy="403.3" r="0.42"/><circle cx="183.9" cy="396.1" r="0.42"/><circle cx="183.8" cy="405.6" r="0.42"/><circle cx="184.6" cy="391.4" r="0.42"/><circle cx="183.2" cy="393.5" r="0.42"/><circle cx="187.3" cy="410.3" r="0.42"/><circle cx="186.4" cy="399.9" r="0.42"/><circle cx="184.5" cy="410.7" r="0.42"/><circle cx="184.0" cy="418.5" r="0.42"/><circle cx="185.3" cy="395.7" r="0.42"/><circle cx="185.8" cy="419.0" r="0.42"/><circle cx="184.9" cy="401.4" r="0.42"/><circle cx="185.7" cy="404.1" r="0.42"/><circle cx="187.1" cy="412.3" r="0.42"/><circle cx="185.7" cy="412.4" r="0.42"/><circle cx="187.3" cy="401.1" r="0.42"/><circle cx="185.7" cy="405.6" r="0.42"/><circle cx="186.3" cy="423.0" r="0.42"/><circle cx="185.1" cy="401.6" r="0.42"/><circle cx="185.3" cy="416.6" r="0.42"/><circle cx="184.9" cy="415.2" r="0.42"/><circle cx="186.1" cy="404.3" r="0.42"/><circle cx="185.9" cy="404.8" r="0.42"/><circle cx="184.6" cy="407.9" r="0.42"/><circle cx="185.6" cy="388.9" r="0.42"/><circle cx="184.8" cy="401.4" r="0.42"/><circle cx="185.7" cy="394.6" r="0.42"/><circle cx="185.1" cy="418.0" r="0.42"/><circle cx="185.9" cy="410.1" r="0.42"/><circle cx="184.8" cy="398.5" r="0.42"/><circle cx="185.0" cy="401.1" r="0.42"/><circle cx="184.0" cy="409.8" r="0.42"/><circle cx="186.4" cy="417.3" r="0.42"/><circle cx="187.2" cy="410.4" r="0.42"/><circle cx="184.0" cy="410.7" r="0.42"/><circle cx="186.1" cy="403.7" r="0.42"/><circle cx="184.6" cy="394.3" r="0.42"/><circle cx="186.2" cy="408.5" r="0.42"/><circle cx="185.5" cy="397.6" r="0.42"/><circle cx="185.1" cy="396.6" r="0.42"/><circle cx="186.7" cy="402.3" r="0.42"/><circle cx="185.4" cy="382.6" r="0.42"/><circle cx="185.9" cy="407.0" r="0.42"/><circle cx="184.7" cy="413.6" r="0.42"/><circle cx="184.1" cy="387.7" r="0.42"/><circle cx="185.9" cy="384.5" r="0.42"/><circle cx="185.3" cy="413.8" r="0.42"/><circle cx="186.1" cy="394.4" r="0.42"/><circle cx="186.0" cy="410.8" r="0.42"/><circle cx="185.2" cy="378.9" r="0.42"/><circle cx="185.9" cy="370.9" r="0.42"/><circle cx="185.1" cy="392.2" r="0.42"/><circle cx="187.0" cy="422.0" r="0.42"/><circle cx="186.0" cy="409.1" r="0.42"/><circle cx="185.1" cy="405.2" r="0.42"/><circle cx="187.6" cy="402.4" r="0.42"/><circle cx="185.1" cy="391.9" r="0.42"/><circle cx="186.6" cy="405.1" r="0.42"/><circle cx="184.8" cy="413.6" r="0.42"/><circle cx="185.4" cy="401.4" r="0.42"/><circle cx="185.8" cy="387.4" r="0.42"/><circle cx="186.6" cy="396.9" r="0.42"/><circle cx="184.9" cy="408.5" r="0.42"/><circle cx="185.4" cy="404.0" r="0.42"/><circle cx="185.2" cy="395.0" r="0.42"/><circle cx="185.3" cy="416.5" r="0.42"/><circle cx="184.9" cy="381.3" r="0.42"/><circle cx="187.8" cy="413.2" r="0.42"/><circle cx="185.4" cy="389.7" r="0.42"/><circle cx="184.3" cy="398.8" r="0.42"/><circle cx="185.7" cy="408.1" r="0.42"/><circle cx="187.9" cy="406.5" r="0.42"/><circle cx="186.5" cy="399.6" r="0.42"/><circle cx="185.1" cy="413.5" r="0.42"/><circle cx="187.2" cy="395.5" r="0.42"/><circle cx="185.8" cy="412.0" r="0.42"/><circle cx="186.6" cy="389.2" r="0.42"/><circle cx="187.8" cy="409.7" r="0.42"/><circle cx="186.5" cy="421.6" r="0.42"/><circle cx="185.8" cy="406.4" r="0.42"/><circle cx="186.0" cy="396.0" r="0.42"/><circle cx="186.3" cy="406.1" r="0.42"/><circle cx="186.0" cy="416.7" r="0.42"/><circle cx="186.5" cy="396.1" r="0.42"/><circle cx="184.9" cy="422.6" r="0.42"/><circle cx="186.2" cy="408.3" r="0.42"/><circle cx="186.2" cy="409.8" r="0.42"/><circle cx="185.6" cy="401.9" r="0.42"/><circle cx="183.2" cy="385.3" r="0.42"/><circle cx="185.0" cy="408.5" r="0.42"/><circle cx="184.2" cy="396.5" r="0.42"/><circle cx="185.6" cy="407.5" r="0.42"/><circle cx="186.6" cy="396.2" r="0.42"/><circle cx="186.8" cy="421.6" r="0.42"/><circle cx="186.3" cy="397.8" r="0.42"/><circle cx="186.8" cy="402.5" r="0.42"/><circle cx="185.7" cy="410.4" r="0.42"/><circle cx="185.0" cy="410.0" r="0.42"/><circle cx="187.2" cy="413.0" r="0.42"/><circle cx="186.2" cy="398.4" r="0.42"/><circle cx="186.6" cy="382.0" r="0.42"/><circle cx="184.7" cy="414.1" r="0.42"/><circle cx="184.0" cy="404.4" r="0.42"/><circle cx="186.5" cy="385.7" r="0.42"/><circle cx="186.8" cy="399.6" r="0.42"/><circle cx="185.6" cy="383.4" r="0.42"/><circle cx="185.0" cy="415.3" r="0.42"/><circle cx="185.4" cy="411.6" r="0.42"/><circle cx="186.0" cy="407.4" r="0.42"/></g>
<g fill="#aaa"><circle cx="198.6" cy="392.6" r="0.45"/><circle cx="206.2" cy="398.0" r="0.45"/><circle cx="195.9" cy="405.4" r="0.45"/><circle cx="204.9" cy="408.6" r="0.45"/><circle cx="203.6" cy="398.0" r="0.45"/><circle cx="205.0" cy="375.4" r="0.45"/><circle cx="202.5" cy="381.1" r="0.45"/><circle cx="205.4" cy="370.0" r="0.45"/><circle cx="200.6" cy="379.1" r="0.45"/><circle cx="205.1" cy="379.5" r="0.45"/><circle cx="205.5" cy="402.2" r="0.45"/><circle cx="206.1" cy="370.3" r="0.45"/><circle cx="207.0" cy="397.5" r="0.45"/><circle cx="202.8" cy="393.4" r="0.45"/><circle cx="192.8" cy="403.2" r="0.45"/><circle cx="200.8" cy="384.5" r="0.45"/><circle cx="197.4" cy="399.2" r="0.45"/><circle cx="204.5" cy="403.1" r="0.45"/><circle cx="195.4" cy="379.3" r="0.45"/><circle cx="196.0" cy="368.5" r="0.45"/><circle cx="197.2" cy="365.2" r="0.45"/><circle cx="204.7" cy="374.2" r="0.45"/></g>
<g fill="none" stroke="#2f3a94" stroke-width="1.9" stroke-linejoin="miter">
<polygon points="49.4,365.1 61.8,365.1 61.8,426.1 49.4,426.1"/>
<polygon points="61.8,365.1 82.8,354.6 82.8,403.7 61.8,417.2"/>
<polygon points="179.9,362.9 189.3,362.9 189.3,424.7 179.9,424.7"/>
<polygon points="189.3,362.9 210.3,359.9 210.3,408.2 189.3,415"/>
</g>
<text x="87.8" y="373.3" font-size="10.2" font-weight="bold" fill="#2f3a94" text-anchor="start" textLength="19.5" lengthAdjust="spacingAndGlyphs" stroke="#2f3a94" stroke-width="0.35">15.6</text>
<text x="44.5" y="435" font-size="10.2" font-weight="bold" fill="#2f3a94" text-anchor="start" textLength="19.3" lengthAdjust="spacingAndGlyphs" stroke="#2f3a94" stroke-width="0.35">83.2</text>
<text x="215" y="375.6" font-size="10.2" font-weight="bold" fill="#2f3a94" text-anchor="start" textLength="19.5" lengthAdjust="spacingAndGlyphs" stroke="#2f3a94" stroke-width="0.35">3.93</text>
<text x="173.7" y="437.7" font-size="10.2" font-weight="bold" fill="#2f3a94" text-anchor="start" textLength="18" lengthAdjust="spacingAndGlyphs" stroke="#2f3a94" stroke-width="0.35">94.1</text>
<path d="M13,403 L13,409" stroke="#000" stroke-width="2"/>
<polygon points="13,398.3 17.3,407.5 13,405.5 8.7,407.5" fill="#000"/>
<text transform="translate(17.2,421.5) rotate(-90)" x="0" y="0" font-size="11" fill="#000" stroke="#000" stroke-width="0.4" text-anchor="middle" textLength="20" lengthAdjust="spacingAndGlyphs">FSC</text>
<path d="M13,434 L13,464.2 L44,464.2" fill="none" stroke="#000" stroke-width="2.1"/>
<text x="45.8" y="467.8" font-size="11" font-weight="normal" fill="#000" text-anchor="start" textLength="22.5" lengthAdjust="spacingAndGlyphs" stroke="#000" stroke-width="0.4">DAPI</text>
<path d="M69,464 L78,464" stroke="#000" stroke-width="2"/>
<polygon points="83.2,464 74,459.7 76,464 74,468.3" fill="#000"/>
<text x="279.5" y="342.8" font-size="12" font-weight="bold" fill="#000" text-anchor="start" stroke="#000" stroke-width="0.7">C</text>
<path d="M301.8,359.5 L301.8,439.6" stroke="#000" stroke-width="1.1"/>
<line x1="301.3" y1="439.60" x2="304.8" y2="439.60" stroke="#000" stroke-width="1.1"/>
<text x="298.3" y="442.6" font-size="8.4" font-weight="normal" fill="#000" text-anchor="end" >0</text>
<line x1="301.3" y1="419.58" x2="304.8" y2="419.58" stroke="#000" stroke-width="1.1"/>
<text x="298.3" y="422.58" font-size="8.4" font-weight="normal" fill="#000" text-anchor="end" >5</text>
<line x1="301.3" y1="399.56" x2="304.8" y2="399.56" stroke="#000" stroke-width="1.1"/>
<text x="298.3" y="402.56" font-size="8.4" font-weight="normal" fill="#000" text-anchor="end" >10</text>
<line x1="301.3" y1="379.54" x2="304.8" y2="379.54" stroke="#000" stroke-width="1.1"/>
<text x="298.3" y="382.54" font-size="8.4" font-weight="normal" fill="#000" text-anchor="end" >15</text>
<line x1="301.3" y1="359.52" x2="304.8" y2="359.52" stroke="#000" stroke-width="1.1"/>
<text x="298.3" y="362.52" font-size="8.4" font-weight="normal" fill="#000" text-anchor="end" >20</text>
<text transform="translate(288.3,399.3) rotate(-90)" x="0" y="0" font-size="11" fill="#000" text-anchor="middle" textLength="81" lengthAdjust="spacingAndGlyphs">%SG2M phase</text>
<rect x="306.3" y="378.3" width="26.70" height="61.30" fill="#666" stroke="#111" stroke-width="1"/>
<rect x="342.5" y="376.8" width="27.00" height="62.80" fill="#666" stroke="#111" stroke-width="1"/>
<rect x="379.3" y="397.6" width="26.40" height="42.00" fill="#666" stroke="#111" stroke-width="1"/>
<rect x="415.6" y="424.3" width="26.20" height="15.30" fill="#fff" stroke="#111" stroke-width="1"/>
<rect x="451.8" y="428.3" width="25.70" height="11.30" fill="#fff" stroke="#111" stroke-width="1"/>
<rect x="488" y="429.6" width="26.20" height="10.00" fill="#fff" stroke="#111" stroke-width="1"/>
<line x1="337.6" y1="439.6" x2="337.6" y2="438" stroke="#000" stroke-width="1"/>
<line x1="374" y1="439.6" x2="374" y2="438" stroke="#000" stroke-width="1"/>
<line x1="410.2" y1="439.6" x2="410.2" y2="438" stroke="#000" stroke-width="1"/>
<line x1="447" y1="439.6" x2="447" y2="438" stroke="#000" stroke-width="1"/>
<line x1="483.2" y1="439.6" x2="483.2" y2="438" stroke="#000" stroke-width="1"/>
<line x1="518.8" y1="439.6" x2="518.8" y2="438" stroke="#000" stroke-width="1"/>
<path d="M318.8,370.8 L393,370.8 M356.3,370.8 L356.3,363.3 L464.3,363.3 L464.3,422 M427,422 L501.8,422" fill="none" stroke="#000" stroke-width="1.6"/>
<text x="395" y="376.3" font-size="9.3" font-weight="normal" fill="#000" text-anchor="start" textLength="35" lengthAdjust="spacingAndGlyphs" >p=0.003</text>
<text x="326.5" y="454.6" font-size="10.3" font-weight="normal" fill="#000" text-anchor="start" textLength="58" lengthAdjust="spacingAndGlyphs" >nl BM CD34</text>
<text x="385.3" y="451.9" font-size="9" font-weight="normal" fill="#000" text-anchor="start" >+</text>
<text x="420.8" y="454.6" font-size="10.3" font-weight="normal" fill="#000" text-anchor="start" textLength="83.8" lengthAdjust="spacingAndGlyphs" >AML t(8;21) CD34</text>
<text x="506.0" y="451.9" font-size="9" font-weight="normal" fill="#000" text-anchor="start" >+</text>
<text x="-1" y="485.6" font-size="12" font-weight="bold" fill="#000" text-anchor="start" stroke="#000" stroke-width="0.7">D</text>
<text x="242" y="484.75" font-size="9.9" font-weight="normal" fill="#111" text-anchor="end" textLength="118.5" lengthAdjust="spacingAndGlyphs" stroke="#111" stroke-width="0.3">BENPORATH PROLIFERATION</text>
<text x="242" y="502.85" font-size="9.9" font-weight="normal" fill="#111" text-anchor="end" textLength="99.1" lengthAdjust="spacingAndGlyphs" stroke="#111" stroke-width="0.3">CHANG CYCLING GENES</text>
<text x="242" y="521.15" font-size="9.9" font-weight="normal" fill="#111" text-anchor="end" textLength="84" lengthAdjust="spacingAndGlyphs" stroke="#111" stroke-width="0.3">YU MYC TARGETS UP</text>
<text x="242" y="539.45" font-size="9.9" font-weight="normal" fill="#111" text-anchor="end" textLength="147" lengthAdjust="spacingAndGlyphs" stroke="#111" stroke-width="0.3">WHITFIELD CELL CYCLE LITERATURE</text>
<text x="242" y="557.45" font-size="9.9" font-weight="normal" fill="#111" text-anchor="end" textLength="82.9" lengthAdjust="spacingAndGlyphs" stroke="#111" stroke-width="0.3">ISHIDA E2F TARGETS</text>
<text x="242" y="575.75" font-size="9.9" font-weight="normal" fill="#111" text-anchor="end" textLength="235.8" lengthAdjust="spacingAndGlyphs" stroke="#111" stroke-width="0.3">GRAHAM NORMAL QUIESCENT VS NORMAL DIVIDING DN</text>
<g shape-rendering="crispEdges"><rect x="245.6" y="472.40" width="13.0" height="18.47" fill="#fceef0"/>
<rect x="258.3" y="472.40" width="12.5" height="18.47" fill="#fae1e4"/>
<rect x="270.5" y="472.40" width="12.6" height="18.47" fill="#fbe8eb"/>
<rect x="282.8" y="472.40" width="12.5" height="18.47" fill="#f8d7dc"/>
<rect x="295.0" y="472.40" width="12.6" height="18.47" fill="#fbe6e9"/>
<rect x="307.3" y="472.40" width="13.5" height="18.47" fill="#fae1e4"/>
<rect x="320.5" y="472.40" width="13.6" height="18.47" fill="#fadee2"/>
<rect x="333.8" y="472.40" width="12.5" height="18.47" fill="#f8d2d7"/>
<rect x="346.0" y="472.40" width="12.8" height="18.47" fill="#988ccd"/>
<rect x="358.5" y="472.40" width="13.0" height="18.47" fill="#a59bd7"/>
<rect x="371.2" y="472.40" width="12.9" height="18.47" fill="#8c82c8"/>
<rect x="383.8" y="472.40" width="13.0" height="18.47" fill="#5a50af"/>
<rect x="396.5" y="472.40" width="13.0" height="18.47" fill="#645ab4"/>
<rect x="409.2" y="472.40" width="13.0" height="18.47" fill="#695fb4"/>
<rect x="421.9" y="472.40" width="13.0" height="18.47" fill="#8278c3"/>
<rect x="434.6" y="472.40" width="13.0" height="18.47" fill="#5f55af"/>
<rect x="447.3" y="472.40" width="13.0" height="18.47" fill="#786ebe"/>
<rect x="460.0" y="472.40" width="12.9" height="18.47" fill="#6e64b9"/>
<rect x="245.6" y="490.57" width="13.0" height="18.47" fill="#fceef0"/>
<rect x="258.3" y="490.57" width="12.5" height="18.47" fill="#fae4e7"/>
<rect x="270.5" y="490.57" width="12.6" height="18.47" fill="#fae1e4"/>
<rect x="282.8" y="490.57" width="12.5" height="18.47" fill="#f7cdd2"/>
<rect x="295.0" y="490.57" width="12.6" height="18.47" fill="#fae1e4"/>
<rect x="307.3" y="490.57" width="13.5" height="18.47" fill="#f7cdd2"/>
<rect x="320.5" y="490.57" width="13.6" height="18.47" fill="#f6c8cd"/>
<rect x="333.8" y="490.57" width="12.5" height="18.47" fill="#f3a5aa"/>
<rect x="346.0" y="490.57" width="12.8" height="18.47" fill="#9687c8"/>
<rect x="358.5" y="490.57" width="13.0" height="18.47" fill="#aa96d2"/>
<rect x="371.2" y="490.57" width="12.9" height="18.47" fill="#645ab4"/>
<rect x="383.8" y="490.57" width="13.0" height="18.47" fill="#554baa"/>
<rect x="396.5" y="490.57" width="13.0" height="18.47" fill="#5f55af"/>
<rect x="409.2" y="490.57" width="13.0" height="18.47" fill="#5a50af"/>
<rect x="421.9" y="490.57" width="13.0" height="18.47" fill="#645ab4"/>
<rect x="434.6" y="490.57" width="13.0" height="18.47" fill="#554baa"/>
<rect x="447.3" y="490.57" width="13.0" height="18.47" fill="#645ab4"/>
<rect x="460.0" y="490.57" width="12.9" height="18.47" fill="#5f55b2"/>
<rect x="245.6" y="508.73" width="13.0" height="18.47" fill="#fcf0f2"/>
<rect x="258.3" y="508.73" width="12.5" height="18.47" fill="#fae4e7"/>
<rect x="270.5" y="508.73" width="12.6" height="18.47" fill="#fae1e4"/>
<rect x="282.8" y="508.73" width="12.5" height="18.47" fill="#f7d2d7"/>
<rect x="295.0" y="508.73" width="12.6" height="18.47" fill="#fae4e7"/>
<rect x="307.3" y="508.73" width="13.5" height="18.47" fill="#fadee2"/>
<rect x="320.5" y="508.73" width="13.6" height="18.47" fill="#f7cdd2"/>
<rect x="333.8" y="508.73" width="12.5" height="18.47" fill="#f6c3c8"/>
<rect x="346.0" y="508.73" width="12.8" height="18.47" fill="#584eaa"/>
<rect x="358.5" y="508.73" width="13.0" height="18.47" fill="#5c52ac"/>
<rect x="371.2" y="508.73" width="12.9" height="18.47" fill="#3e38a0"/>
<rect x="383.8" y="508.73" width="13.0" height="18.47" fill="#342e98"/>
<rect x="396.5" y="508.73" width="13.0" height="18.47" fill="#37329b"/>
<rect x="409.2" y="508.73" width="13.0" height="18.47" fill="#342e98"/>
<rect x="421.9" y="508.73" width="13.0" height="18.47" fill="#38329b"/>
<rect x="434.6" y="508.73" width="13.0" height="18.47" fill="#342e98"/>
<rect x="447.3" y="508.73" width="13.0" height="18.47" fill="#38329b"/>
<rect x="460.0" y="508.73" width="12.9" height="18.47" fill="#36309a"/>
<rect x="245.6" y="526.90" width="13.0" height="18.47" fill="#fcf0f2"/>
<rect x="258.3" y="526.90" width="12.5" height="18.47" fill="#f8cdd2"/>
<rect x="270.5" y="526.90" width="12.6" height="18.47" fill="#f8d2d6"/>
<rect x="282.8" y="526.90" width="12.5" height="18.47" fill="#f5b9be"/>
<rect x="295.0" y="526.90" width="12.6" height="18.47" fill="#f5bcc0"/>
<rect x="307.3" y="526.90" width="13.5" height="18.47" fill="#f8d2d6"/>
<rect x="320.5" y="526.90" width="13.6" height="18.47" fill="#f8d2d6"/>
<rect x="333.8" y="526.90" width="12.5" height="18.47" fill="#f8cdd2"/>
<rect x="346.0" y="526.90" width="12.8" height="18.47" fill="#3e38a0"/>
<rect x="358.5" y="526.90" width="13.0" height="18.47" fill="#463ea5"/>
<rect x="371.2" y="526.90" width="12.9" height="18.47" fill="#342e98"/>
<rect x="383.8" y="526.90" width="13.0" height="18.47" fill="#322c96"/>
<rect x="396.5" y="526.90" width="13.0" height="18.47" fill="#36309a"/>
<rect x="409.2" y="526.90" width="13.0" height="18.47" fill="#322c96"/>
<rect x="421.9" y="526.90" width="13.0" height="18.47" fill="#342e98"/>
<rect x="434.6" y="526.90" width="13.0" height="18.47" fill="#322c96"/>
<rect x="447.3" y="526.90" width="13.0" height="18.47" fill="#352f99"/>
<rect x="460.0" y="526.90" width="12.9" height="18.47" fill="#322c96"/>
<rect x="245.6" y="545.07" width="13.0" height="18.47" fill="#fcf0f2"/>
<rect x="258.3" y="545.07" width="12.5" height="18.47" fill="#fae1e4"/>
<rect x="270.5" y="545.07" width="12.6" height="18.47" fill="#f9d7db"/>
<rect x="282.8" y="545.07" width="12.5" height="18.47" fill="#f5b9be"/>
<rect x="295.0" y="545.07" width="12.6" height="18.47" fill="#f9d7db"/>
<rect x="307.3" y="545.07" width="13.5" height="18.47" fill="#fdf5f6"/>
<rect x="320.5" y="545.07" width="13.6" height="18.47" fill="#f4aaaf"/>
<rect x="333.8" y="545.07" width="12.5" height="18.47" fill="#f3a0a5"/>
<rect x="346.0" y="545.07" width="12.8" height="18.47" fill="#3a349e"/>
<rect x="358.5" y="545.07" width="13.0" height="18.47" fill="#403aa2"/>
<rect x="371.2" y="545.07" width="12.9" height="18.47" fill="#322c96"/>
<rect x="383.8" y="545.07" width="13.0" height="18.47" fill="#322c96"/>
<rect x="396.5" y="545.07" width="13.0" height="18.47" fill="#342e98"/>
<rect x="409.2" y="545.07" width="13.0" height="18.47" fill="#322c96"/>
<rect x="421.9" y="545.07" width="13.0" height="18.47" fill="#322c96"/>
<rect x="434.6" y="545.07" width="13.0" height="18.47" fill="#302a96"/>
<rect x="447.3" y="545.07" width="13.0" height="18.47" fill="#342e98"/>
<rect x="460.0" y="545.07" width="12.9" height="18.47" fill="#322c96"/>
<rect x="245.6" y="563.23" width="13.0" height="18.47" fill="#fdf4f6"/>
<rect x="258.3" y="563.23" width="12.5" height="18.47" fill="#fae4e7"/>
<rect x="270.5" y="563.23" width="12.6" height="18.47" fill="#fae1e4"/>
<rect x="282.8" y="563.23" width="12.5" height="18.47" fill="#f9d7db"/>
<rect x="295.0" y="563.23" width="12.6" height="18.47" fill="#f9dade"/>
<rect x="307.3" y="563.23" width="13.5" height="18.47" fill="#fae1e4"/>
<rect x="320.5" y="563.23" width="13.6" height="18.47" fill="#f9dade"/>
<rect x="333.8" y="563.23" width="12.5" height="18.47" fill="#f9d7db"/>
<rect x="346.0" y="563.23" width="12.8" height="18.47" fill="#38329c"/>
<rect x="358.5" y="563.23" width="13.0" height="18.47" fill="#3c369e"/>
<rect x="371.2" y="563.23" width="12.9" height="18.47" fill="#322c96"/>
<rect x="383.8" y="563.23" width="13.0" height="18.47" fill="#302a95"/>
<rect x="396.5" y="563.23" width="13.0" height="18.47" fill="#322c96"/>
<rect x="409.2" y="563.23" width="13.0" height="18.47" fill="#302a95"/>
<rect x="421.9" y="563.23" width="13.0" height="18.47" fill="#322c96"/>
<rect x="434.6" y="563.23" width="13.0" height="18.47" fill="#302a95"/>
<rect x="447.3" y="563.23" width="13.0" height="18.47" fill="#322c96"/>
<rect x="460.0" y="563.23" width="12.9" height="18.47" fill="#302a95"/></g>
<rect x="245" y="472.4" width="227.6" height="109" fill="none" stroke="#222" stroke-width="1"/>
<path d="M264,486.6 L333.3,486.6 M301.8,486.6 L301.8,483.6 L408.9,483.6 L408.9,521.8 M365,521.8 L452.8,521.8" fill="none" stroke="#111" stroke-width="1.1"/>
<text x="343.3" y="482.3" font-size="7.8" font-weight="normal" fill="#000" text-anchor="start" textLength="22.8" lengthAdjust="spacingAndGlyphs" stroke="#000" stroke-width="0.3">p=0.01</text>
<line x1="264.4" y1="493.5" x2="264.4" y2="581.4" stroke="#3a2a2a" stroke-width="0.9"/>
<line x1="302" y1="534.5" x2="302" y2="581.4" stroke="#3a2a2a" stroke-width="0.9"/>
<line x1="333.2" y1="525.6" x2="333.2" y2="581.4" stroke="#3a2a2a" stroke-width="0.9"/>
<line x1="364.6" y1="573" x2="364.6" y2="581.4" stroke="#3a2a2a" stroke-width="0.9"/>
<line x1="409.2" y1="573" x2="409.2" y2="581.4" stroke="#3a2a2a" stroke-width="0.9"/>
<line x1="453.6" y1="573" x2="453.6" y2="581.4" stroke="#3a2a2a" stroke-width="0.9"/>
<polyline points="264.4,493.5 302,534.5 333.2,525.6 364.6,573 409.2,573 453.6,573" fill="none" stroke="#111" stroke-width="2" stroke-dasharray="2.6 2.4"/>
<circle cx="264.4" cy="493.5" r="3.4" fill="#e8302d" stroke="#333" stroke-width="0.8"/>
<circle cx="302" cy="534.5" r="3.4" fill="#5a4ea2" stroke="#333" stroke-width="0.8"/>
<circle cx="333.2" cy="525.6" r="3.4" fill="#4b93d2" stroke="#333" stroke-width="0.8"/>
<circle cx="364.6" cy="573" r="3.4" fill="#8dc63f" stroke="#333" stroke-width="0.8"/>
<circle cx="409.2" cy="573" r="3.4" fill="#f9b71a" stroke="#333" stroke-width="0.8"/>
<circle cx="453.6" cy="573" r="3.4" fill="#c9559f" stroke="#333" stroke-width="0.8"/>
<path d="M479.8,478.5 L479.8,572.9" stroke="#333" stroke-width="1"/>
<line x1="474" y1="572.9" x2="479.8" y2="572.9" stroke="#222" stroke-width="1"/>
<text x="482.6" y="576.0" font-size="8.8" font-weight="normal" fill="#111" text-anchor="start" textLength="4.6" lengthAdjust="spacingAndGlyphs" >0</text>
<line x1="474" y1="554.02" x2="479.8" y2="554.02" stroke="#222" stroke-width="1"/>
<text x="482.6" y="557.12" font-size="8.8" font-weight="normal" fill="#111" text-anchor="start" textLength="9.6" lengthAdjust="spacingAndGlyphs" >10</text>
<line x1="474" y1="535.14" x2="479.8" y2="535.14" stroke="#222" stroke-width="1"/>
<text x="482.6" y="538.24" font-size="8.8" font-weight="normal" fill="#111" text-anchor="start" textLength="9.6" lengthAdjust="spacingAndGlyphs" >20</text>
<line x1="474" y1="516.26" x2="479.8" y2="516.26" stroke="#222" stroke-width="1"/>
<text x="482.6" y="519.36" font-size="8.8" font-weight="normal" fill="#111" text-anchor="start" textLength="9.6" lengthAdjust="spacingAndGlyphs" >30</text>
<line x1="474" y1="497.38" x2="479.8" y2="497.38" stroke="#222" stroke-width="1"/>
<text x="482.6" y="500.48" font-size="8.8" font-weight="normal" fill="#111" text-anchor="start" textLength="9.6" lengthAdjust="spacingAndGlyphs" >40</text>
<line x1="474" y1="478.5" x2="479.8" y2="478.5" stroke="#222" stroke-width="1"/>
<text x="482.6" y="481.6" font-size="8.8" font-weight="normal" fill="#111" text-anchor="start" textLength="9.6" lengthAdjust="spacingAndGlyphs" >50</text>
<text transform="translate(506.3,527.5) rotate(-90)" x="0" y="0" font-size="10.8" fill="#111" stroke="#111" stroke-width="0.3" text-anchor="middle" textLength="66.4" lengthAdjust="spacingAndGlyphs">%SG2M phase</text>
<text transform="translate(515.9,526.3) rotate(-90)" x="0" y="0" font-size="10.8" fill="#111" stroke="#111" stroke-width="0.3" text-anchor="middle" textLength="27.4" lengthAdjust="spacingAndGlyphs">(FACS)</text>
<rect x="245.8" y="593.6" width="37.20" height="16.2" fill="#e8302d"/>
<text x="264.4" y="605.5" font-size="11" font-weight="normal" fill="#3a0a0a" text-anchor="middle" stroke="#3a0a0a" stroke-width="0.25">ePM</text>
<rect x="283" y="593.6" width="37.30" height="16.2" fill="#5a4ea2"/>
<text x="301.65" y="605.5" font-size="11" font-weight="normal" fill="#12123a" text-anchor="middle" stroke="#12123a" stroke-width="0.25">IPM</text>
<rect x="320.3" y="593.6" width="25.20" height="16.2" fill="#4b93d2"/>
<text x="332.9" y="605.5" font-size="11" font-weight="normal" fill="#10203a" text-anchor="middle" stroke="#10203a" stroke-width="0.25">MY</text>
<rect x="345.5" y="593.6" width="38.50" height="16.2" fill="#8dc63f"/>
<text x="364.75" y="605.5" font-size="11" font-weight="normal" fill="#1a2a0a" text-anchor="middle" stroke="#1a2a0a" stroke-width="0.25">MM</text>
<rect x="384" y="593.6" width="50.30" height="16.2" fill="#f9b71a"/>
<text x="409.15" y="605.5" font-size="11" font-weight="normal" fill="#2a1a00" text-anchor="middle" stroke="#2a1a00" stroke-width="0.25">BC</text>
<rect x="434.3" y="593.6" width="38.30" height="16.2" fill="#c9559f"/>
<text x="453.45" y="605.5" font-size="11" font-weight="normal" fill="#3a0a2a" text-anchor="middle" stroke="#3a0a2a" stroke-width="0.25">PMN</text>
<text x="119.8" y="594.6" font-size="9.6" font-weight="normal" fill="#000" text-anchor="start" textLength="121.2" lengthAdjust="spacingAndGlyphs" >Median signature FC (vs GMP)</text>
<rect x="122.5" y="599" width="118.5" height="5.8" rx="2.9" fill="url(#cb)" stroke="#111" stroke-width="1"/>
<line x1="132.38" y1="603.2" x2="132.38" y2="604.8" stroke="#111" stroke-width="0.8"/>
<line x1="142.25" y1="603.2" x2="142.25" y2="604.8" stroke="#111" stroke-width="0.8"/>
<line x1="152.12" y1="603.2" x2="152.12" y2="604.8" stroke="#111" stroke-width="0.8"/>
<line x1="162.00" y1="603.2" x2="162.00" y2="604.8" stroke="#111" stroke-width="0.8"/>
<line x1="171.88" y1="603.2" x2="171.88" y2="604.8" stroke="#111" stroke-width="0.8"/>
<line x1="181.75" y1="603.2" x2="181.75" y2="604.8" stroke="#111" stroke-width="0.8"/>
<line x1="191.62" y1="603.2" x2="191.62" y2="604.8" stroke="#111" stroke-width="0.8"/>
<line x1="201.50" y1="603.2" x2="201.50" y2="604.8" stroke="#111" stroke-width="0.8"/>
<line x1="211.38" y1="603.2" x2="211.38" y2="604.8" stroke="#111" stroke-width="0.8"/>
<line x1="221.25" y1="603.2" x2="221.25" y2="604.8" stroke="#111" stroke-width="0.8"/>
<line x1="231.12" y1="603.2" x2="231.12" y2="604.8" stroke="#111" stroke-width="0.8"/>
<text x="124.5" y="614.3" font-size="8.4" font-weight="normal" fill="#111" text-anchor="start" textLength="13" lengthAdjust="spacingAndGlyphs" stroke="#111" stroke-width="0.25">&lt;−3</text>
<text x="182" y="612.6" font-size="8.4" font-weight="normal" fill="#111" text-anchor="middle" stroke="#111" stroke-width="0.25">0.0</text>
<text x="241" y="614.3" font-size="8.4" font-weight="normal" fill="#111" text-anchor="end" textLength="9.5" lengthAdjust="spacingAndGlyphs" stroke="#111" stroke-width="0.25">&gt;3</text>
</svg></body></html>
